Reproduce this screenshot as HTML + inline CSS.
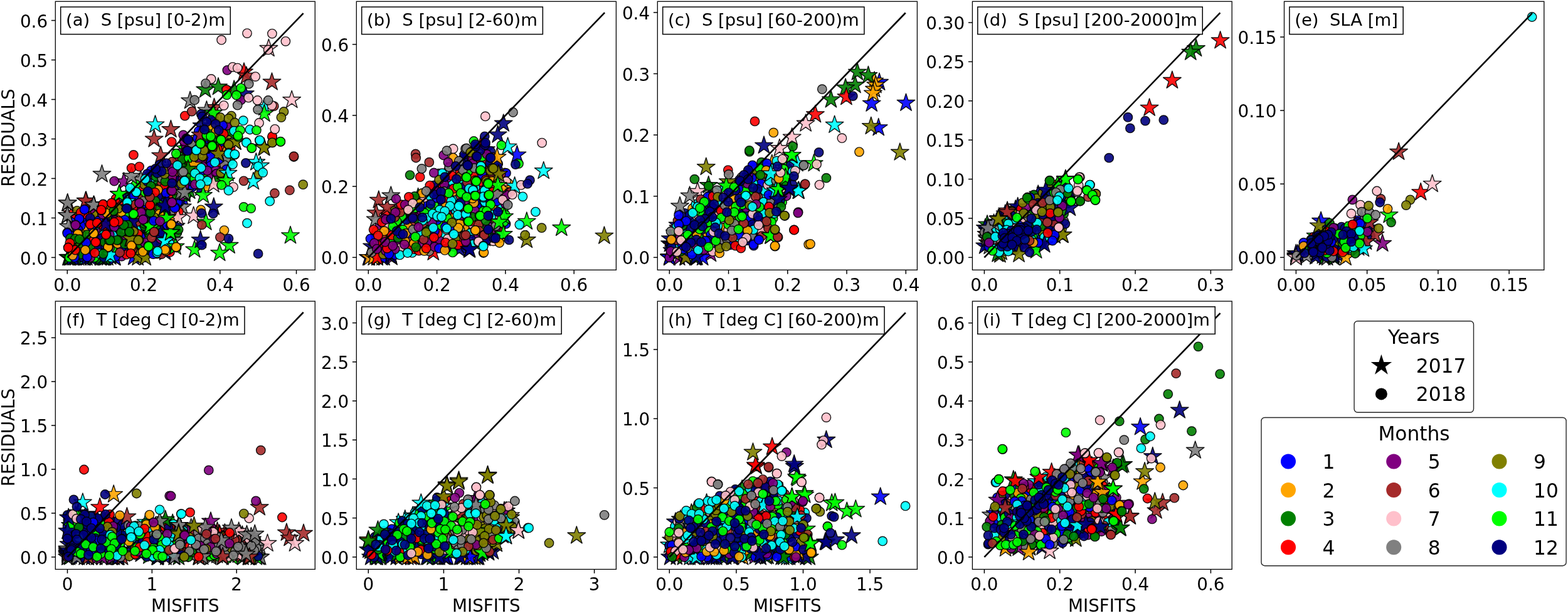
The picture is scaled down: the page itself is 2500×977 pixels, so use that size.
<!DOCTYPE html><html><head><meta charset="utf-8"><title>Misfits vs residuals</title><style>html,body{margin:0;padding:0;background:#fff;width:2500px;height:977px;overflow:hidden}svg{display:block}</style></head><body><svg width="2500" height="977" viewBox="0 0 2500 977">
<style>text{font-family:"DejaVu Sans","Liberation Sans",sans-serif;fill:#000}.t{font-size:27.78px}.b{font-size:27.45px}.l{font-size:31.25px}.sc{stroke:#000;stroke-width:1.4;fill-opacity:.9;stroke-opacity:.9;stroke-linejoin:round}.k1{fill:#0000ff}.k2{fill:#ffa500}.k3{fill:#008000}.k4{fill:#ff0000}.k5{fill:#800080}.k6{fill:#a52a2a}.k7{fill:#ffc0cb}.k8{fill:#808080}.k9{fill:#808000}.k10{fill:#00ffff}.k11{fill:#00ff00}.k12{fill:#000080}</style>
<rect width="2500" height="977" fill="#fff"/>
<defs><circle id="c" r="7.2"/><path id="s" d="M0.00,-15.00L-3.37,-4.64L-14.27,-4.64L-5.45,1.77L-8.82,12.14L-0.00,5.73L8.82,12.14L5.45,1.77L14.27,-4.64L3.37,-4.64Z"/>
<clipPath id="cpa"><rect x="88.3" y="2.3" width="414.0" height="428.0"/></clipPath>
<clipPath id="cpb"><rect x="568.3" y="2.3" width="414.1" height="428.0"/></clipPath>
<clipPath id="cpc"><rect x="1048.3" y="2.3" width="414.10000000000014" height="428.0"/></clipPath>
<clipPath id="cpd"><rect x="1550.4" y="2.3" width="413.79999999999995" height="428.0"/></clipPath>
<clipPath id="cpe"><rect x="2047.5" y="2.3" width="414.3000000000002" height="428.0"/></clipPath>
<clipPath id="cpf"><rect x="88.3" y="480.1" width="414.0" height="427.29999999999995"/></clipPath>
<clipPath id="cpg"><rect x="568.3" y="480.1" width="414.1" height="427.29999999999995"/></clipPath>
<clipPath id="cph"><rect x="1048.3" y="480.1" width="414.10000000000014" height="427.29999999999995"/></clipPath>
<clipPath id="cpi"><rect x="1550.4" y="480.1" width="413.79999999999995" height="427.29999999999995"/></clipPath>
</defs>
<g clip-path="url(#cpa)" class="sc"><use href="#s" x="300.5" y="256.4" class="k9"/><use href="#s" x="357.0" y="237.2" class="k4"/><use href="#s" x="235.0" y="320.5" class="k12"/><use href="#s" x="208.3" y="318.5" class="k9"/><use href="#s" x="157.0" y="365.4" class="k5"/><use href="#s" x="157.2" y="374.5" class="k5"/><use href="#s" x="108.5" y="410.4" class="k3"/><use href="#s" x="109.9" y="410.4" class="k5"/><use href="#s" x="291.8" y="263.9" class="k3"/><use href="#s" x="158.7" y="402.8" class="k5"/><use href="#s" x="224.2" y="303.4" class="k4"/><use href="#s" x="326.0" y="257.4" class="k4"/><use href="#s" x="124.7" y="410.4" class="k3"/><use href="#s" x="168.9" y="348.5" class="k5"/><use href="#s" x="160.7" y="410.4" class="k12"/><use href="#s" x="276.5" y="267.5" class="k5"/><use href="#s" x="292.4" y="288.6" class="k1"/><use href="#s" x="329.3" y="221.5" class="k4"/><use href="#s" x="253.8" y="360.6" class="k4"/><use href="#s" x="161.1" y="407.8" class="k1"/><use href="#s" x="193.3" y="320.0" class="k4"/><use href="#s" x="201.9" y="350.6" class="k3"/><use href="#s" x="304.7" y="274.0" class="k2"/><use href="#s" x="118.6" y="347.5" class="k1"/><use href="#s" x="338.0" y="226.1" class="k3"/><use href="#s" x="229.4" y="369.3" class="k12"/><use href="#s" x="168.2" y="410.4" class="k3"/><use href="#s" x="308.1" y="250.0" class="k5"/><use href="#s" x="329.0" y="233.9" class="k1"/><use href="#s" x="111.7" y="410.4" class="k3"/><use href="#s" x="133.5" y="410.4" class="k10"/><use href="#s" x="171.5" y="410.4" class="k3"/><use href="#s" x="313.7" y="255.8" class="k3"/><use href="#s" x="134.8" y="410.4" class="k11"/><use href="#s" x="321.6" y="200.5" class="k12"/><use href="#s" x="267.4" y="314.0" class="k4"/><use href="#s" x="354.8" y="208.1" class="k9"/><use href="#s" x="213.2" y="409.7" class="k1"/><use href="#s" x="146.3" y="407.5" class="k3"/><use href="#s" x="294.4" y="247.9" class="k5"/><use href="#s" x="152.8" y="349.2" class="k1"/><use href="#s" x="249.9" y="297.4" class="k5"/><use href="#s" x="268.0" y="343.1" class="k2"/><use href="#s" x="252.8" y="365.4" class="k1"/><use href="#s" x="346.0" y="251.1" class="k1"/><use href="#s" x="211.2" y="336.4" class="k2"/><use href="#s" x="263.3" y="401.9" class="k12"/><use href="#s" x="135.6" y="410.4" class="k10"/><use href="#s" x="160.1" y="410.4" class="k1"/><use href="#s" x="244.3" y="279.9" class="k5"/><use href="#s" x="245.6" y="289.3" class="k10"/><use href="#s" x="292.5" y="307.6" class="k9"/><use href="#s" x="280.5" y="360.6" class="k12"/><use href="#s" x="253.5" y="393.5" class="k9"/><use href="#s" x="182.6" y="410.4" class="k3"/><use href="#s" x="112.2" y="410.4" class="k1"/><use href="#s" x="222.0" y="393.1" class="k3"/><use href="#s" x="188.8" y="366.2" class="k1"/><use href="#s" x="262.9" y="394.3" class="k1"/><use href="#s" x="257.3" y="319.9" class="k3"/><use href="#s" x="144.5" y="400.4" class="k6"/><use href="#s" x="291.7" y="316.8" class="k1"/><use href="#s" x="331.3" y="261.8" class="k4"/><use href="#s" x="129.0" y="410.4" class="k12"/><use href="#s" x="329.9" y="246.4" class="k6"/><use href="#s" x="181.5" y="392.1" class="k8"/><use href="#s" x="158.6" y="336.8" class="k4"/><use href="#s" x="112.4" y="410.4" class="k12"/><use href="#s" x="333.6" y="206.1" class="k3"/><use href="#s" x="110.5" y="410.2" class="k3"/><use href="#s" x="160.6" y="410.4" class="k1"/><use href="#s" x="249.0" y="328.2" class="k6"/><use href="#s" x="237.4" y="359.0" class="k12"/><use href="#s" x="120.6" y="410.4" class="k3"/><use href="#s" x="281.7" y="324.2" class="k2"/><use href="#s" x="130.0" y="370.5" class="k6"/><use href="#s" x="144.3" y="355.3" class="k5"/><use href="#s" x="294.5" y="309.3" class="k6"/><use href="#s" x="114.7" y="340.5" class="k4"/><use href="#s" x="211.5" y="366.3" class="k11"/><use href="#s" x="302.2" y="304.2" class="k3"/><use href="#s" x="361.9" y="218.8" class="k9"/><use href="#s" x="311.7" y="274.1" class="k6"/><use href="#s" x="176.3" y="409.0" class="k3"/><use href="#s" x="182.6" y="351.8" class="k12"/><use href="#s" x="258.8" y="306.9" class="k9"/><use href="#s" x="224.9" y="376.3" class="k6"/><use href="#s" x="317.6" y="261.0" class="k5"/><use href="#s" x="183.4" y="410.4" class="k1"/><use href="#s" x="260.3" y="384.1" class="k2"/><use href="#s" x="320.4" y="299.4" class="k12"/><use href="#s" x="157.1" y="387.4" class="k1"/><use href="#s" x="273.7" y="286.0" class="k2"/><use href="#s" x="214.0" y="340.8" class="k1"/><use href="#s" x="138.4" y="410.4" class="k12"/><use href="#s" x="165.1" y="410.4" class="k1"/><use href="#s" x="164.1" y="410.4" class="k1"/><use href="#s" x="185.1" y="397.5" class="k11"/><use href="#s" x="148.7" y="410.4" class="k3"/><use href="#s" x="144.1" y="410.4" class="k12"/><use href="#s" x="288.8" y="242.4" class="k5"/><use href="#s" x="186.6" y="339.1" class="k2"/><use href="#s" x="118.1" y="410.4" class="k12"/><use href="#s" x="254.2" y="300.1" class="k5"/><use href="#s" x="228.2" y="355.1" class="k1"/><use href="#s" x="115.6" y="410.4" class="k1"/><use href="#s" x="339.5" y="233.2" class="k5"/><use href="#s" x="131.7" y="386.2" class="k1"/><use href="#s" x="365.1" y="209.5" class="k3"/><use href="#s" x="329.7" y="277.9" class="k9"/><use href="#s" x="166.8" y="410.4" class="k3"/><use href="#s" x="290.8" y="329.9" class="k8"/><use href="#s" x="161.7" y="409.6" class="k3"/><use href="#s" x="295.5" y="237.0" class="k11"/><use href="#s" x="358.0" y="245.3" class="k2"/><use href="#s" x="150.4" y="336.0" class="k2"/><use href="#s" x="224.4" y="286.4" class="k8"/><use href="#s" x="352.5" y="198.9" class="k9"/><use href="#s" x="277.5" y="382.7" class="k8"/><use href="#s" x="218.3" y="330.3" class="k4"/><use href="#s" x="155.7" y="391.4" class="k12"/><use href="#s" x="282.8" y="297.2" class="k1"/><use href="#s" x="266.3" y="320.9" class="k12"/><use href="#c" x="210.2" y="380.0" class="k5"/><use href="#c" x="274.5" y="283.9" class="k5"/><use href="#c" x="286.3" y="321.8" class="k12"/><use href="#c" x="184.5" y="316.9" class="k4"/><use href="#c" x="197.7" y="332.6" class="k1"/><use href="#c" x="148.6" y="342.1" class="k9"/><use href="#c" x="156.9" y="352.0" class="k1"/><use href="#c" x="251.7" y="292.6" class="k3"/><use href="#c" x="285.0" y="257.9" class="k5"/><use href="#c" x="133.8" y="351.7" class="k1"/><use href="#c" x="325.7" y="291.7" class="k3"/><use href="#c" x="227.4" y="310.9" class="k11"/><use href="#c" x="144.3" y="410.4" class="k3"/><use href="#c" x="113.9" y="391.8" class="k3"/><use href="#c" x="240.2" y="335.4" class="k4"/><use href="#c" x="258.2" y="392.9" class="k1"/><use href="#c" x="305.9" y="298.6" class="k1"/><use href="#c" x="361.9" y="200.0" class="k5"/><use href="#c" x="241.8" y="358.2" class="k4"/><use href="#c" x="248.4" y="281.5" class="k3"/><use href="#c" x="258.4" y="277.6" class="k6"/><use href="#c" x="137.2" y="407.6" class="k12"/><use href="#c" x="224.2" y="378.4" class="k4"/><use href="#c" x="240.9" y="271.9" class="k1"/><use href="#c" x="125.3" y="393.4" class="k4"/><use href="#c" x="281.7" y="281.0" class="k6"/><use href="#c" x="193.9" y="408.6" class="k5"/><use href="#c" x="266.3" y="347.9" class="k5"/><use href="#c" x="128.6" y="405.2" class="k3"/><use href="#c" x="336.9" y="200.1" class="k2"/><use href="#c" x="304.4" y="252.0" class="k6"/><use href="#c" x="353.6" y="268.8" class="k5"/><use href="#c" x="249.1" y="270.2" class="k12"/><use href="#c" x="165.9" y="368.0" class="k10"/><use href="#c" x="144.4" y="333.4" class="k5"/><use href="#c" x="173.1" y="369.0" class="k1"/><use href="#c" x="352.7" y="225.9" class="k1"/><use href="#c" x="312.6" y="228.1" class="k4"/><use href="#c" x="355.2" y="200.0" class="k1"/><use href="#c" x="251.9" y="311.1" class="k5"/><use href="#c" x="242.8" y="365.5" class="k9"/><use href="#c" x="242.3" y="317.5" class="k2"/><use href="#c" x="118.9" y="403.5" class="k9"/><use href="#c" x="271.3" y="353.6" class="k2"/><use href="#c" x="302.6" y="255.9" class="k12"/><use href="#c" x="345.3" y="226.6" class="k11"/><use href="#c" x="113.7" y="366.0" class="k5"/><use href="#c" x="176.4" y="367.9" class="k1"/><use href="#c" x="224.2" y="377.4" class="k1"/><use href="#c" x="339.9" y="190.0" class="k2"/><use href="#c" x="180.1" y="330.0" class="k1"/><use href="#c" x="255.3" y="331.2" class="k3"/><use href="#c" x="224.2" y="361.8" class="k9"/><use href="#c" x="274.1" y="295.1" class="k3"/><use href="#c" x="200.6" y="398.0" class="k1"/><use href="#c" x="317.6" y="294.4" class="k2"/><use href="#c" x="237.9" y="373.0" class="k3"/><use href="#c" x="181.1" y="347.4" class="k3"/><use href="#c" x="342.7" y="269.0" class="k5"/><use href="#c" x="353.6" y="279.2" class="k4"/><use href="#c" x="247.6" y="370.6" class="k9"/><use href="#c" x="242.6" y="388.6" class="k9"/><use href="#c" x="298.4" y="255.3" class="k3"/><use href="#c" x="348.7" y="252.6" class="k3"/><use href="#c" x="241.5" y="312.8" class="k1"/><use href="#c" x="225.9" y="329.9" class="k1"/><use href="#c" x="300.2" y="289.0" class="k12"/><use href="#c" x="295.9" y="239.4" class="k6"/><use href="#c" x="257.5" y="293.0" class="k6"/><use href="#c" x="336.1" y="260.4" class="k1"/><use href="#c" x="275.0" y="283.8" class="k5"/><use href="#c" x="205.6" y="367.5" class="k6"/><use href="#c" x="315.3" y="241.6" class="k1"/><use href="#c" x="139.0" y="364.5" class="k2"/><use href="#c" x="238.5" y="305.5" class="k6"/><use href="#c" x="303.4" y="234.2" class="k1"/><use href="#c" x="177.0" y="410.4" class="k10"/><use href="#c" x="258.0" y="393.4" class="k4"/><use href="#c" x="128.8" y="359.8" class="k1"/><use href="#c" x="287.8" y="285.8" class="k12"/><use href="#c" x="330.1" y="297.4" class="k2"/><use href="#c" x="224.8" y="336.7" class="k4"/><use href="#c" x="269.7" y="334.2" class="k1"/><use href="#c" x="282.9" y="250.7" class="k6"/><use href="#c" x="234.8" y="277.1" class="k12"/><use href="#c" x="208.2" y="363.8" class="k2"/><use href="#c" x="303.9" y="263.3" class="k3"/><use href="#c" x="235.4" y="351.6" class="k3"/><use href="#c" x="258.3" y="284.6" class="k8"/><use href="#c" x="308.5" y="222.5" class="k2"/><use href="#c" x="198.0" y="343.1" class="k10"/><use href="#c" x="163.0" y="335.3" class="k1"/><use href="#c" x="229.9" y="294.1" class="k9"/><use href="#c" x="270.9" y="401.9" class="k4"/><use href="#c" x="213.9" y="384.3" class="k1"/><use href="#c" x="224.6" y="390.1" class="k3"/><use href="#c" x="282.5" y="370.8" class="k3"/><use href="#c" x="320.1" y="270.9" class="k6"/><use href="#c" x="201.2" y="378.3" class="k5"/><use href="#c" x="211.0" y="325.5" class="k6"/><use href="#c" x="309.1" y="235.9" class="k3"/><use href="#c" x="179.2" y="338.9" class="k12"/><use href="#c" x="277.6" y="326.2" class="k2"/><use href="#c" x="206.4" y="349.9" class="k6"/><use href="#c" x="169.5" y="330.0" class="k2"/><use href="#c" x="175.1" y="394.8" class="k8"/><use href="#c" x="351.6" y="281.8" class="k9"/><use href="#c" x="250.2" y="366.0" class="k3"/><use href="#c" x="250.2" y="404.6" class="k2"/><use href="#c" x="293.4" y="301.5" class="k5"/><use href="#c" x="182.3" y="385.6" class="k3"/><use href="#c" x="366.9" y="256.3" class="k3"/><use href="#c" x="152.0" y="358.1" class="k3"/><use href="#c" x="133.1" y="345.5" class="k1"/><use href="#c" x="219.1" y="369.5" class="k2"/><use href="#c" x="150.6" y="410.4" class="k11"/><use href="#c" x="262.6" y="297.3" class="k4"/><use href="#c" x="336.5" y="249.7" class="k9"/><use href="#c" x="217.9" y="366.0" class="k10"/><use href="#c" x="263.4" y="289.2" class="k3"/><use href="#c" x="200.3" y="340.8" class="k11"/><use href="#c" x="163.8" y="341.8" class="k5"/><use href="#c" x="336.3" y="232.8" class="k8"/><use href="#c" x="290.8" y="277.3" class="k5"/><use href="#c" x="345.3" y="211.0" class="k3"/><use href="#c" x="153.1" y="358.4" class="k10"/><use href="#c" x="351.8" y="258.9" class="k4"/><use href="#c" x="316.8" y="208.8" class="k1"/><use href="#c" x="269.8" y="377.9" class="k1"/><use href="#c" x="224.3" y="405.1" class="k3"/><use href="#c" x="265.9" y="366.5" class="k2"/><use href="#c" x="274.1" y="394.5" class="k3"/><use href="#c" x="249.3" y="386.7" class="k12"/><use href="#c" x="173.1" y="369.9" class="k4"/><use href="#c" x="129.4" y="373.1" class="k2"/><use href="#c" x="186.7" y="374.4" class="k12"/><use href="#c" x="158.5" y="404.1" class="k10"/><use href="#c" x="337.9" y="280.0" class="k5"/><use href="#c" x="193.0" y="394.7" class="k1"/><use href="#c" x="139.9" y="409.9" class="k5"/><use href="#c" x="122.9" y="335.8" class="k9"/><use href="#c" x="260.8" y="343.7" class="k3"/><use href="#c" x="230.0" y="359.8" class="k3"/><use href="#c" x="360.3" y="253.8" class="k8"/><use href="#c" x="296.8" y="233.9" class="k5"/><use href="#c" x="275.2" y="366.6" class="k1"/><use href="#c" x="244.7" y="350.0" class="k9"/><use href="#c" x="184.2" y="408.8" class="k1"/><use href="#c" x="313.5" y="292.0" class="k2"/><use href="#c" x="206.8" y="306.1" class="k3"/><use href="#c" x="110.8" y="410.4" class="k11"/><use href="#c" x="256.2" y="380.7" class="k5"/><use href="#c" x="221.6" y="316.6" class="k6"/><use href="#c" x="323.7" y="265.3" class="k5"/><use href="#c" x="173.1" y="393.5" class="k4"/><use href="#c" x="325.0" y="274.1" class="k11"/><use href="#c" x="340.7" y="187.1" class="k6"/><use href="#c" x="231.4" y="348.0" class="k3"/><use href="#c" x="282.0" y="311.1" class="k3"/><use href="#c" x="338.7" y="224.0" class="k3"/><use href="#c" x="183.7" y="351.2" class="k5"/><use href="#c" x="344.6" y="209.2" class="k2"/><use href="#c" x="138.8" y="342.3" class="k4"/><use href="#c" x="320.3" y="219.7" class="k5"/><use href="#c" x="160.0" y="384.3" class="k4"/><use href="#c" x="194.3" y="378.4" class="k5"/><use href="#c" x="176.6" y="358.0" class="k5"/><use href="#c" x="144.2" y="410.4" class="k5"/><use href="#c" x="290.6" y="254.1" class="k3"/><use href="#c" x="305.3" y="227.7" class="k8"/><use href="#c" x="144.5" y="382.1" class="k4"/><use href="#c" x="357.9" y="263.1" class="k8"/><use href="#c" x="229.9" y="356.4" class="k3"/><use href="#c" x="228.3" y="320.6" class="k8"/><use href="#c" x="193.8" y="337.9" class="k2"/><use href="#c" x="203.1" y="389.9" class="k12"/><use href="#c" x="296.6" y="313.1" class="k11"/><use href="#c" x="262.4" y="277.4" class="k9"/><use href="#c" x="247.7" y="300.4" class="k3"/><use href="#c" x="229.9" y="408.1" class="k9"/><use href="#c" x="218.6" y="353.6" class="k6"/><use href="#c" x="321.0" y="218.5" class="k3"/><use href="#c" x="314.6" y="220.1" class="k1"/><use href="#c" x="349.4" y="254.0" class="k1"/><use href="#c" x="271.6" y="389.2" class="k10"/><use href="#c" x="164.9" y="360.0" class="k4"/><use href="#c" x="293.7" y="295.9" class="k5"/><use href="#c" x="257.5" y="405.1" class="k6"/><use href="#c" x="282.5" y="326.0" class="k3"/><use href="#c" x="201.7" y="405.7" class="k4"/><use href="#c" x="361.0" y="269.9" class="k1"/><use href="#c" x="138.9" y="409.7" class="k1"/><use href="#c" x="156.4" y="328.6" class="k10"/><use href="#c" x="147.7" y="357.4" class="k3"/><use href="#c" x="252.1" y="312.7" class="k12"/><use href="#c" x="161.6" y="380.4" class="k12"/><use href="#c" x="213.5" y="344.3" class="k12"/><use href="#c" x="216.6" y="293.9" class="k11"/><use href="#c" x="273.6" y="341.8" class="k8"/><use href="#c" x="278.4" y="348.6" class="k2"/><use href="#c" x="230.7" y="386.7" class="k5"/><use href="#c" x="143.7" y="347.6" class="k12"/><use href="#c" x="238.5" y="332.5" class="k4"/><use href="#c" x="356.5" y="213.5" class="k4"/><use href="#c" x="367.7" y="235.4" class="k4"/><use href="#c" x="266.5" y="358.5" class="k1"/><use href="#c" x="203.2" y="314.8" class="k12"/><use href="#c" x="118.9" y="410.4" class="k1"/><use href="#c" x="274.4" y="258.0" class="k6"/><use href="#c" x="345.1" y="277.0" class="k5"/><use href="#c" x="234.9" y="289.1" class="k12"/><use href="#c" x="202.2" y="357.1" class="k3"/><use href="#c" x="124.3" y="365.9" class="k1"/><use href="#c" x="241.7" y="379.1" class="k6"/><use href="#c" x="264.7" y="307.6" class="k1"/><use href="#c" x="166.0" y="410.4" class="k12"/><use href="#c" x="272.0" y="360.0" class="k12"/><use href="#c" x="213.4" y="368.5" class="k5"/><use href="#c" x="283.4" y="322.5" class="k1"/><use href="#c" x="247.4" y="320.0" class="k3"/><use href="#c" x="301.1" y="252.0" class="k11"/><use href="#c" x="272.9" y="302.7" class="k3"/><use href="#c" x="221.4" y="407.1" class="k2"/><use href="#c" x="274.5" y="325.5" class="k4"/><use href="#c" x="301.7" y="270.0" class="k6"/><use href="#c" x="242.0" y="402.1" class="k3"/><use href="#c" x="277.5" y="303.7" class="k9"/><use href="#c" x="290.1" y="312.1" class="k5"/><use href="#c" x="148.2" y="360.2" class="k11"/><use href="#c" x="138.6" y="374.1" class="k3"/><use href="#c" x="251.9" y="302.7" class="k2"/><use href="#c" x="284.6" y="366.0" class="k3"/><use href="#c" x="312.0" y="272.8" class="k9"/><use href="#c" x="322.9" y="271.8" class="k1"/><use href="#c" x="266.6" y="269.4" class="k9"/><use href="#c" x="211.4" y="397.7" class="k6"/><use href="#c" x="254.4" y="340.8" class="k2"/><use href="#c" x="192.0" y="357.3" class="k1"/><use href="#c" x="346.8" y="237.3" class="k4"/><use href="#c" x="256.6" y="375.7" class="k12"/><use href="#c" x="302.0" y="281.4" class="k3"/><use href="#c" x="213.9" y="312.2" class="k1"/><use href="#c" x="220.0" y="373.0" class="k4"/><use href="#c" x="258.0" y="370.3" class="k12"/><use href="#c" x="176.1" y="336.7" class="k2"/><use href="#c" x="182.2" y="361.7" class="k5"/><use href="#c" x="344.3" y="287.7" class="k3"/><use href="#c" x="166.6" y="385.9" class="k3"/><use href="#c" x="250.7" y="276.0" class="k12"/><use href="#c" x="338.8" y="231.2" class="k3"/><use href="#c" x="310.2" y="284.4" class="k11"/><use href="#c" x="115.9" y="407.1" class="k2"/><use href="#c" x="144.2" y="392.4" class="k3"/><use href="#c" x="246.7" y="346.8" class="k9"/><use href="#c" x="237.7" y="311.8" class="k3"/><use href="#c" x="179.9" y="375.3" class="k10"/><use href="#c" x="221.1" y="345.0" class="k9"/><use href="#c" x="213.1" y="369.0" class="k9"/><use href="#c" x="174.8" y="373.9" class="k5"/><use href="#c" x="127.9" y="387.9" class="k3"/><use href="#c" x="273.9" y="268.5" class="k5"/><use href="#c" x="146.1" y="361.2" class="k1"/><use href="#c" x="320.9" y="226.6" class="k5"/><use href="#c" x="285.0" y="337.3" class="k4"/><use href="#c" x="240.7" y="296.5" class="k3"/><use href="#c" x="187.5" y="388.5" class="k2"/><use href="#c" x="198.9" y="388.8" class="k3"/><use href="#c" x="128.8" y="338.7" class="k4"/><use href="#c" x="233.5" y="340.9" class="k12"/><use href="#c" x="229.9" y="399.9" class="k3"/><use href="#c" x="188.2" y="332.3" class="k9"/><use href="#c" x="291.4" y="285.4" class="k5"/><use href="#c" x="352.0" y="275.3" class="k9"/><use href="#c" x="340.3" y="241.5" class="k6"/><use href="#c" x="275.1" y="273.8" class="k5"/><use href="#s" x="337.1" y="248.9" class="k1"/><use href="#s" x="308.6" y="263.1" class="k2"/><use href="#s" x="299.9" y="269.7" class="k3"/><use href="#s" x="327.2" y="142.9" class="k3"/><use href="#s" x="348.0" y="138.6" class="k3"/><use href="#s" x="373.2" y="142.9" class="k3"/><use href="#s" x="389.0" y="114.9" class="k4"/><use href="#s" x="197.5" y="289.7" class="k5"/><use href="#s" x="137.2" y="320.0" class="k6"/><use href="#s" x="272.4" y="206.4" class="k6"/><use href="#s" x="245.7" y="221.8" class="k6"/><use href="#s" x="256.2" y="248.0" class="k6"/><use href="#s" x="136.6" y="320.3" class="k6"/><use href="#s" x="392.9" y="121.0" class="k6"/><use href="#s" x="433.5" y="130.9" class="k6"/><use href="#s" x="341.5" y="171.4" class="k6"/><use href="#s" x="319.6" y="215.2" class="k6"/><use href="#s" x="283.6" y="346.6" class="k7"/><use href="#s" x="340.4" y="293.8" class="k7"/><use href="#s" x="308.6" y="344.1" class="k7"/><use href="#s" x="428.4" y="77.2" class="k7"/><use href="#s" x="465.2" y="159.4" class="k7"/><use href="#s" x="107.7" y="324.0" class="k8"/><use href="#s" x="149.9" y="327.3" class="k8"/><use href="#s" x="107.3" y="343.9" class="k8"/><use href="#s" x="109.3" y="361.2" class="k8"/><use href="#s" x="290.9" y="306.7" class="k8"/><use href="#s" x="162.5" y="277.6" class="k8"/><use href="#s" x="209.6" y="280.9" class="k8"/><use href="#s" x="107.7" y="323.6" class="k8"/><use href="#s" x="149.3" y="326.9" class="k8"/><use href="#s" x="107.3" y="343.3" class="k8"/><use href="#s" x="288.4" y="306.1" class="k8"/><use href="#s" x="294.4" y="306.9" class="k8"/><use href="#s" x="303.1" y="160.5" class="k8"/><use href="#s" x="329.4" y="175.8" class="k8"/><use href="#s" x="207.8" y="379.8" class="k9"/><use href="#s" x="219.7" y="410.4" class="k9"/><use href="#s" x="231.7" y="410.4" class="k9"/><use href="#s" x="208.5" y="380.6" class="k9"/><use href="#s" x="375.4" y="225.9" class="k9"/><use href="#s" x="348.0" y="245.6" class="k9"/><use href="#s" x="421.0" y="234.6" class="k9"/><use href="#s" x="375.4" y="226.2" class="k9"/><use href="#s" x="421.0" y="235.6" class="k9"/><use href="#s" x="175.8" y="406.4" class="k10"/><use href="#s" x="202.4" y="321.3" class="k10"/><use href="#s" x="263.6" y="383.8" class="k10"/><use href="#s" x="247.5" y="198.8" class="k10"/><use href="#s" x="263.2" y="383.8" class="k10"/><use href="#s" x="408.3" y="258.7" class="k10"/><use href="#s" x="414.9" y="264.2" class="k10"/><use href="#s" x="363.4" y="276.2" class="k10"/><use href="#s" x="403.9" y="289.4" class="k10"/><use href="#s" x="421.4" y="171.4" class="k10"/><use href="#s" x="190.5" y="310.0" class="k11"/><use href="#s" x="241.0" y="362.5" class="k11"/><use href="#s" x="272.3" y="370.5" class="k11"/><use href="#s" x="279.6" y="393.1" class="k11"/><use href="#s" x="189.9" y="309.4" class="k11"/><use href="#s" x="239.1" y="359.8" class="k11"/><use href="#s" x="272.0" y="370.7" class="k11"/><use href="#s" x="265.4" y="347.7" class="k11"/><use href="#s" x="360.1" y="288.3" class="k11"/><use href="#s" x="324.0" y="311.3" class="k11"/><use href="#s" x="328.3" y="354.0" class="k11"/><use href="#s" x="365.6" y="391.2" class="k11"/><use href="#s" x="463.0" y="375.5" class="k11"/><use href="#s" x="310.2" y="397.8" class="k11"/><use href="#s" x="350.2" y="403.3" class="k11"/><use href="#s" x="421.4" y="181.3" class="k11"/><use href="#s" x="339.9" y="180.2" class="k11"/><use href="#s" x="168.5" y="357.2" class="k12"/><use href="#s" x="211.1" y="353.2" class="k12"/><use href="#s" x="262.3" y="329.9" class="k12"/><use href="#s" x="263.2" y="328.0" class="k12"/><use href="#s" x="340.8" y="329.9" class="k12"/><use href="#s" x="319.6" y="382.5" class="k12"/><use href="#s" x="390.8" y="149.5" class="k12"/><use href="#c" x="134.8" y="333.9" class="k1"/><use href="#c" x="126.6" y="349.2" class="k1"/><use href="#c" x="107.3" y="370.5" class="k1"/><use href="#c" x="111.3" y="374.5" class="k1"/><use href="#c" x="137.2" y="386.5" class="k1"/><use href="#c" x="199.1" y="350.6" class="k1"/><use href="#c" x="279.6" y="330.6" class="k1"/><use href="#c" x="245.0" y="351.9" class="k1"/><use href="#c" x="244.3" y="405.1" class="k1"/><use href="#c" x="134.7" y="333.9" class="k1"/><use href="#c" x="107.3" y="371.8" class="k1"/><use href="#c" x="126.3" y="348.8" class="k1"/><use href="#c" x="278.6" y="331.3" class="k1"/><use href="#c" x="125.3" y="372.5" class="k2"/><use href="#c" x="135.9" y="398.5" class="k2"/><use href="#c" x="170.5" y="339.9" class="k2"/><use href="#c" x="149.9" y="371.9" class="k2"/><use href="#c" x="172.5" y="394.5" class="k2"/><use href="#c" x="273.6" y="357.2" class="k2"/><use href="#c" x="210.4" y="393.1" class="k2"/><use href="#c" x="227.7" y="401.1" class="k2"/><use href="#c" x="264.3" y="399.8" class="k2"/><use href="#c" x="281.6" y="394.5" class="k2"/><use href="#c" x="124.1" y="372.9" class="k2"/><use href="#c" x="149.3" y="371.8" class="k2"/><use href="#c" x="172.3" y="393.7" class="k2"/><use href="#c" x="209.6" y="391.5" class="k2"/><use href="#c" x="273.1" y="357.6" class="k2"/><use href="#c" x="280.8" y="393.7" class="k2"/><use href="#c" x="263.2" y="398.1" class="k2"/><use href="#c" x="320.2" y="334.3" class="k2"/><use href="#c" x="357.5" y="367.1" class="k2"/><use href="#c" x="112.0" y="379.8" class="k3"/><use href="#c" x="119.9" y="380.5" class="k3"/><use href="#c" x="126.6" y="381.2" class="k3"/><use href="#c" x="181.1" y="335.9" class="k3"/><use href="#c" x="173.8" y="383.2" class="k3"/><use href="#c" x="164.5" y="404.5" class="k3"/><use href="#c" x="193.1" y="370.5" class="k3"/><use href="#c" x="188.5" y="382.5" class="k3"/><use href="#c" x="203.8" y="358.5" class="k3"/><use href="#c" x="206.4" y="369.9" class="k3"/><use href="#c" x="239.7" y="338.6" class="k3"/><use href="#c" x="197.5" y="358.7" class="k3"/><use href="#c" x="206.3" y="369.6" class="k3"/><use href="#c" x="186.6" y="382.8" class="k3"/><use href="#c" x="175.6" y="382.8" class="k3"/><use href="#c" x="111.3" y="387.2" class="k4"/><use href="#c" x="108.6" y="394.5" class="k4"/><use href="#c" x="119.9" y="398.5" class="k4"/><use href="#c" x="164.5" y="325.3" class="k4"/><use href="#c" x="178.5" y="324.0" class="k4"/><use href="#c" x="161.8" y="335.3" class="k4"/><use href="#c" x="143.9" y="357.2" class="k4"/><use href="#c" x="155.2" y="355.9" class="k4"/><use href="#c" x="183.1" y="353.9" class="k4"/><use href="#c" x="189.1" y="352.6" class="k4"/><use href="#c" x="169.2" y="373.8" class="k4"/><use href="#c" x="153.2" y="385.8" class="k4"/><use href="#c" x="151.2" y="403.1" class="k4"/><use href="#c" x="247.0" y="306.7" class="k4"/><use href="#c" x="239.7" y="327.3" class="k4"/><use href="#c" x="208.4" y="403.8" class="k4"/><use href="#c" x="273.7" y="226.1" class="k4"/><use href="#c" x="212.9" y="246.9" class="k4"/><use href="#c" x="209.6" y="267.8" class="k4"/><use href="#c" x="222.1" y="265.6" class="k4"/><use href="#c" x="164.2" y="325.8" class="k4"/><use href="#c" x="177.8" y="323.6" class="k4"/><use href="#c" x="161.4" y="334.6" class="k4"/><use href="#c" x="143.9" y="357.6" class="k4"/><use href="#c" x="154.8" y="355.4" class="k4"/><use href="#c" x="182.2" y="354.3" class="k4"/><use href="#c" x="169.0" y="374.0" class="k4"/><use href="#c" x="152.6" y="386.0" class="k4"/><use href="#c" x="108.8" y="394.8" class="k4"/><use href="#c" x="239.1" y="326.9" class="k4"/><use href="#c" x="434.1" y="218.2" class="k4"/><use href="#c" x="361.2" y="142.9" class="k4"/><use href="#c" x="294.8" y="184.6" class="k4"/><use href="#c" x="434.1" y="217.4" class="k4"/><use href="#c" x="120.6" y="358.5" class="k5"/><use href="#c" x="222.4" y="324.0" class="k5"/><use href="#c" x="225.1" y="338.6" class="k5"/><use href="#c" x="228.4" y="349.9" class="k5"/><use href="#c" x="274.3" y="322.6" class="k5"/><use href="#c" x="273.0" y="304.0" class="k5"/><use href="#c" x="255.0" y="352.6" class="k5"/><use href="#c" x="182.2" y="288.6" class="k5"/><use href="#c" x="120.4" y="358.7" class="k5"/><use href="#c" x="222.1" y="323.6" class="k5"/><use href="#c" x="228.2" y="349.9" class="k5"/><use href="#c" x="274.2" y="322.5" class="k5"/><use href="#c" x="274.2" y="303.9" class="k5"/><use href="#c" x="293.3" y="224.8" class="k5"/><use href="#c" x="330.5" y="271.9" class="k5"/><use href="#c" x="310.8" y="293.8" class="k5"/><use href="#c" x="362.3" y="111.8" class="k5"/><use href="#c" x="384.2" y="159.4" class="k5"/><use href="#c" x="292.2" y="215.2" class="k5"/><use href="#c" x="239.0" y="314.0" class="k6"/><use href="#c" x="246.3" y="369.9" class="k6"/><use href="#c" x="191.1" y="402.5" class="k6"/><use href="#c" x="245.7" y="369.6" class="k6"/><use href="#c" x="468.5" y="250.0" class="k6"/><use href="#c" x="388.6" y="288.3" class="k6"/><use href="#c" x="437.9" y="308.0" class="k6"/><use href="#c" x="461.9" y="303.2" class="k6"/><use href="#c" x="321.8" y="358.4" class="k6"/><use href="#c" x="350.9" y="378.1" class="k6"/><use href="#c" x="436.8" y="169.2" class="k6"/><use href="#c" x="305.8" y="177.6" class="k6"/><use href="#c" x="468.5" y="249.2" class="k6"/><use href="#c" x="372.1" y="298.1" class="k7"/><use href="#c" x="353.1" y="63.7" class="k7"/><use href="#c" x="394.0" y="53.1" class="k7"/><use href="#c" x="433.9" y="53.6" class="k7"/><use href="#c" x="455.4" y="65.8" class="k7"/><use href="#c" x="427.6" y="79.4" class="k7"/><use href="#c" x="371.0" y="106.8" class="k7"/><use href="#c" x="378.7" y="108.3" class="k7"/><use href="#c" x="407.2" y="122.1" class="k7"/><use href="#c" x="336.7" y="125.9" class="k7"/><use href="#c" x="396.2" y="155.7" class="k7"/><use href="#c" x="356.8" y="168.1" class="k7"/><use href="#c" x="410.5" y="160.0" class="k7"/><use href="#c" x="433.5" y="168.1" class="k7"/><use href="#c" x="413.1" y="196.0" class="k7"/><use href="#c" x="438.3" y="205.8" class="k7"/><use href="#c" x="290.6" y="275.4" class="k8"/><use href="#c" x="292.2" y="274.0" class="k8"/><use href="#c" x="327.9" y="133.1" class="k8"/><use href="#c" x="396.7" y="133.7" class="k8"/><use href="#c" x="378.7" y="167.7" class="k8"/><use href="#c" x="427.6" y="160.0" class="k8"/><use href="#c" x="411.1" y="174.7" class="k8"/><use href="#c" x="310.2" y="159.4" class="k8"/><use href="#c" x="221.7" y="382.5" class="k9"/><use href="#c" x="220.5" y="382.8" class="k9"/><use href="#c" x="289.5" y="292.9" class="k9"/><use href="#c" x="363.4" y="230.2" class="k9"/><use href="#c" x="326.1" y="239.0" class="k9"/><use href="#c" x="309.7" y="250.0" class="k9"/><use href="#c" x="322.9" y="248.9" class="k9"/><use href="#c" x="434.1" y="227.4" class="k9"/><use href="#c" x="412.7" y="277.3" class="k9"/><use href="#c" x="483.2" y="294.2" class="k9"/><use href="#c" x="452.5" y="178.0" class="k9"/><use href="#c" x="448.4" y="187.2" class="k9"/><use href="#c" x="351.3" y="187.2" class="k9"/><use href="#c" x="368.9" y="184.6" class="k9"/><use href="#c" x="364.5" y="188.9" class="k9"/><use href="#c" x="374.3" y="195.5" class="k9"/><use href="#c" x="364.5" y="230.6" class="k9"/><use href="#c" x="433.9" y="227.3" class="k9"/><use href="#c" x="325.0" y="239.3" class="k9"/><use href="#c" x="217.7" y="306.7" class="k10"/><use href="#c" x="250.3" y="403.1" class="k10"/><use href="#c" x="203.0" y="322.5" class="k10"/><use href="#c" x="217.2" y="306.1" class="k10"/><use href="#c" x="207.4" y="299.5" class="k10"/><use href="#c" x="231.5" y="285.3" class="k10"/><use href="#c" x="251.2" y="400.3" class="k10"/><use href="#c" x="282.9" y="263.4" class="k10"/><use href="#c" x="293.9" y="287.5" class="k10"/><use href="#c" x="313.0" y="239.0" class="k10"/><use href="#c" x="392.9" y="227.0" class="k10"/><use href="#c" x="413.8" y="223.7" class="k10"/><use href="#c" x="364.5" y="243.4" class="k10"/><use href="#c" x="374.3" y="246.7" class="k10"/><use href="#c" x="342.6" y="258.7" class="k10"/><use href="#c" x="371.0" y="262.0" class="k10"/><use href="#c" x="411.6" y="265.3" class="k10"/><use href="#c" x="419.2" y="275.1" class="k10"/><use href="#c" x="320.7" y="267.5" class="k10"/><use href="#c" x="310.8" y="276.2" class="k10"/><use href="#c" x="318.5" y="283.9" class="k10"/><use href="#c" x="330.5" y="288.3" class="k10"/><use href="#c" x="294.4" y="288.3" class="k10"/><use href="#c" x="319.6" y="293.8" class="k10"/><use href="#c" x="364.5" y="303.6" class="k10"/><use href="#c" x="430.2" y="320.7" class="k10"/><use href="#c" x="394.0" y="355.7" class="k10"/><use href="#c" x="387.9" y="192.2" class="k10"/><use href="#c" x="373.2" y="208.7" class="k10"/><use href="#c" x="398.4" y="206.5" class="k10"/><use href="#c" x="392.9" y="227.3" class="k10"/><use href="#c" x="414.2" y="223.6" class="k10"/><use href="#c" x="313.0" y="239.3" class="k10"/><use href="#c" x="364.5" y="244.8" class="k10"/><use href="#c" x="374.3" y="245.9" class="k10"/><use href="#c" x="213.1" y="341.9" class="k11"/><use href="#c" x="236.4" y="391.8" class="k11"/><use href="#c" x="212.9" y="341.1" class="k11"/><use href="#c" x="236.9" y="392.6" class="k11"/><use href="#c" x="280.8" y="244.8" class="k11"/><use href="#c" x="329.4" y="217.1" class="k11"/><use href="#c" x="352.4" y="222.6" class="k11"/><use href="#c" x="379.8" y="218.2" class="k11"/><use href="#c" x="320.2" y="229.1" class="k11"/><use href="#c" x="338.2" y="233.1" class="k11"/><use href="#c" x="447.3" y="225.9" class="k11"/><use href="#c" x="401.3" y="236.2" class="k11"/><use href="#c" x="353.1" y="294.9" class="k11"/><use href="#c" x="388.6" y="329.9" class="k11"/><use href="#c" x="400.2" y="332.1" class="k11"/><use href="#c" x="384.2" y="140.3" class="k11"/><use href="#c" x="361.6" y="151.3" class="k11"/><use href="#c" x="377.0" y="151.7" class="k11"/><use href="#c" x="383.1" y="207.6" class="k11"/><use href="#c" x="379.4" y="216.3" class="k11"/><use href="#c" x="408.9" y="207.6" class="k11"/><use href="#c" x="329.4" y="215.2" class="k11"/><use href="#c" x="336.0" y="217.4" class="k11"/><use href="#c" x="352.4" y="222.9" class="k11"/><use href="#c" x="319.6" y="228.8" class="k11"/><use href="#c" x="338.2" y="232.8" class="k11"/><use href="#c" x="447.3" y="225.7" class="k11"/><use href="#c" x="401.3" y="236.0" class="k11"/><use href="#c" x="202.4" y="331.9" class="k12"/><use href="#c" x="235.7" y="305.3" class="k12"/><use href="#c" x="201.9" y="332.4" class="k12"/><use href="#c" x="235.9" y="305.0" class="k12"/><use href="#c" x="274.2" y="291.9" class="k12"/><use href="#c" x="297.2" y="220.7" class="k12"/><use href="#c" x="254.5" y="262.3" class="k12"/><use href="#c" x="265.4" y="260.1" class="k12"/><use href="#c" x="257.8" y="273.2" class="k12"/><use href="#c" x="247.9" y="268.9" class="k12"/><use href="#c" x="299.9" y="222.6" class="k12"/><use href="#c" x="297.7" y="240.1" class="k12"/><use href="#c" x="391.9" y="259.8" class="k12"/><use href="#c" x="321.3" y="339.8" class="k12"/><use href="#c" x="339.9" y="340.4" class="k12"/><use href="#c" x="364.5" y="380.3" class="k12"/><use href="#c" x="321.8" y="390.6" class="k12"/><use href="#c" x="411.6" y="404.4" class="k12"/><use href="#c" x="320.7" y="181.9" class="k12"/><use href="#c" x="322.4" y="185.7" class="k12"/><use href="#c" x="336.0" y="191.1" class="k12"/><use href="#c" x="329.4" y="194.4" class="k12"/><use href="#c" x="343.7" y="197.7" class="k12"/><use href="#c" x="348.7" y="207.6" class="k12"/><use href="#c" x="326.1" y="206.5" class="k12"/><use href="#c" x="299.9" y="222.9" class="k12"/><use href="#c" x="298.8" y="240.4" class="k12"/></g>
<g clip-path="url(#cpa)"><line x1="107.30" y1="410.40" x2="483.66" y2="21.06" stroke="#000" stroke-width="2.6"/></g>
<rect x="88.3" y="2.3" width="414.00" height="428.00" fill="none" stroke="#000" stroke-width="1.3"/>
<line x1="107.30" y1="430.3" x2="107.30" y2="436.7" stroke="#000" stroke-width="1.5"/>
<text class="t" x="107.30" y="463.9" text-anchor="middle">0.0</text>
<line x1="229.04" y1="430.3" x2="229.04" y2="436.7" stroke="#000" stroke-width="1.5"/>
<text class="t" x="229.04" y="463.9" text-anchor="middle">0.2</text>
<line x1="350.78" y1="430.3" x2="350.78" y2="436.7" stroke="#000" stroke-width="1.5"/>
<text class="t" x="350.78" y="463.9" text-anchor="middle">0.4</text>
<line x1="472.52" y1="430.3" x2="472.52" y2="436.7" stroke="#000" stroke-width="1.5"/>
<text class="t" x="472.52" y="463.9" text-anchor="middle">0.6</text>
<line x1="81.89999999999999" y1="410.40" x2="88.3" y2="410.40" stroke="#000" stroke-width="1.5"/>
<text class="t" x="76.10" y="421.50" text-anchor="end">0.0</text>
<line x1="81.89999999999999" y1="347.43" x2="88.3" y2="347.43" stroke="#000" stroke-width="1.5"/>
<text class="t" x="76.10" y="358.53" text-anchor="end">0.1</text>
<line x1="81.89999999999999" y1="284.46" x2="88.3" y2="284.46" stroke="#000" stroke-width="1.5"/>
<text class="t" x="76.10" y="295.56" text-anchor="end">0.2</text>
<line x1="81.89999999999999" y1="221.49" x2="88.3" y2="221.49" stroke="#000" stroke-width="1.5"/>
<text class="t" x="76.10" y="232.59" text-anchor="end">0.3</text>
<line x1="81.89999999999999" y1="158.52" x2="88.3" y2="158.52" stroke="#000" stroke-width="1.5"/>
<text class="t" x="76.10" y="169.62" text-anchor="end">0.4</text>
<line x1="81.89999999999999" y1="95.55" x2="88.3" y2="95.55" stroke="#000" stroke-width="1.5"/>
<text class="t" x="76.10" y="106.65" text-anchor="end">0.5</text>
<line x1="81.89999999999999" y1="32.58" x2="88.3" y2="32.58" stroke="#000" stroke-width="1.5"/>
<text class="t" x="76.10" y="43.68" text-anchor="end">0.6</text>
<rect x="96.70" y="11.10" width="270.58" height="43.5" fill="#fff" stroke="#000" stroke-width="1.5"/>
<text class="b" x="105.00" y="41.30" xml:space="preserve" style="white-space:pre">(a)  S [psu] [0-2)m</text>
<text class="t" transform="translate(23,219.60) rotate(-90)" text-anchor="middle">RESIDUALS</text>
<g clip-path="url(#cpb)" class="sc"><use href="#s" x="611.8" y="396.3" class="k1"/><use href="#s" x="611.2" y="400.2" class="k9"/><use href="#s" x="732.4" y="396.9" class="k12"/><use href="#s" x="601.7" y="407.8" class="k4"/><use href="#s" x="765.3" y="324.4" class="k1"/><use href="#s" x="773.3" y="265.8" class="k4"/><use href="#s" x="600.3" y="405.9" class="k2"/><use href="#s" x="656.0" y="341.9" class="k11"/><use href="#s" x="719.0" y="340.9" class="k12"/><use href="#s" x="587.3" y="410.3" class="k12"/><use href="#s" x="593.1" y="392.8" class="k12"/><use href="#s" x="666.6" y="314.5" class="k3"/><use href="#s" x="601.7" y="410.3" class="k4"/><use href="#s" x="624.6" y="409.8" class="k5"/><use href="#s" x="614.1" y="376.1" class="k9"/><use href="#s" x="760.2" y="257.2" class="k4"/><use href="#s" x="745.9" y="257.6" class="k4"/><use href="#s" x="711.9" y="274.2" class="k10"/><use href="#s" x="772.8" y="379.5" class="k6"/><use href="#s" x="721.8" y="348.5" class="k2"/><use href="#s" x="620.3" y="406.1" class="k2"/><use href="#s" x="653.3" y="386.4" class="k6"/><use href="#s" x="607.1" y="400.3" class="k2"/><use href="#s" x="618.9" y="403.9" class="k12"/><use href="#s" x="688.0" y="389.6" class="k12"/><use href="#s" x="778.3" y="290.9" class="k2"/><use href="#s" x="619.0" y="405.9" class="k4"/><use href="#s" x="798.6" y="305.7" class="k4"/><use href="#s" x="612.5" y="410.3" class="k12"/><use href="#s" x="606.9" y="402.3" class="k12"/><use href="#s" x="774.9" y="238.5" class="k5"/><use href="#s" x="587.3" y="410.3" class="k1"/><use href="#s" x="645.4" y="355.3" class="k4"/><use href="#s" x="589.0" y="410.3" class="k2"/><use href="#s" x="746.6" y="346.9" class="k2"/><use href="#s" x="609.5" y="410.3" class="k1"/><use href="#s" x="690.8" y="402.1" class="k4"/><use href="#s" x="601.3" y="394.2" class="k9"/><use href="#s" x="746.6" y="249.7" class="k6"/><use href="#s" x="595.7" y="410.3" class="k2"/><use href="#s" x="610.9" y="400.4" class="k12"/><use href="#s" x="611.0" y="396.7" class="k12"/><use href="#s" x="759.2" y="377.6" class="k5"/><use href="#s" x="670.2" y="317.1" class="k4"/><use href="#s" x="722.9" y="273.0" class="k7"/><use href="#s" x="733.2" y="384.4" class="k3"/><use href="#s" x="713.6" y="297.2" class="k12"/><use href="#s" x="623.2" y="407.6" class="k1"/><use href="#s" x="738.3" y="281.7" class="k2"/><use href="#s" x="679.5" y="340.9" class="k1"/><use href="#s" x="706.9" y="373.4" class="k10"/><use href="#s" x="601.4" y="410.3" class="k4"/><use href="#s" x="744.5" y="356.4" class="k1"/><use href="#s" x="766.5" y="232.3" class="k4"/><use href="#s" x="674.9" y="357.9" class="k6"/><use href="#s" x="623.4" y="405.5" class="k12"/><use href="#c" x="728.9" y="297.8" class="k5"/><use href="#c" x="769.5" y="294.3" class="k4"/><use href="#c" x="773.1" y="366.3" class="k2"/><use href="#c" x="746.3" y="262.9" class="k10"/><use href="#c" x="644.0" y="356.8" class="k10"/><use href="#c" x="620.5" y="368.7" class="k5"/><use href="#c" x="616.1" y="394.3" class="k8"/><use href="#c" x="803.0" y="333.7" class="k11"/><use href="#c" x="636.4" y="372.7" class="k7"/><use href="#c" x="733.0" y="341.8" class="k12"/><use href="#c" x="735.4" y="385.1" class="k4"/><use href="#c" x="668.8" y="339.3" class="k7"/><use href="#c" x="724.3" y="393.3" class="k1"/><use href="#c" x="657.1" y="402.9" class="k10"/><use href="#c" x="703.2" y="358.5" class="k3"/><use href="#c" x="651.0" y="327.1" class="k3"/><use href="#c" x="632.7" y="362.0" class="k2"/><use href="#c" x="642.9" y="336.6" class="k2"/><use href="#c" x="641.5" y="401.2" class="k9"/><use href="#c" x="776.0" y="279.1" class="k2"/><use href="#c" x="630.8" y="384.6" class="k12"/><use href="#c" x="716.0" y="334.6" class="k4"/><use href="#c" x="604.6" y="394.5" class="k10"/><use href="#c" x="766.9" y="304.0" class="k5"/><use href="#c" x="685.9" y="344.6" class="k10"/><use href="#c" x="697.6" y="328.0" class="k11"/><use href="#c" x="788.2" y="278.3" class="k12"/><use href="#c" x="702.2" y="301.2" class="k3"/><use href="#c" x="705.8" y="324.1" class="k1"/><use href="#c" x="773.0" y="321.9" class="k10"/><use href="#c" x="604.1" y="392.8" class="k5"/><use href="#c" x="658.9" y="355.9" class="k6"/><use href="#c" x="760.2" y="328.8" class="k1"/><use href="#c" x="681.4" y="367.7" class="k3"/><use href="#c" x="785.2" y="331.9" class="k2"/><use href="#c" x="769.0" y="363.7" class="k11"/><use href="#c" x="689.0" y="302.1" class="k4"/><use href="#c" x="650.8" y="361.5" class="k2"/><use href="#c" x="614.7" y="340.8" class="k4"/><use href="#c" x="796.9" y="379.7" class="k12"/><use href="#c" x="685.1" y="376.8" class="k4"/><use href="#c" x="790.4" y="266.3" class="k10"/><use href="#c" x="592.3" y="402.4" class="k8"/><use href="#c" x="677.8" y="325.3" class="k1"/><use href="#c" x="710.6" y="343.6" class="k6"/><use href="#c" x="798.9" y="324.5" class="k10"/><use href="#c" x="738.5" y="252.2" class="k12"/><use href="#c" x="720.6" y="288.8" class="k10"/><use href="#c" x="782.0" y="240.8" class="k12"/><use href="#c" x="753.0" y="293.9" class="k1"/><use href="#c" x="802.5" y="297.8" class="k2"/><use href="#c" x="651.5" y="372.0" class="k1"/><use href="#c" x="806.6" y="356.9" class="k1"/><use href="#c" x="646.3" y="387.9" class="k8"/><use href="#c" x="775.7" y="298.0" class="k12"/><use href="#c" x="793.5" y="268.5" class="k12"/><use href="#c" x="798.6" y="361.9" class="k4"/><use href="#c" x="783.8" y="374.3" class="k11"/><use href="#c" x="637.2" y="386.1" class="k5"/><use href="#c" x="751.5" y="320.1" class="k12"/><use href="#c" x="711.9" y="366.1" class="k7"/><use href="#c" x="702.9" y="315.8" class="k6"/><use href="#c" x="601.1" y="377.9" class="k10"/><use href="#c" x="648.0" y="350.5" class="k12"/><use href="#c" x="764.1" y="343.6" class="k5"/><use href="#c" x="721.1" y="313.1" class="k12"/><use href="#c" x="777.9" y="360.1" class="k5"/><use href="#c" x="737.8" y="347.8" class="k3"/><use href="#c" x="758.1" y="353.0" class="k11"/><use href="#c" x="700.2" y="294.8" class="k4"/><use href="#c" x="664.8" y="344.7" class="k8"/><use href="#c" x="598.3" y="374.1" class="k9"/><use href="#c" x="804.9" y="275.3" class="k2"/><use href="#c" x="664.9" y="383.8" class="k12"/><use href="#c" x="762.0" y="313.4" class="k4"/><use href="#c" x="694.6" y="354.6" class="k10"/><use href="#c" x="742.7" y="396.0" class="k12"/><use href="#c" x="796.4" y="369.7" class="k6"/><use href="#c" x="773.6" y="303.3" class="k10"/><use href="#c" x="684.2" y="400.5" class="k8"/><use href="#c" x="669.8" y="340.4" class="k12"/><use href="#c" x="753.9" y="361.4" class="k7"/><use href="#c" x="712.7" y="309.5" class="k1"/><use href="#c" x="757.0" y="335.7" class="k5"/><use href="#c" x="775.5" y="254.5" class="k6"/><use href="#c" x="698.5" y="347.1" class="k1"/><use href="#c" x="664.8" y="346.2" class="k5"/><use href="#c" x="727.5" y="307.0" class="k2"/><use href="#c" x="668.9" y="323.7" class="k7"/><use href="#c" x="805.9" y="342.4" class="k11"/><use href="#c" x="738.0" y="306.4" class="k6"/><use href="#c" x="724.3" y="333.4" class="k1"/><use href="#c" x="676.7" y="314.9" class="k7"/><use href="#c" x="712.4" y="320.0" class="k4"/><use href="#c" x="687.4" y="349.0" class="k4"/><use href="#c" x="673.2" y="307.9" class="k2"/><use href="#c" x="744.7" y="308.4" class="k6"/><use href="#c" x="737.8" y="385.2" class="k6"/><use href="#c" x="663.2" y="392.9" class="k11"/><use href="#c" x="742.6" y="347.5" class="k5"/><use href="#c" x="642.3" y="366.0" class="k11"/><use href="#c" x="600.5" y="368.3" class="k2"/><use href="#c" x="629.6" y="334.0" class="k8"/><use href="#c" x="660.8" y="397.1" class="k4"/><use href="#c" x="727.7" y="319.0" class="k10"/><use href="#c" x="600.6" y="378.1" class="k12"/><use href="#c" x="782.3" y="281.5" class="k6"/><use href="#c" x="640.8" y="345.5" class="k11"/><use href="#c" x="786.5" y="384.3" class="k7"/><use href="#c" x="645.7" y="384.0" class="k2"/><use href="#c" x="770.2" y="384.6" class="k12"/><use href="#c" x="701.9" y="359.3" class="k11"/><use href="#c" x="722.0" y="378.7" class="k6"/><use href="#c" x="786.1" y="313.7" class="k11"/><use href="#c" x="653.4" y="395.9" class="k4"/><use href="#c" x="811.2" y="306.8" class="k5"/><use href="#c" x="675.7" y="346.9" class="k6"/><use href="#c" x="612.0" y="348.6" class="k5"/><use href="#c" x="712.9" y="283.5" class="k5"/><use href="#c" x="813.9" y="306.0" class="k6"/><use href="#c" x="783.5" y="347.9" class="k5"/><use href="#c" x="781.7" y="268.7" class="k6"/><use href="#c" x="618.8" y="388.2" class="k8"/><use href="#c" x="712.7" y="355.3" class="k6"/><use href="#c" x="723.0" y="300.7" class="k4"/><use href="#c" x="778.4" y="337.9" class="k7"/><use href="#c" x="617.1" y="353.2" class="k11"/><use href="#c" x="757.6" y="298.5" class="k10"/><use href="#c" x="789.9" y="349.6" class="k2"/><use href="#c" x="721.7" y="402.4" class="k11"/><use href="#c" x="713.0" y="347.1" class="k11"/><use href="#c" x="750.9" y="352.7" class="k4"/><use href="#c" x="734.0" y="312.3" class="k6"/><use href="#c" x="630.1" y="406.2" class="k1"/><use href="#c" x="708.2" y="293.3" class="k5"/><use href="#c" x="805.0" y="321.9" class="k11"/><use href="#c" x="677.7" y="342.2" class="k7"/><use href="#c" x="659.8" y="387.8" class="k2"/><use href="#c" x="716.2" y="266.5" class="k8"/><use href="#c" x="780.9" y="318.5" class="k1"/><use href="#c" x="747.2" y="351.3" class="k11"/><use href="#c" x="728.3" y="349.3" class="k8"/><use href="#c" x="720.6" y="378.8" class="k6"/><use href="#c" x="684.8" y="352.8" class="k8"/><use href="#c" x="711.7" y="396.1" class="k12"/><use href="#c" x="762.8" y="358.2" class="k6"/><use href="#c" x="790.2" y="365.9" class="k5"/><use href="#c" x="696.9" y="350.9" class="k1"/><use href="#c" x="758.1" y="268.1" class="k4"/><use href="#c" x="632.8" y="336.3" class="k4"/><use href="#c" x="746.2" y="369.9" class="k8"/><use href="#c" x="709.9" y="361.5" class="k1"/><use href="#c" x="621.3" y="381.7" class="k11"/><use href="#c" x="724.3" y="375.8" class="k10"/><use href="#c" x="757.7" y="322.2" class="k1"/><use href="#c" x="602.9" y="378.0" class="k10"/><use href="#c" x="673.2" y="380.3" class="k5"/><use href="#c" x="738.1" y="287.5" class="k10"/><use href="#c" x="725.1" y="325.7" class="k3"/><use href="#c" x="808.1" y="311.0" class="k5"/><use href="#c" x="747.8" y="281.8" class="k7"/><use href="#c" x="740.4" y="362.3" class="k2"/><use href="#c" x="733.8" y="367.2" class="k8"/><use href="#c" x="692.3" y="295.4" class="k12"/><use href="#c" x="749.7" y="371.7" class="k10"/><use href="#c" x="685.3" y="295.6" class="k4"/><use href="#c" x="664.7" y="374.6" class="k3"/><use href="#c" x="753.3" y="345.9" class="k3"/><use href="#c" x="775.3" y="383.6" class="k12"/><use href="#c" x="666.2" y="327.0" class="k11"/><use href="#c" x="674.0" y="387.8" class="k5"/><use href="#c" x="685.6" y="332.9" class="k1"/><use href="#c" x="726.1" y="381.4" class="k9"/><use href="#c" x="739.4" y="307.8" class="k10"/><use href="#c" x="737.7" y="298.3" class="k12"/><use href="#c" x="718.8" y="365.0" class="k1"/><use href="#c" x="754.0" y="254.0" class="k5"/><use href="#c" x="705.0" y="276.1" class="k10"/><use href="#c" x="624.5" y="354.0" class="k7"/><use href="#c" x="779.7" y="310.4" class="k1"/><use href="#c" x="713.8" y="380.6" class="k7"/><use href="#c" x="781.2" y="259.8" class="k12"/><use href="#c" x="782.1" y="272.1" class="k9"/><use href="#c" x="751.5" y="382.0" class="k12"/><use href="#c" x="667.9" y="399.7" class="k4"/><use href="#c" x="733.6" y="273.6" class="k4"/><use href="#c" x="611.1" y="405.3" class="k9"/><use href="#c" x="615.1" y="399.9" class="k5"/><use href="#c" x="626.4" y="335.7" class="k9"/><use href="#c" x="632.6" y="352.5" class="k11"/><use href="#c" x="727.2" y="336.3" class="k10"/><use href="#c" x="671.8" y="336.2" class="k5"/><use href="#c" x="679.2" y="373.6" class="k11"/><use href="#c" x="792.5" y="339.8" class="k1"/><use href="#c" x="810.7" y="292.1" class="k2"/><use href="#c" x="624.6" y="375.1" class="k4"/><use href="#c" x="794.7" y="375.5" class="k5"/><use href="#c" x="785.9" y="250.5" class="k6"/><use href="#c" x="755.8" y="323.3" class="k2"/><use href="#c" x="740.6" y="321.8" class="k5"/><use href="#c" x="646.9" y="371.9" class="k2"/><use href="#c" x="700.6" y="383.5" class="k5"/><use href="#c" x="744.9" y="290.5" class="k6"/><use href="#c" x="686.3" y="333.1" class="k11"/><use href="#c" x="736.1" y="333.2" class="k4"/><use href="#c" x="740.4" y="245.8" class="k12"/><use href="#c" x="739.5" y="269.8" class="k5"/><use href="#c" x="605.6" y="358.8" class="k5"/><use href="#c" x="636.6" y="373.8" class="k10"/><use href="#c" x="750.3" y="300.8" class="k2"/><use href="#c" x="629.5" y="346.1" class="k6"/><use href="#c" x="799.3" y="378.3" class="k2"/><use href="#c" x="730.4" y="364.4" class="k10"/><use href="#c" x="701.6" y="395.2" class="k10"/><use href="#c" x="765.7" y="389.9" class="k11"/><use href="#c" x="761.5" y="280.1" class="k9"/><use href="#c" x="768.4" y="278.5" class="k1"/><use href="#c" x="749.3" y="304.2" class="k1"/><use href="#c" x="676.8" y="339.5" class="k11"/><use href="#c" x="680.9" y="385.8" class="k5"/><use href="#c" x="668.9" y="324.6" class="k2"/><use href="#c" x="688.8" y="355.0" class="k5"/><use href="#c" x="770.5" y="373.9" class="k12"/><use href="#c" x="742.7" y="333.1" class="k6"/><use href="#c" x="807.0" y="275.9" class="k1"/><use href="#c" x="733.1" y="356.5" class="k2"/><use href="#c" x="637.6" y="395.6" class="k7"/><use href="#c" x="753.9" y="300.7" class="k5"/><use href="#c" x="666.6" y="350.6" class="k3"/><use href="#c" x="698.4" y="345.9" class="k8"/><use href="#c" x="768.8" y="249.7" class="k11"/><use href="#c" x="790.4" y="360.3" class="k8"/><use href="#c" x="734.3" y="323.2" class="k12"/><use href="#c" x="606.9" y="386.7" class="k4"/><use href="#c" x="751.2" y="267.3" class="k1"/><use href="#c" x="735.8" y="342.5" class="k1"/><use href="#c" x="803.6" y="353.6" class="k11"/><use href="#c" x="657.7" y="344.9" class="k5"/><use href="#c" x="776.3" y="246.0" class="k5"/><use href="#c" x="753.7" y="389.5" class="k10"/><use href="#c" x="755.1" y="271.1" class="k6"/><use href="#c" x="798.6" y="277.9" class="k6"/><use href="#c" x="774.8" y="286.2" class="k4"/><use href="#c" x="736.0" y="343.6" class="k5"/><use href="#c" x="766.2" y="264.4" class="k1"/><use href="#c" x="756.7" y="272.2" class="k10"/><use href="#c" x="753.4" y="316.2" class="k2"/><use href="#c" x="807.0" y="289.0" class="k7"/><use href="#c" x="679.8" y="347.5" class="k10"/><use href="#c" x="764.1" y="368.1" class="k6"/><use href="#c" x="623.4" y="399.6" class="k12"/><use href="#c" x="708.3" y="305.0" class="k8"/><use href="#c" x="730.3" y="390.3" class="k4"/><use href="#c" x="735.7" y="259.9" class="k12"/><use href="#c" x="685.7" y="312.5" class="k10"/><use href="#c" x="720.2" y="279.7" class="k4"/><use href="#c" x="775.6" y="288.5" class="k9"/><use href="#c" x="673.9" y="351.5" class="k10"/><use href="#c" x="754.8" y="280.0" class="k4"/><use href="#c" x="728.8" y="331.7" class="k10"/><use href="#c" x="805.7" y="324.8" class="k5"/><use href="#c" x="757.7" y="287.4" class="k2"/><use href="#c" x="746.0" y="273.6" class="k11"/><use href="#c" x="697.7" y="372.1" class="k4"/><use href="#c" x="637.4" y="406.4" class="k10"/><use href="#c" x="692.9" y="393.4" class="k5"/><use href="#c" x="696.3" y="315.6" class="k1"/><use href="#c" x="696.2" y="304.7" class="k5"/><use href="#c" x="794.4" y="315.7" class="k5"/><use href="#c" x="710.1" y="329.5" class="k2"/><use href="#c" x="791.0" y="286.0" class="k8"/><use href="#c" x="794.8" y="376.7" class="k10"/><use href="#c" x="608.7" y="378.1" class="k6"/><use href="#c" x="601.9" y="376.3" class="k10"/><use href="#c" x="786.3" y="342.0" class="k10"/><use href="#c" x="792.0" y="320.8" class="k1"/><use href="#c" x="733.4" y="281.3" class="k9"/><use href="#c" x="634.6" y="379.0" class="k3"/><use href="#c" x="661.3" y="331.6" class="k11"/><use href="#c" x="700.1" y="286.5" class="k9"/><use href="#c" x="693.0" y="368.2" class="k1"/><use href="#c" x="765.5" y="239.8" class="k12"/><use href="#c" x="784.6" y="288.7" class="k2"/><use href="#c" x="774.6" y="351.9" class="k3"/><use href="#c" x="638.0" y="338.4" class="k6"/><use href="#c" x="671.2" y="373.0" class="k10"/><use href="#c" x="614.2" y="360.4" class="k7"/><use href="#c" x="612.7" y="368.2" class="k2"/><use href="#c" x="638.4" y="373.2" class="k1"/><use href="#c" x="658.3" y="366.0" class="k8"/><use href="#c" x="786.2" y="296.0" class="k6"/><use href="#c" x="785.8" y="306.0" class="k4"/><use href="#c" x="753.3" y="260.8" class="k5"/><use href="#c" x="629.7" y="397.1" class="k5"/><use href="#c" x="797.1" y="344.4" class="k7"/><use href="#c" x="794.1" y="260.9" class="k12"/><use href="#s" x="824.4" y="246.8" class="k1"/><use href="#s" x="792.5" y="250.6" class="k2"/><use href="#s" x="603.8" y="319.0" class="k6"/><use href="#s" x="617.1" y="330.3" class="k6"/><use href="#s" x="599.7" y="339.5" class="k6"/><use href="#s" x="623.3" y="311.9" class="k8"/><use href="#s" x="598.7" y="349.8" class="k8"/><use href="#s" x="792.5" y="309.5" class="k8"/><use href="#s" x="795.0" y="277.5" class="k9"/><use href="#s" x="839.8" y="382.4" class="k9"/><use href="#s" x="963.4" y="376.0" class="k9"/><use href="#s" x="809.6" y="234.0" class="k10"/><use href="#s" x="866.7" y="272.4" class="k10"/><use href="#s" x="820.6" y="296.7" class="k10"/><use href="#s" x="793.7" y="295.4" class="k11"/><use href="#s" x="804.0" y="345.3" class="k11"/><use href="#s" x="795.8" y="354.2" class="k11"/><use href="#s" x="839.8" y="353.0" class="k11"/><use href="#s" x="895.3" y="363.2" class="k11"/><use href="#s" x="802.7" y="373.4" class="k11"/><use href="#s" x="748.1" y="397.9" class="k12"/><use href="#s" x="802.7" y="196.9" class="k12"/><use href="#s" x="793.7" y="214.8" class="k12"/><use href="#s" x="749.0" y="397.7" class="k12"/><use href="#c" x="590.5" y="380.5" class="k1"/><use href="#c" x="700.0" y="395.8" class="k1"/><use href="#c" x="620.2" y="405.0" class="k1"/><use href="#c" x="722.6" y="251.5" class="k2"/><use href="#c" x="730.7" y="363.1" class="k2"/><use href="#c" x="757.4" y="367.2" class="k2"/><use href="#c" x="676.5" y="399.9" class="k2"/><use href="#c" x="709.2" y="398.9" class="k2"/><use href="#c" x="770.7" y="403.0" class="k2"/><use href="#c" x="757.9" y="367.0" class="k2"/><use href="#c" x="796.3" y="387.0" class="k2"/><use href="#c" x="771.5" y="402.3" class="k2"/><use href="#c" x="653.6" y="279.1" class="k3"/><use href="#c" x="661.1" y="312.9" class="k3"/><use href="#c" x="663.2" y="393.8" class="k3"/><use href="#c" x="669.7" y="282.2" class="k4"/><use href="#c" x="651.9" y="313.9" class="k4"/><use href="#c" x="639.6" y="326.2" class="k4"/><use href="#c" x="608.9" y="353.8" class="k4"/><use href="#c" x="595.6" y="366.1" class="k4"/><use href="#c" x="691.8" y="378.4" class="k4"/><use href="#c" x="602.8" y="375.3" class="k4"/><use href="#c" x="710.3" y="386.6" class="k4"/><use href="#c" x="617.1" y="395.8" class="k4"/><use href="#c" x="679.6" y="395.8" class="k4"/><use href="#c" x="691.8" y="275.4" class="k5"/><use href="#c" x="707.2" y="247.4" class="k5"/><use href="#c" x="714.4" y="258.7" class="k5"/><use href="#c" x="631.5" y="317.0" class="k5"/><use href="#c" x="645.8" y="326.2" class="k5"/><use href="#c" x="630.4" y="338.5" class="k5"/><use href="#c" x="615.1" y="349.8" class="k5"/><use href="#c" x="667.3" y="362.0" class="k5"/><use href="#c" x="596.7" y="387.6" class="k5"/><use href="#c" x="614.1" y="385.6" class="k5"/><use href="#c" x="626.3" y="391.7" class="k5"/><use href="#c" x="644.8" y="389.7" class="k5"/><use href="#c" x="600.8" y="396.8" class="k5"/><use href="#c" x="742.6" y="384.9" class="k5"/><use href="#c" x="662.6" y="245.4" class="k6"/><use href="#c" x="663.2" y="251.5" class="k6"/><use href="#c" x="684.3" y="258.7" class="k6"/><use href="#c" x="740.0" y="375.3" class="k6"/><use href="#c" x="771.7" y="374.3" class="k6"/><use href="#c" x="675.5" y="381.5" class="k6"/><use href="#c" x="742.6" y="374.7" class="k6"/><use href="#c" x="772.0" y="374.7" class="k6"/><use href="#c" x="722.6" y="237.2" class="k7"/><use href="#c" x="658.1" y="324.2" class="k7"/><use href="#c" x="650.9" y="334.4" class="k7"/><use href="#c" x="762.5" y="385.6" class="k7"/><use href="#c" x="773.8" y="185.4" class="k7"/><use href="#c" x="864.1" y="227.6" class="k7"/><use href="#c" x="830.8" y="294.9" class="k7"/><use href="#c" x="816.8" y="310.2" class="k7"/><use href="#c" x="801.4" y="318.4" class="k7"/><use href="#c" x="763.0" y="384.9" class="k7"/><use href="#c" x="672.4" y="268.9" class="k8"/><use href="#c" x="712.3" y="240.2" class="k8"/><use href="#c" x="731.8" y="256.6" class="k8"/><use href="#c" x="742.0" y="237.2" class="k8"/><use href="#c" x="737.9" y="270.9" class="k8"/><use href="#c" x="756.3" y="267.9" class="k8"/><use href="#c" x="679.6" y="304.7" class="k8"/><use href="#c" x="818.0" y="179.0" class="k8"/><use href="#c" x="743.8" y="236.5" class="k8"/><use href="#c" x="809.6" y="326.6" class="k8"/><use href="#c" x="752.2" y="241.3" class="k9"/><use href="#c" x="785.0" y="267.9" class="k9"/><use href="#c" x="720.5" y="354.9" class="k9"/><use href="#c" x="679.6" y="370.2" class="k9"/><use href="#c" x="721.5" y="388.6" class="k9"/><use href="#c" x="750.2" y="242.9" class="k9"/><use href="#c" x="786.6" y="268.5" class="k9"/><use href="#c" x="863.6" y="363.2" class="k9"/><use href="#c" x="837.2" y="374.7" class="k9"/><use href="#c" x="766.6" y="264.8" class="k10"/><use href="#c" x="748.1" y="300.6" class="k10"/><use href="#c" x="754.3" y="303.7" class="k10"/><use href="#c" x="772.7" y="303.7" class="k10"/><use href="#c" x="770.7" y="315.0" class="k10"/><use href="#c" x="719.5" y="320.1" class="k10"/><use href="#c" x="717.4" y="328.3" class="k10"/><use href="#c" x="731.8" y="328.3" class="k10"/><use href="#c" x="701.1" y="334.4" class="k10"/><use href="#c" x="709.2" y="336.4" class="k10"/><use href="#c" x="689.8" y="340.5" class="k10"/><use href="#c" x="697.0" y="344.6" class="k10"/><use href="#c" x="704.1" y="345.7" class="k10"/><use href="#c" x="729.7" y="342.6" class="k10"/><use href="#c" x="744.0" y="343.6" class="k10"/><use href="#c" x="690.8" y="363.1" class="k10"/><use href="#c" x="712.3" y="364.1" class="k10"/><use href="#c" x="723.6" y="373.3" class="k10"/><use href="#c" x="770.7" y="391.7" class="k10"/><use href="#c" x="649.9" y="403.0" class="k10"/><use href="#c" x="766.9" y="264.7" class="k10"/><use href="#c" x="754.1" y="303.1" class="k10"/><use href="#c" x="770.7" y="313.3" class="k10"/><use href="#c" x="833.4" y="313.3" class="k10"/><use href="#c" x="742.6" y="341.4" class="k10"/><use href="#c" x="853.9" y="337.6" class="k10"/><use href="#c" x="828.3" y="358.1" class="k10"/><use href="#c" x="770.7" y="392.6" class="k10"/><use href="#c" x="765.5" y="272.0" class="k11"/><use href="#c" x="743.0" y="282.2" class="k11"/><use href="#c" x="759.4" y="288.3" class="k11"/><use href="#c" x="777.8" y="291.4" class="k11"/><use href="#c" x="729.7" y="297.6" class="k11"/><use href="#c" x="734.8" y="307.8" class="k11"/><use href="#c" x="756.3" y="311.9" class="k11"/><use href="#c" x="778.8" y="310.9" class="k11"/><use href="#c" x="715.4" y="307.8" class="k11"/><use href="#c" x="744.0" y="313.9" class="k11"/><use href="#c" x="746.1" y="332.4" class="k11"/><use href="#c" x="781.9" y="326.2" class="k11"/><use href="#c" x="770.7" y="336.4" class="k11"/><use href="#c" x="764.5" y="343.6" class="k11"/><use href="#c" x="746.1" y="352.8" class="k11"/><use href="#c" x="626.3" y="361.0" class="k11"/><use href="#c" x="662.2" y="377.4" class="k11"/><use href="#c" x="755.4" y="225.0" class="k11"/><use href="#c" x="799.4" y="231.4" class="k11"/><use href="#c" x="827.0" y="260.8" class="k11"/><use href="#c" x="766.4" y="271.1" class="k11"/><use href="#c" x="743.8" y="282.6" class="k11"/><use href="#c" x="759.2" y="289.0" class="k11"/><use href="#c" x="778.4" y="292.8" class="k11"/><use href="#c" x="757.9" y="312.0" class="k11"/><use href="#c" x="779.7" y="310.7" class="k11"/><use href="#c" x="782.2" y="326.1" class="k11"/><use href="#c" x="746.4" y="332.5" class="k11"/><use href="#c" x="775.8" y="336.3" class="k11"/><use href="#c" x="765.6" y="344.0" class="k11"/><use href="#c" x="747.2" y="353.0" class="k11"/><use href="#c" x="758.4" y="233.1" class="k12"/><use href="#c" x="773.7" y="231.0" class="k12"/><use href="#c" x="726.6" y="264.8" class="k12"/><use href="#c" x="746.1" y="263.8" class="k12"/><use href="#c" x="759.4" y="249.4" class="k12"/><use href="#c" x="781.9" y="251.5" class="k12"/><use href="#c" x="709.2" y="282.2" class="k12"/><use href="#c" x="727.7" y="285.3" class="k12"/><use href="#c" x="691.8" y="309.8" class="k12"/><use href="#c" x="703.1" y="305.7" class="k12"/><use href="#c" x="703.1" y="318.0" class="k12"/><use href="#c" x="686.7" y="325.2" class="k12"/><use href="#c" x="778.8" y="343.6" class="k12"/><use href="#c" x="669.3" y="330.3" class="k12"/><use href="#c" x="658.1" y="347.7" class="k12"/><use href="#c" x="673.4" y="346.7" class="k12"/><use href="#c" x="623.3" y="348.7" class="k12"/><use href="#c" x="778.8" y="366.1" class="k12"/><use href="#c" x="632.5" y="368.2" class="k12"/><use href="#c" x="642.7" y="373.3" class="k12"/><use href="#c" x="787.0" y="379.4" class="k12"/><use href="#c" x="772.8" y="217.3" class="k12"/><use href="#c" x="774.0" y="227.6" class="k12"/><use href="#c" x="757.9" y="230.1" class="k12"/><use href="#c" x="821.9" y="262.1" class="k12"/><use href="#c" x="760.5" y="249.3" class="k12"/><use href="#c" x="782.2" y="251.4" class="k12"/><use href="#c" x="745.6" y="263.4" class="k12"/><use href="#c" x="844.9" y="287.2" class="k12"/><use href="#c" x="841.1" y="292.8" class="k12"/><use href="#c" x="793.7" y="337.6" class="k12"/><use href="#c" x="778.4" y="344.0" class="k12"/><use href="#c" x="778.4" y="365.8" class="k12"/><use href="#c" x="789.9" y="379.8" class="k12"/><use href="#c" x="811.6" y="382.4" class="k12"/></g>
<g clip-path="url(#cpb)"><line x1="587.30" y1="410.30" x2="964.11" y2="20.04" stroke="#000" stroke-width="2.6"/></g>
<rect x="568.3" y="2.3" width="414.10" height="428.00" fill="none" stroke="#000" stroke-width="1.3"/>
<line x1="587.30" y1="430.3" x2="587.30" y2="436.7" stroke="#000" stroke-width="1.5"/>
<text class="t" x="587.30" y="463.9" text-anchor="middle">0.0</text>
<line x1="696.60" y1="430.3" x2="696.60" y2="436.7" stroke="#000" stroke-width="1.5"/>
<text class="t" x="696.60" y="463.9" text-anchor="middle">0.2</text>
<line x1="805.90" y1="430.3" x2="805.90" y2="436.7" stroke="#000" stroke-width="1.5"/>
<text class="t" x="805.90" y="463.9" text-anchor="middle">0.4</text>
<line x1="915.20" y1="430.3" x2="915.20" y2="436.7" stroke="#000" stroke-width="1.5"/>
<text class="t" x="915.20" y="463.9" text-anchor="middle">0.6</text>
<line x1="561.9" y1="410.30" x2="568.3" y2="410.30" stroke="#000" stroke-width="1.5"/>
<text class="t" x="556.10" y="421.40" text-anchor="end">0.0</text>
<line x1="561.9" y1="297.10" x2="568.3" y2="297.10" stroke="#000" stroke-width="1.5"/>
<text class="t" x="556.10" y="308.20" text-anchor="end">0.2</text>
<line x1="561.9" y1="183.90" x2="568.3" y2="183.90" stroke="#000" stroke-width="1.5"/>
<text class="t" x="556.10" y="195.00" text-anchor="end">0.4</text>
<line x1="561.9" y1="70.70" x2="568.3" y2="70.70" stroke="#000" stroke-width="1.5"/>
<text class="t" x="556.10" y="81.80" text-anchor="end">0.6</text>
<rect x="576.70" y="11.10" width="288.65" height="43.5" fill="#fff" stroke="#000" stroke-width="1.5"/>
<text class="b" x="585.00" y="41.30" xml:space="preserve" style="white-space:pre">(b)  S [psu] [2-60)m</text>
<g clip-path="url(#cpc)" class="sc"><use href="#s" x="1068.0" y="388.6" class="k12"/><use href="#s" x="1209.7" y="332.3" class="k12"/><use href="#s" x="1160.8" y="378.9" class="k10"/><use href="#s" x="1098.8" y="401.6" class="k1"/><use href="#s" x="1071.0" y="391.1" class="k6"/><use href="#s" x="1230.8" y="261.1" class="k2"/><use href="#s" x="1189.0" y="361.9" class="k1"/><use href="#s" x="1152.4" y="302.2" class="k10"/><use href="#s" x="1221.9" y="328.0" class="k9"/><use href="#s" x="1192.6" y="370.8" class="k11"/><use href="#s" x="1091.8" y="399.0" class="k12"/><use href="#s" x="1217.2" y="303.7" class="k2"/><use href="#s" x="1080.6" y="358.9" class="k12"/><use href="#s" x="1209.3" y="360.1" class="k9"/><use href="#s" x="1142.1" y="384.6" class="k8"/><use href="#s" x="1193.1" y="304.3" class="k8"/><use href="#s" x="1071.6" y="399.2" class="k12"/><use href="#s" x="1124.9" y="326.2" class="k1"/><use href="#s" x="1217.9" y="351.5" class="k12"/><use href="#s" x="1222.5" y="340.2" class="k12"/><use href="#s" x="1093.0" y="362.4" class="k10"/><use href="#s" x="1220.9" y="265.6" class="k10"/><use href="#s" x="1209.4" y="312.6" class="k10"/><use href="#s" x="1187.1" y="303.5" class="k5"/><use href="#s" x="1206.6" y="376.0" class="k12"/><use href="#s" x="1081.5" y="363.7" class="k5"/><use href="#s" x="1077.9" y="404.5" class="k3"/><use href="#s" x="1083.2" y="410.3" class="k5"/><use href="#s" x="1208.4" y="364.6" class="k10"/><use href="#s" x="1180.5" y="378.0" class="k8"/><use href="#s" x="1183.6" y="316.6" class="k12"/><use href="#s" x="1202.5" y="285.9" class="k8"/><use href="#s" x="1191.2" y="309.3" class="k12"/><use href="#s" x="1111.4" y="409.9" class="k12"/><use href="#s" x="1109.6" y="410.3" class="k9"/><use href="#s" x="1148.5" y="348.3" class="k12"/><use href="#s" x="1216.1" y="312.8" class="k10"/><use href="#s" x="1206.8" y="352.4" class="k12"/><use href="#s" x="1075.9" y="371.4" class="k11"/><use href="#s" x="1224.8" y="346.8" class="k2"/><use href="#s" x="1152.0" y="355.4" class="k7"/><use href="#s" x="1071.9" y="389.4" class="k1"/><use href="#s" x="1112.8" y="356.0" class="k3"/><use href="#s" x="1112.8" y="402.7" class="k12"/><use href="#s" x="1132.9" y="404.4" class="k5"/><use href="#s" x="1198.3" y="318.8" class="k5"/><use href="#s" x="1194.6" y="345.8" class="k3"/><use href="#s" x="1067.3" y="410.3" class="k12"/><use href="#s" x="1175.8" y="383.4" class="k12"/><use href="#s" x="1191.0" y="288.8" class="k4"/><use href="#s" x="1068.8" y="380.6" class="k12"/><use href="#s" x="1148.9" y="337.0" class="k8"/><use href="#s" x="1092.5" y="410.3" class="k12"/><use href="#s" x="1074.9" y="403.3" class="k9"/><use href="#s" x="1093.3" y="408.8" class="k5"/><use href="#s" x="1067.3" y="409.3" class="k9"/><use href="#s" x="1135.3" y="358.0" class="k8"/><use href="#s" x="1122.3" y="371.1" class="k2"/><use href="#s" x="1093.7" y="410.3" class="k9"/><use href="#s" x="1218.4" y="331.1" class="k2"/><use href="#s" x="1096.1" y="373.4" class="k2"/><use href="#s" x="1067.3" y="410.3" class="k1"/><use href="#s" x="1254.4" y="275.1" class="k2"/><use href="#s" x="1136.7" y="362.4" class="k8"/><use href="#s" x="1075.4" y="395.7" class="k12"/><use href="#s" x="1164.9" y="340.2" class="k5"/><use href="#s" x="1108.0" y="379.9" class="k11"/><use href="#s" x="1213.9" y="282.4" class="k7"/><use href="#s" x="1108.2" y="410.3" class="k3"/><use href="#s" x="1192.7" y="353.2" class="k1"/><use href="#s" x="1120.2" y="410.3" class="k1"/><use href="#s" x="1137.5" y="342.9" class="k11"/><use href="#s" x="1153.1" y="370.6" class="k10"/><use href="#s" x="1075.5" y="390.0" class="k6"/><use href="#s" x="1173.1" y="349.9" class="k9"/><use href="#s" x="1176.0" y="326.0" class="k10"/><use href="#s" x="1229.9" y="297.9" class="k6"/><use href="#s" x="1195.0" y="338.2" class="k10"/><use href="#s" x="1179.6" y="366.9" class="k12"/><use href="#s" x="1110.1" y="409.0" class="k12"/><use href="#s" x="1184.9" y="292.6" class="k3"/><use href="#s" x="1145.5" y="361.2" class="k2"/><use href="#s" x="1197.7" y="378.1" class="k12"/><use href="#c" x="1214.1" y="258.7" class="k3"/><use href="#c" x="1177.8" y="323.8" class="k10"/><use href="#c" x="1149.3" y="384.4" class="k5"/><use href="#c" x="1176.5" y="305.6" class="k2"/><use href="#c" x="1087.6" y="377.7" class="k11"/><use href="#c" x="1209.3" y="343.8" class="k2"/><use href="#c" x="1208.7" y="314.6" class="k6"/><use href="#c" x="1102.4" y="355.0" class="k12"/><use href="#c" x="1153.1" y="363.2" class="k2"/><use href="#c" x="1256.9" y="268.8" class="k3"/><use href="#c" x="1143.7" y="364.4" class="k10"/><use href="#c" x="1137.6" y="345.0" class="k3"/><use href="#c" x="1074.1" y="397.0" class="k6"/><use href="#c" x="1173.3" y="384.7" class="k11"/><use href="#c" x="1187.3" y="360.7" class="k11"/><use href="#c" x="1190.8" y="313.1" class="k7"/><use href="#c" x="1121.7" y="391.6" class="k11"/><use href="#c" x="1186.7" y="338.4" class="k12"/><use href="#c" x="1142.6" y="373.4" class="k6"/><use href="#c" x="1127.1" y="318.2" class="k10"/><use href="#c" x="1090.8" y="368.0" class="k10"/><use href="#c" x="1210.3" y="334.6" class="k11"/><use href="#c" x="1212.5" y="327.7" class="k1"/><use href="#c" x="1102.2" y="378.7" class="k10"/><use href="#c" x="1133.1" y="366.1" class="k11"/><use href="#c" x="1221.9" y="278.1" class="k9"/><use href="#c" x="1199.6" y="264.2" class="k1"/><use href="#c" x="1198.7" y="376.1" class="k8"/><use href="#c" x="1245.5" y="256.8" class="k10"/><use href="#c" x="1252.0" y="259.5" class="k11"/><use href="#c" x="1104.0" y="332.2" class="k2"/><use href="#c" x="1208.6" y="269.6" class="k10"/><use href="#c" x="1118.1" y="367.0" class="k12"/><use href="#c" x="1152.1" y="340.4" class="k2"/><use href="#c" x="1189.7" y="330.9" class="k5"/><use href="#c" x="1256.9" y="283.4" class="k10"/><use href="#c" x="1218.1" y="365.0" class="k4"/><use href="#c" x="1081.4" y="380.5" class="k9"/><use href="#c" x="1238.3" y="325.6" class="k11"/><use href="#c" x="1182.1" y="282.5" class="k8"/><use href="#c" x="1234.2" y="286.1" class="k10"/><use href="#c" x="1247.1" y="322.3" class="k11"/><use href="#c" x="1209.4" y="286.8" class="k12"/><use href="#c" x="1136.1" y="359.8" class="k12"/><use href="#c" x="1221.1" y="350.1" class="k10"/><use href="#c" x="1130.3" y="312.1" class="k8"/><use href="#c" x="1215.8" y="339.9" class="k10"/><use href="#c" x="1114.5" y="344.8" class="k7"/><use href="#c" x="1223.3" y="296.0" class="k8"/><use href="#c" x="1091.7" y="339.8" class="k12"/><use href="#c" x="1227.2" y="267.3" class="k10"/><use href="#c" x="1207.8" y="284.1" class="k9"/><use href="#c" x="1135.5" y="344.3" class="k12"/><use href="#c" x="1243.1" y="297.0" class="k11"/><use href="#c" x="1083.8" y="376.2" class="k9"/><use href="#c" x="1076.7" y="385.3" class="k6"/><use href="#c" x="1190.1" y="299.5" class="k11"/><use href="#c" x="1244.8" y="294.1" class="k12"/><use href="#c" x="1225.9" y="289.7" class="k11"/><use href="#c" x="1223.5" y="356.6" class="k11"/><use href="#c" x="1082.8" y="349.4" class="k6"/><use href="#c" x="1170.7" y="367.4" class="k10"/><use href="#c" x="1118.0" y="356.2" class="k9"/><use href="#c" x="1265.0" y="281.4" class="k8"/><use href="#c" x="1179.7" y="352.1" class="k10"/><use href="#c" x="1133.4" y="381.3" class="k12"/><use href="#c" x="1232.7" y="347.9" class="k11"/><use href="#c" x="1084.4" y="378.2" class="k5"/><use href="#c" x="1127.2" y="315.1" class="k10"/><use href="#c" x="1261.0" y="262.5" class="k12"/><use href="#c" x="1149.0" y="338.9" class="k6"/><use href="#c" x="1195.2" y="273.3" class="k3"/><use href="#c" x="1239.4" y="295.4" class="k2"/><use href="#c" x="1239.7" y="318.0" class="k9"/><use href="#c" x="1165.5" y="293.3" class="k2"/><use href="#c" x="1213.2" y="292.4" class="k1"/><use href="#c" x="1185.5" y="314.5" class="k11"/><use href="#c" x="1126.1" y="320.9" class="k7"/><use href="#c" x="1097.5" y="401.0" class="k12"/><use href="#c" x="1238.5" y="337.5" class="k12"/><use href="#c" x="1236.2" y="329.6" class="k8"/><use href="#c" x="1076.4" y="396.7" class="k10"/><use href="#c" x="1178.5" y="287.0" class="k12"/><use href="#c" x="1154.6" y="345.6" class="k10"/><use href="#c" x="1089.4" y="394.9" class="k12"/><use href="#c" x="1203.3" y="270.1" class="k9"/><use href="#c" x="1181.2" y="389.2" class="k9"/><use href="#c" x="1139.3" y="314.1" class="k11"/><use href="#c" x="1183.7" y="360.6" class="k4"/><use href="#c" x="1135.3" y="363.5" class="k7"/><use href="#c" x="1088.6" y="356.8" class="k10"/><use href="#c" x="1201.0" y="292.5" class="k10"/><use href="#c" x="1194.5" y="349.6" class="k1"/><use href="#c" x="1217.4" y="322.0" class="k10"/><use href="#c" x="1126.7" y="333.5" class="k5"/><use href="#c" x="1080.5" y="351.6" class="k6"/><use href="#c" x="1222.7" y="266.4" class="k6"/><use href="#c" x="1149.2" y="392.0" class="k1"/><use href="#c" x="1199.8" y="306.5" class="k11"/><use href="#c" x="1226.2" y="304.0" class="k10"/><use href="#c" x="1245.2" y="274.3" class="k10"/><use href="#c" x="1070.6" y="393.9" class="k12"/><use href="#c" x="1164.1" y="390.4" class="k1"/><use href="#c" x="1263.6" y="273.1" class="k10"/><use href="#c" x="1093.7" y="371.2" class="k10"/><use href="#c" x="1177.4" y="358.7" class="k2"/><use href="#c" x="1126.3" y="342.0" class="k7"/><use href="#c" x="1237.3" y="297.1" class="k3"/><use href="#c" x="1159.6" y="339.1" class="k10"/><use href="#c" x="1215.1" y="278.0" class="k2"/><use href="#c" x="1219.4" y="304.0" class="k10"/><use href="#c" x="1177.5" y="339.2" class="k12"/><use href="#c" x="1181.9" y="373.1" class="k12"/><use href="#c" x="1166.8" y="341.1" class="k8"/><use href="#c" x="1099.6" y="386.7" class="k1"/><use href="#c" x="1227.9" y="326.9" class="k1"/><use href="#c" x="1136.8" y="376.2" class="k12"/><use href="#c" x="1238.5" y="256.4" class="k10"/><use href="#c" x="1130.4" y="347.8" class="k12"/><use href="#c" x="1116.9" y="398.2" class="k2"/><use href="#c" x="1125.7" y="327.9" class="k7"/><use href="#c" x="1086.3" y="383.4" class="k2"/><use href="#c" x="1188.1" y="304.9" class="k11"/><use href="#c" x="1131.5" y="368.6" class="k11"/><use href="#c" x="1085.0" y="400.7" class="k3"/><use href="#c" x="1240.7" y="282.2" class="k12"/><use href="#c" x="1177.3" y="300.5" class="k1"/><use href="#c" x="1067.3" y="410.3" class="k1"/><use href="#c" x="1231.8" y="313.5" class="k12"/><use href="#c" x="1169.8" y="315.2" class="k2"/><use href="#c" x="1151.4" y="309.7" class="k7"/><use href="#c" x="1249.1" y="289.0" class="k11"/><use href="#c" x="1176.6" y="329.5" class="k5"/><use href="#c" x="1113.4" y="383.0" class="k10"/><use href="#c" x="1102.5" y="400.6" class="k10"/><use href="#c" x="1094.4" y="394.8" class="k3"/><use href="#c" x="1113.2" y="377.0" class="k11"/><use href="#c" x="1254.2" y="301.5" class="k5"/><use href="#c" x="1249.4" y="306.5" class="k7"/><use href="#c" x="1263.6" y="294.2" class="k12"/><use href="#c" x="1130.5" y="325.9" class="k12"/><use href="#c" x="1067.3" y="410.3" class="k5"/><use href="#c" x="1146.8" y="324.8" class="k10"/><use href="#c" x="1208.0" y="301.2" class="k12"/><use href="#c" x="1189.9" y="281.1" class="k1"/><use href="#c" x="1161.2" y="366.5" class="k7"/><use href="#c" x="1132.6" y="311.2" class="k12"/><use href="#c" x="1198.7" y="283.8" class="k1"/><use href="#c" x="1144.0" y="343.2" class="k7"/><use href="#c" x="1193.3" y="278.0" class="k5"/><use href="#c" x="1166.5" y="304.6" class="k2"/><use href="#c" x="1199.9" y="357.5" class="k12"/><use href="#c" x="1109.8" y="391.5" class="k5"/><use href="#c" x="1133.1" y="374.3" class="k1"/><use href="#c" x="1103.2" y="405.7" class="k1"/><use href="#c" x="1173.6" y="366.7" class="k8"/><use href="#c" x="1234.4" y="340.3" class="k10"/><use href="#c" x="1137.7" y="331.8" class="k3"/><use href="#c" x="1132.9" y="313.3" class="k10"/><use href="#c" x="1236.8" y="274.3" class="k7"/><use href="#c" x="1178.1" y="378.3" class="k10"/><use href="#c" x="1143.4" y="396.7" class="k10"/><use href="#c" x="1138.2" y="316.1" class="k10"/><use href="#c" x="1092.9" y="377.5" class="k11"/><use href="#c" x="1190.9" y="319.0" class="k12"/><use href="#c" x="1191.3" y="383.2" class="k12"/><use href="#c" x="1248.0" y="268.2" class="k7"/><use href="#c" x="1121.3" y="337.2" class="k12"/><use href="#c" x="1164.0" y="327.7" class="k2"/><use href="#c" x="1253.7" y="312.5" class="k5"/><use href="#c" x="1100.8" y="364.0" class="k12"/><use href="#c" x="1131.1" y="322.8" class="k12"/><use href="#c" x="1114.6" y="330.3" class="k11"/><use href="#c" x="1144.4" y="360.1" class="k10"/><use href="#c" x="1129.0" y="353.8" class="k11"/><use href="#c" x="1229.9" y="354.2" class="k11"/><use href="#c" x="1109.3" y="325.7" class="k10"/><use href="#c" x="1078.9" y="361.0" class="k10"/><use href="#c" x="1178.5" y="316.3" class="k12"/><use href="#c" x="1115.9" y="337.4" class="k11"/><use href="#c" x="1136.2" y="332.3" class="k1"/><use href="#c" x="1192.8" y="272.0" class="k12"/><use href="#c" x="1179.5" y="345.9" class="k11"/><use href="#c" x="1119.6" y="320.6" class="k10"/><use href="#c" x="1142.6" y="351.3" class="k12"/><use href="#c" x="1113.9" y="366.9" class="k11"/><use href="#c" x="1243.9" y="319.6" class="k12"/><use href="#c" x="1249.8" y="269.5" class="k11"/><use href="#c" x="1190.5" y="312.5" class="k10"/><use href="#c" x="1196.1" y="317.9" class="k7"/><use href="#c" x="1236.3" y="311.6" class="k10"/><use href="#c" x="1110.9" y="373.4" class="k2"/><use href="#c" x="1191.7" y="292.6" class="k5"/><use href="#c" x="1095.9" y="395.3" class="k8"/><use href="#c" x="1172.6" y="303.3" class="k12"/><use href="#c" x="1122.1" y="398.2" class="k5"/><use href="#c" x="1214.4" y="368.7" class="k7"/><use href="#c" x="1088.4" y="360.5" class="k12"/><use href="#c" x="1109.1" y="335.8" class="k11"/><use href="#c" x="1088.4" y="359.1" class="k3"/><use href="#c" x="1137.5" y="369.4" class="k7"/><use href="#c" x="1136.3" y="390.6" class="k12"/><use href="#c" x="1153.2" y="382.4" class="k8"/><use href="#c" x="1223.9" y="294.8" class="k7"/><use href="#c" x="1132.0" y="390.8" class="k7"/><use href="#c" x="1128.8" y="383.5" class="k12"/><use href="#c" x="1128.4" y="313.5" class="k1"/><use href="#c" x="1089.6" y="396.9" class="k1"/><use href="#c" x="1183.4" y="326.4" class="k11"/><use href="#c" x="1179.1" y="375.1" class="k1"/><use href="#c" x="1201.3" y="366.2" class="k10"/><use href="#c" x="1173.1" y="329.3" class="k11"/><use href="#c" x="1222.8" y="260.4" class="k1"/><use href="#c" x="1125.0" y="384.0" class="k1"/><use href="#c" x="1087.9" y="391.3" class="k1"/><use href="#c" x="1237.9" y="303.3" class="k9"/><use href="#c" x="1210.9" y="268.3" class="k11"/><use href="#c" x="1149.6" y="335.9" class="k4"/><use href="#c" x="1253.3" y="290.4" class="k3"/><use href="#c" x="1136.2" y="400.9" class="k7"/><use href="#c" x="1155.6" y="327.2" class="k8"/><use href="#c" x="1205.7" y="333.8" class="k11"/><use href="#c" x="1226.5" y="288.5" class="k10"/><use href="#c" x="1229.7" y="320.5" class="k8"/><use href="#c" x="1205.1" y="328.3" class="k6"/><use href="#c" x="1225.6" y="310.6" class="k1"/><use href="#c" x="1237.4" y="287.9" class="k8"/><use href="#c" x="1214.6" y="376.1" class="k6"/><use href="#c" x="1115.5" y="365.4" class="k11"/><use href="#c" x="1195.3" y="327.1" class="k9"/><use href="#c" x="1099.4" y="343.0" class="k12"/><use href="#c" x="1085.4" y="356.0" class="k12"/><use href="#c" x="1158.8" y="380.6" class="k8"/><use href="#c" x="1204.8" y="313.5" class="k6"/><use href="#c" x="1218.1" y="353.8" class="k3"/><use href="#c" x="1150.0" y="347.0" class="k11"/><use href="#c" x="1093.9" y="352.3" class="k1"/><use href="#c" x="1210.4" y="351.4" class="k1"/><use href="#c" x="1161.2" y="358.0" class="k11"/><use href="#c" x="1210.9" y="329.9" class="k11"/><use href="#c" x="1168.1" y="378.6" class="k6"/><use href="#c" x="1225.0" y="363.8" class="k6"/><use href="#c" x="1221.6" y="271.4" class="k2"/><use href="#c" x="1069.5" y="368.9" class="k8"/><use href="#s" x="1402.0" y="131.2" class="k1"/><use href="#s" x="1389.7" y="165.0" class="k1"/><use href="#s" x="1444.5" y="164.1" class="k1"/><use href="#s" x="1400.7" y="203.5" class="k1"/><use href="#s" x="1394.1" y="129.0" class="k2"/><use href="#s" x="1396.3" y="135.6" class="k2"/><use href="#s" x="1394.1" y="142.2" class="k2"/><use href="#s" x="1391.9" y="148.8" class="k2"/><use href="#s" x="1129.7" y="295.4" class="k3"/><use href="#s" x="1366.9" y="115.0" class="k3"/><use href="#s" x="1384.4" y="120.3" class="k3"/><use href="#s" x="1363.4" y="135.6" class="k3"/><use href="#s" x="1348.1" y="140.0" class="k3"/><use href="#s" x="1324.9" y="158.8" class="k3"/><use href="#s" x="1349.4" y="154.5" class="k4"/><use href="#s" x="1299.9" y="182.5" class="k4"/><use href="#s" x="1112.2" y="305.1" class="k7"/><use href="#s" x="1284.6" y="196.9" class="k7"/><use href="#s" x="1262.7" y="218.8" class="k7"/><use href="#s" x="1242.9" y="236.4" class="k7"/><use href="#s" x="1099.6" y="312.0" class="k8"/><use href="#s" x="1084.0" y="328.5" class="k8"/><use href="#s" x="1125.8" y="266.3" class="k9"/><use href="#s" x="1160.8" y="289.6" class="k9"/><use href="#s" x="1388.8" y="201.3" class="k9"/><use href="#s" x="1434.8" y="242.9" class="k9"/><use href="#s" x="1228.9" y="276.9" class="k10"/><use href="#s" x="1236.7" y="304.2" class="k10"/><use href="#s" x="1273.6" y="304.2" class="k10"/><use href="#s" x="1330.6" y="199.1" class="k10"/><use href="#s" x="1271.4" y="260.5" class="k10"/><use href="#s" x="1272.7" y="304.3" class="k10"/><use href="#s" x="1157.9" y="296.4" class="k11"/><use href="#s" x="1262.0" y="247.8" class="k11"/><use href="#s" x="1252.3" y="282.8" class="k11"/><use href="#s" x="1241.6" y="302.2" class="k11"/><use href="#s" x="1228.9" y="376.1" class="k11"/><use href="#s" x="1262.7" y="247.3" class="k11"/><use href="#s" x="1297.7" y="260.5" class="k11"/><use href="#s" x="1240.8" y="302.1" class="k11"/><use href="#s" x="1228.5" y="375.7" class="k11"/><use href="#s" x="1258.1" y="301.3" class="k12"/><use href="#s" x="1240.6" y="317.8" class="k12"/><use href="#s" x="1218.0" y="232.0" class="k12"/><use href="#s" x="1258.3" y="299.9" class="k12"/><use href="#c" x="1199.7" y="263.3" class="k1"/><use href="#c" x="1082.1" y="343.1" class="k1"/><use href="#c" x="1082.1" y="357.7" class="k1"/><use href="#c" x="1209.5" y="382.0" class="k1"/><use href="#c" x="1201.7" y="391.7" class="k1"/><use href="#c" x="1201.3" y="389.7" class="k1"/><use href="#c" x="1210.1" y="382.2" class="k1"/><use href="#c" x="1192.0" y="367.4" class="k2"/><use href="#c" x="1070.4" y="382.0" class="k2"/><use href="#c" x="1147.2" y="403.4" class="k2"/><use href="#c" x="1241.6" y="284.7" class="k2"/><use href="#c" x="1235.7" y="392.7" class="k2"/><use href="#c" x="1289.2" y="389.7" class="k2"/><use href="#c" x="1370.0" y="242.1" class="k2"/><use href="#c" x="1233.3" y="211.4" class="k2"/><use href="#c" x="1235.5" y="391.9" class="k2"/><use href="#c" x="1292.0" y="388.8" class="k2"/><use href="#c" x="1107.4" y="285.7" class="k3"/><use href="#c" x="1129.7" y="296.4" class="k3"/><use href="#c" x="1194.9" y="241.9" class="k3"/><use href="#c" x="1212.4" y="278.9" class="k3"/><use href="#c" x="1245.4" y="329.5" class="k3"/><use href="#c" x="1194.8" y="239.9" class="k3"/><use href="#c" x="1264.0" y="233.3" class="k3"/><use href="#c" x="1317.4" y="283.7" class="k3"/><use href="#c" x="1160.8" y="271.1" class="k4"/><use href="#c" x="1136.5" y="312.9" class="k4"/><use href="#c" x="1172.5" y="391.7" class="k4"/><use href="#c" x="1181.3" y="395.6" class="k4"/><use href="#c" x="1226.0" y="329.5" class="k4"/><use href="#c" x="1265.9" y="366.4" class="k4"/><use href="#c" x="1203.5" y="193.4" class="k4"/><use href="#c" x="1266.2" y="366.5" class="k4"/><use href="#c" x="1069.4" y="400.4" class="k5"/><use href="#c" x="1205.6" y="325.6" class="k5"/><use href="#c" x="1272.7" y="338.2" class="k5"/><use href="#c" x="1272.3" y="339.3" class="k5"/><use href="#c" x="1117.1" y="317.8" class="k6"/><use href="#c" x="1283.4" y="293.5" class="k6"/><use href="#c" x="1222.1" y="352.8" class="k6"/><use href="#c" x="1186.1" y="355.7" class="k6"/><use href="#c" x="1240.6" y="378.1" class="k6"/><use href="#c" x="1283.7" y="293.3" class="k6"/><use href="#c" x="1239.9" y="377.4" class="k6"/><use href="#c" x="1082.1" y="368.4" class="k7"/><use href="#c" x="1086.0" y="382.9" class="k7"/><use href="#c" x="1079.2" y="401.4" class="k7"/><use href="#c" x="1190.0" y="379.0" class="k7"/><use href="#c" x="1184.2" y="385.9" class="k7"/><use href="#c" x="1247.4" y="253.6" class="k7"/><use href="#c" x="1244.5" y="275.0" class="k7"/><use href="#c" x="1267.8" y="272.1" class="k7"/><use href="#c" x="1199.7" y="341.1" class="k7"/><use href="#c" x="1209.5" y="358.6" class="k7"/><use href="#c" x="1342.4" y="220.2" class="k7"/><use href="#c" x="1302.1" y="261.8" class="k7"/><use href="#c" x="1306.5" y="294.6" class="k7"/><use href="#c" x="1161.8" y="277.9" class="k8"/><use href="#c" x="1143.0" y="303.2" class="k8"/><use href="#c" x="1170.6" y="356.7" class="k8"/><use href="#c" x="1166.7" y="367.4" class="k8"/><use href="#c" x="1281.4" y="263.3" class="k8"/><use href="#c" x="1310.8" y="142.2" class="k8"/><use href="#c" x="1281.5" y="263.5" class="k8"/><use href="#c" x="1144.3" y="313.9" class="k9"/><use href="#c" x="1162.8" y="350.8" class="k9"/><use href="#c" x="1147.2" y="395.6" class="k9"/><use href="#c" x="1157.9" y="392.7" class="k9"/><use href="#c" x="1227.0" y="339.2" class="k9"/><use href="#c" x="1251.3" y="344.0" class="k9"/><use href="#c" x="1235.7" y="366.4" class="k9"/><use href="#c" x="1250.8" y="343.7" class="k9"/><use href="#c" x="1235.5" y="365.6" class="k9"/><use href="#c" x="1112.2" y="329.5" class="k10"/><use href="#c" x="1189.0" y="312.0" class="k10"/><use href="#c" x="1104.5" y="339.2" class="k10"/><use href="#c" x="1199.7" y="329.5" class="k10"/><use href="#c" x="1141.4" y="354.7" class="k10"/><use href="#c" x="1113.2" y="398.5" class="k10"/><use href="#c" x="1170.6" y="298.3" class="k11"/><use href="#c" x="1122.9" y="321.7" class="k11"/><use href="#c" x="1116.1" y="331.4" class="k11"/><use href="#c" x="1170.6" y="338.2" class="k11"/><use href="#c" x="1183.2" y="345.0" class="k11"/><use href="#c" x="1177.4" y="365.4" class="k11"/><use href="#c" x="1096.7" y="374.2" class="k11"/><use href="#c" x="1141.4" y="383.9" class="k11"/><use href="#c" x="1129.7" y="393.6" class="k11"/><use href="#c" x="1192.9" y="271.1" class="k12"/><use href="#c" x="1186.1" y="278.9" class="k12"/><use href="#c" x="1180.3" y="288.6" class="k12"/><use href="#c" x="1192.9" y="285.7" class="k12"/><use href="#c" x="1200.7" y="299.3" class="k12"/><use href="#c" x="1161.8" y="307.1" class="k12"/><use href="#c" x="1153.1" y="314.9" class="k12"/><use href="#c" x="1160.8" y="321.7" class="k12"/><use href="#c" x="1138.5" y="325.6" class="k12"/><use href="#c" x="1181.3" y="322.7" class="k12"/><use href="#c" x="1158.9" y="338.2" class="k12"/><use href="#c" x="1131.7" y="337.2" class="k12"/><use href="#c" x="1135.6" y="346.0" class="k12"/><use href="#c" x="1123.9" y="348.9" class="k12"/><use href="#c" x="1116.1" y="350.8" class="k12"/><use href="#c" x="1107.4" y="358.6" class="k12"/><use href="#c" x="1120.0" y="360.6" class="k12"/><use href="#c" x="1140.4" y="362.5" class="k12"/><use href="#c" x="1146.3" y="372.2" class="k12"/><use href="#c" x="1156.0" y="376.1" class="k12"/><use href="#c" x="1110.3" y="382.0" class="k12"/><use href="#c" x="1101.5" y="386.8" class="k12"/><use href="#c" x="1118.1" y="385.9" class="k12"/><use href="#c" x="1093.8" y="393.6" class="k12"/><use href="#c" x="1239.6" y="265.3" class="k12"/><use href="#c" x="1265.9" y="280.8" class="k12"/><use href="#c" x="1237.7" y="337.2" class="k12"/><use href="#c" x="1208.5" y="345.0" class="k12"/><use href="#c" x="1359.9" y="153.1" class="k12"/><use href="#c" x="1305.6" y="242.9" class="k12"/></g>
<g clip-path="url(#cpc)"><line x1="1067.30" y1="410.30" x2="1443.73" y2="20.49" stroke="#000" stroke-width="2.6"/></g>
<rect x="1048.3" y="2.3" width="414.10" height="428.00" fill="none" stroke="#000" stroke-width="1.3"/>
<line x1="1067.30" y1="430.3" x2="1067.30" y2="436.7" stroke="#000" stroke-width="1.5"/>
<text class="t" x="1067.30" y="463.9" text-anchor="middle">0.0</text>
<line x1="1161.55" y1="430.3" x2="1161.55" y2="436.7" stroke="#000" stroke-width="1.5"/>
<text class="t" x="1161.55" y="463.9" text-anchor="middle">0.1</text>
<line x1="1255.80" y1="430.3" x2="1255.80" y2="436.7" stroke="#000" stroke-width="1.5"/>
<text class="t" x="1255.80" y="463.9" text-anchor="middle">0.2</text>
<line x1="1350.05" y1="430.3" x2="1350.05" y2="436.7" stroke="#000" stroke-width="1.5"/>
<text class="t" x="1350.05" y="463.9" text-anchor="middle">0.3</text>
<line x1="1444.30" y1="430.3" x2="1444.30" y2="436.7" stroke="#000" stroke-width="1.5"/>
<text class="t" x="1444.30" y="463.9" text-anchor="middle">0.4</text>
<line x1="1041.8999999999999" y1="410.30" x2="1048.3" y2="410.30" stroke="#000" stroke-width="1.5"/>
<text class="t" x="1036.10" y="421.40" text-anchor="end">0.0</text>
<line x1="1041.8999999999999" y1="312.70" x2="1048.3" y2="312.70" stroke="#000" stroke-width="1.5"/>
<text class="t" x="1036.10" y="323.80" text-anchor="end">0.1</text>
<line x1="1041.8999999999999" y1="215.10" x2="1048.3" y2="215.10" stroke="#000" stroke-width="1.5"/>
<text class="t" x="1036.10" y="226.20" text-anchor="end">0.2</text>
<line x1="1041.8999999999999" y1="117.50" x2="1048.3" y2="117.50" stroke="#000" stroke-width="1.5"/>
<text class="t" x="1036.10" y="128.60" text-anchor="end">0.3</text>
<line x1="1041.8999999999999" y1="19.90" x2="1048.3" y2="19.90" stroke="#000" stroke-width="1.5"/>
<text class="t" x="1036.10" y="31.00" text-anchor="end">0.4</text>
<rect x="1056.70" y="11.10" width="321.21" height="43.5" fill="#fff" stroke="#000" stroke-width="1.5"/>
<text class="b" x="1065.00" y="41.30" xml:space="preserve" style="white-space:pre">(c)  S [psu] [60-200)m</text>
<g clip-path="url(#cpd)" class="sc"><use href="#s" x="1639.3" y="379.4" class="k1"/><use href="#s" x="1644.2" y="342.6" class="k12"/><use href="#s" x="1591.6" y="382.6" class="k8"/><use href="#s" x="1595.1" y="369.7" class="k11"/><use href="#s" x="1581.9" y="366.0" class="k12"/><use href="#s" x="1655.2" y="309.9" class="k12"/><use href="#s" x="1660.0" y="327.9" class="k6"/><use href="#s" x="1610.2" y="350.3" class="k12"/><use href="#s" x="1574.0" y="357.8" class="k3"/><use href="#s" x="1594.4" y="405.7" class="k9"/><use href="#s" x="1587.2" y="375.4" class="k12"/><use href="#s" x="1596.6" y="401.6" class="k9"/><use href="#s" x="1577.6" y="392.4" class="k8"/><use href="#s" x="1580.2" y="368.3" class="k8"/><use href="#s" x="1582.4" y="364.7" class="k12"/><use href="#s" x="1671.8" y="304.6" class="k11"/><use href="#s" x="1591.5" y="367.6" class="k12"/><use href="#s" x="1579.9" y="384.7" class="k3"/><use href="#s" x="1574.8" y="386.8" class="k3"/><use href="#s" x="1637.1" y="381.6" class="k10"/><use href="#s" x="1589.2" y="364.1" class="k9"/><use href="#s" x="1570.2" y="391.9" class="k12"/><use href="#s" x="1681.5" y="305.9" class="k12"/><use href="#s" x="1585.4" y="361.0" class="k6"/><use href="#s" x="1590.6" y="404.7" class="k3"/><use href="#s" x="1583.1" y="365.2" class="k1"/><use href="#s" x="1619.1" y="333.8" class="k12"/><use href="#s" x="1622.7" y="329.5" class="k12"/><use href="#s" x="1574.5" y="381.2" class="k1"/><use href="#s" x="1583.4" y="387.4" class="k12"/><use href="#s" x="1607.0" y="392.5" class="k6"/><use href="#s" x="1676.0" y="364.0" class="k9"/><use href="#s" x="1602.7" y="340.9" class="k1"/><use href="#s" x="1679.6" y="332.1" class="k12"/><use href="#s" x="1679.4" y="362.5" class="k12"/><use href="#s" x="1589.1" y="354.1" class="k8"/><use href="#s" x="1582.0" y="387.6" class="k8"/><use href="#s" x="1652.1" y="374.5" class="k3"/><use href="#s" x="1611.4" y="371.1" class="k12"/><use href="#s" x="1681.7" y="375.3" class="k8"/><use href="#s" x="1616.3" y="388.5" class="k8"/><use href="#s" x="1574.4" y="367.7" class="k12"/><use href="#s" x="1662.6" y="349.2" class="k11"/><use href="#s" x="1573.7" y="379.1" class="k8"/><use href="#s" x="1570.9" y="363.3" class="k12"/><use href="#s" x="1572.6" y="373.4" class="k6"/><use href="#s" x="1661.7" y="387.1" class="k12"/><use href="#s" x="1665.1" y="325.9" class="k3"/><use href="#s" x="1621.0" y="390.1" class="k12"/><use href="#c" x="1617.5" y="351.3" class="k8"/><use href="#c" x="1626.5" y="351.8" class="k1"/><use href="#c" x="1646.0" y="358.2" class="k11"/><use href="#c" x="1696.3" y="352.2" class="k8"/><use href="#c" x="1618.7" y="361.7" class="k7"/><use href="#c" x="1684.0" y="365.6" class="k1"/><use href="#c" x="1592.3" y="398.0" class="k10"/><use href="#c" x="1627.3" y="385.4" class="k12"/><use href="#c" x="1670.2" y="334.5" class="k11"/><use href="#c" x="1595.3" y="342.5" class="k10"/><use href="#c" x="1594.7" y="344.5" class="k1"/><use href="#c" x="1610.7" y="344.6" class="k12"/><use href="#c" x="1707.2" y="312.3" class="k11"/><use href="#c" x="1643.4" y="337.4" class="k8"/><use href="#c" x="1586.7" y="363.9" class="k8"/><use href="#c" x="1707.9" y="309.2" class="k12"/><use href="#c" x="1689.4" y="301.9" class="k12"/><use href="#c" x="1648.4" y="310.5" class="k3"/><use href="#c" x="1628.7" y="341.6" class="k12"/><use href="#c" x="1696.2" y="340.8" class="k3"/><use href="#c" x="1656.7" y="373.6" class="k10"/><use href="#c" x="1671.7" y="319.0" class="k12"/><use href="#c" x="1706.3" y="308.1" class="k12"/><use href="#c" x="1685.6" y="293.6" class="k4"/><use href="#c" x="1583.8" y="367.2" class="k3"/><use href="#c" x="1599.0" y="370.3" class="k6"/><use href="#c" x="1671.7" y="347.1" class="k7"/><use href="#c" x="1601.5" y="369.1" class="k3"/><use href="#c" x="1583.9" y="355.6" class="k3"/><use href="#c" x="1602.9" y="360.7" class="k4"/><use href="#c" x="1625.8" y="378.8" class="k12"/><use href="#c" x="1627.9" y="333.1" class="k4"/><use href="#c" x="1653.8" y="351.0" class="k9"/><use href="#c" x="1599.2" y="342.9" class="k12"/><use href="#c" x="1628.3" y="388.6" class="k12"/><use href="#c" x="1702.5" y="324.2" class="k3"/><use href="#c" x="1652.6" y="316.2" class="k9"/><use href="#c" x="1691.0" y="296.7" class="k12"/><use href="#c" x="1689.6" y="311.3" class="k4"/><use href="#c" x="1603.3" y="385.2" class="k12"/><use href="#c" x="1652.1" y="341.8" class="k9"/><use href="#c" x="1606.0" y="370.7" class="k12"/><use href="#c" x="1686.8" y="308.0" class="k12"/><use href="#c" x="1619.8" y="371.6" class="k10"/><use href="#c" x="1671.7" y="313.7" class="k9"/><use href="#c" x="1601.7" y="361.3" class="k8"/><use href="#c" x="1637.5" y="386.7" class="k5"/><use href="#c" x="1672.0" y="357.2" class="k12"/><use href="#c" x="1636.3" y="330.8" class="k5"/><use href="#c" x="1621.7" y="343.1" class="k7"/><use href="#c" x="1644.9" y="349.0" class="k11"/><use href="#c" x="1692.1" y="310.5" class="k12"/><use href="#c" x="1675.9" y="382.2" class="k1"/><use href="#c" x="1577.5" y="388.5" class="k12"/><use href="#c" x="1706.1" y="318.4" class="k12"/><use href="#c" x="1680.5" y="309.4" class="k9"/><use href="#c" x="1668.4" y="363.8" class="k6"/><use href="#c" x="1637.5" y="352.6" class="k9"/><use href="#c" x="1600.2" y="363.5" class="k8"/><use href="#c" x="1632.9" y="373.7" class="k1"/><use href="#c" x="1687.5" y="354.7" class="k12"/><use href="#c" x="1603.5" y="340.0" class="k12"/><use href="#c" x="1697.6" y="297.9" class="k10"/><use href="#c" x="1693.6" y="323.5" class="k3"/><use href="#c" x="1665.1" y="351.4" class="k1"/><use href="#c" x="1613.0" y="336.1" class="k10"/><use href="#c" x="1632.8" y="347.8" class="k7"/><use href="#c" x="1662.2" y="337.3" class="k1"/><use href="#c" x="1660.9" y="378.3" class="k12"/><use href="#c" x="1639.7" y="378.6" class="k12"/><use href="#c" x="1693.1" y="365.1" class="k9"/><use href="#c" x="1694.7" y="294.6" class="k12"/><use href="#c" x="1699.1" y="309.0" class="k12"/><use href="#c" x="1655.0" y="323.7" class="k12"/><use href="#c" x="1662.4" y="384.9" class="k6"/><use href="#c" x="1618.4" y="399.0" class="k12"/><use href="#c" x="1640.4" y="361.0" class="k3"/><use href="#c" x="1698.4" y="356.8" class="k12"/><use href="#c" x="1602.3" y="399.9" class="k8"/><use href="#c" x="1612.1" y="335.9" class="k9"/><use href="#c" x="1663.4" y="351.5" class="k6"/><use href="#c" x="1662.5" y="370.7" class="k9"/><use href="#c" x="1666.6" y="321.0" class="k5"/><use href="#c" x="1649.0" y="391.0" class="k12"/><use href="#c" x="1631.0" y="385.7" class="k1"/><use href="#c" x="1593.2" y="392.4" class="k4"/><use href="#c" x="1595.0" y="373.5" class="k12"/><use href="#c" x="1596.6" y="384.5" class="k7"/><use href="#c" x="1603.1" y="347.7" class="k10"/><use href="#c" x="1675.4" y="327.5" class="k12"/><use href="#c" x="1632.1" y="363.7" class="k1"/><use href="#c" x="1610.7" y="399.2" class="k12"/><use href="#c" x="1668.3" y="312.9" class="k12"/><use href="#c" x="1584.2" y="367.1" class="k8"/><use href="#c" x="1675.3" y="364.4" class="k12"/><use href="#c" x="1662.5" y="307.3" class="k9"/><use href="#c" x="1655.3" y="327.5" class="k1"/><use href="#c" x="1633.4" y="365.8" class="k12"/><use href="#c" x="1586.1" y="368.3" class="k3"/><use href="#c" x="1600.5" y="361.8" class="k1"/><use href="#c" x="1575.6" y="387.3" class="k12"/><use href="#c" x="1666.6" y="312.4" class="k12"/><use href="#c" x="1646.1" y="378.0" class="k11"/><use href="#c" x="1583.6" y="357.1" class="k1"/><use href="#c" x="1587.2" y="368.3" class="k10"/><use href="#c" x="1608.6" y="388.6" class="k9"/><use href="#c" x="1656.9" y="326.6" class="k7"/><use href="#c" x="1659.9" y="360.8" class="k3"/><use href="#c" x="1612.6" y="340.2" class="k10"/><use href="#c" x="1687.4" y="370.7" class="k12"/><use href="#c" x="1632.1" y="388.7" class="k6"/><use href="#c" x="1700.6" y="312.3" class="k9"/><use href="#c" x="1630.5" y="323.2" class="k9"/><use href="#c" x="1633.7" y="341.2" class="k12"/><use href="#c" x="1676.5" y="382.7" class="k10"/><use href="#c" x="1658.5" y="386.9" class="k9"/><use href="#c" x="1613.7" y="336.7" class="k9"/><use href="#c" x="1675.2" y="307.1" class="k11"/><use href="#c" x="1614.0" y="350.7" class="k8"/><use href="#c" x="1662.7" y="341.8" class="k12"/><use href="#c" x="1618.4" y="349.3" class="k10"/><use href="#c" x="1665.1" y="378.0" class="k10"/><use href="#c" x="1577.2" y="393.4" class="k1"/><use href="#c" x="1684.1" y="348.1" class="k12"/><use href="#c" x="1624.1" y="394.5" class="k12"/><use href="#c" x="1594.3" y="364.4" class="k10"/><use href="#c" x="1656.2" y="329.6" class="k11"/><use href="#c" x="1642.5" y="314.7" class="k1"/><use href="#c" x="1674.6" y="329.8" class="k9"/><use href="#c" x="1679.9" y="354.4" class="k6"/><use href="#c" x="1639.6" y="317.5" class="k11"/><use href="#c" x="1569.7" y="370.2" class="k8"/><use href="#c" x="1661.0" y="332.8" class="k9"/><use href="#c" x="1613.2" y="343.5" class="k12"/><use href="#c" x="1641.6" y="342.9" class="k11"/><use href="#c" x="1593.9" y="400.4" class="k9"/><use href="#c" x="1608.1" y="371.0" class="k12"/><use href="#c" x="1602.9" y="355.8" class="k3"/><use href="#c" x="1601.6" y="385.2" class="k1"/><use href="#c" x="1683.9" y="367.3" class="k12"/><use href="#c" x="1640.6" y="386.8" class="k6"/><use href="#c" x="1639.1" y="345.5" class="k8"/><use href="#c" x="1635.8" y="375.4" class="k9"/><use href="#c" x="1634.6" y="366.5" class="k1"/><use href="#c" x="1576.4" y="382.3" class="k1"/><use href="#c" x="1644.5" y="381.8" class="k10"/><use href="#c" x="1670.3" y="354.3" class="k8"/><use href="#c" x="1628.2" y="367.5" class="k9"/><use href="#c" x="1674.1" y="295.6" class="k9"/><use href="#c" x="1693.1" y="325.2" class="k12"/><use href="#c" x="1649.9" y="333.5" class="k12"/><use href="#c" x="1678.7" y="344.6" class="k12"/><use href="#c" x="1638.2" y="359.4" class="k12"/><use href="#c" x="1585.6" y="396.5" class="k10"/><use href="#c" x="1692.8" y="313.0" class="k12"/><use href="#c" x="1580.2" y="375.3" class="k1"/><use href="#c" x="1644.5" y="369.3" class="k12"/><use href="#c" x="1658.7" y="387.8" class="k12"/><use href="#c" x="1575.1" y="368.3" class="k12"/><use href="#s" x="1907.0" y="77.3" class="k3"/><use href="#s" x="1898.3" y="83.0" class="k3"/><use href="#s" x="1945.6" y="64.6" class="k4"/><use href="#s" x="1868.9" y="128.2" class="k4"/><use href="#s" x="1832.6" y="172.0" class="k4"/><use href="#s" x="1606.1" y="336.0" class="k6"/><use href="#s" x="1605.6" y="338.4" class="k6"/><use href="#s" x="1584.6" y="356.0" class="k8"/><use href="#s" x="1575.4" y="363.7" class="k8"/><use href="#s" x="1592.2" y="348.3" class="k9"/><use href="#s" x="1693.6" y="374.4" class="k9"/><use href="#s" x="1624.5" y="405.1" class="k9"/><use href="#s" x="1591.6" y="349.4" class="k9"/><use href="#s" x="1694.6" y="374.4" class="k9"/><use href="#s" x="1698.9" y="285.4" class="k11"/><use href="#s" x="1685.9" y="295.3" class="k11"/><use href="#s" x="1652.1" y="399.0" class="k11"/><use href="#s" x="1698.9" y="285.9" class="k11"/><use href="#s" x="1667.5" y="303.0" class="k12"/><use href="#s" x="1705.9" y="331.4" class="k12"/><use href="#s" x="1665.2" y="389.8" class="k12"/><use href="#c" x="1681.3" y="374.4" class="k1"/><use href="#c" x="1678.2" y="383.6" class="k1"/><use href="#c" x="1655.2" y="386.7" class="k1"/><use href="#c" x="1647.5" y="386.7" class="k2"/><use href="#c" x="1673.6" y="287.7" class="k3"/><use href="#c" x="1638.3" y="314.5" class="k3"/><use href="#c" x="1702.0" y="307.6" class="k3"/><use href="#c" x="1722.0" y="320.7" class="k3"/><use href="#c" x="1573.8" y="377.5" class="k3"/><use href="#c" x="1673.5" y="288.1" class="k3"/><use href="#c" x="1722.2" y="320.5" class="k3"/><use href="#c" x="1637.6" y="315.2" class="k3"/><use href="#c" x="1674.4" y="339.9" class="k4"/><use href="#c" x="1670.5" y="371.3" class="k4"/><use href="#c" x="1693.6" y="328.3" class="k5"/><use href="#c" x="1689.0" y="346.8" class="k5"/><use href="#c" x="1576.9" y="386.7" class="k5"/><use href="#c" x="1689.3" y="346.8" class="k5"/><use href="#c" x="1735.0" y="313.8" class="k6"/><use href="#c" x="1647.5" y="325.3" class="k6"/><use href="#c" x="1662.1" y="323.0" class="k6"/><use href="#c" x="1669.8" y="354.4" class="k6"/><use href="#c" x="1641.4" y="383.6" class="k6"/><use href="#c" x="1747.1" y="308.7" class="k6"/><use href="#c" x="1722.0" y="282.3" class="k7"/><use href="#c" x="1719.7" y="295.3" class="k7"/><use href="#c" x="1717.4" y="306.1" class="k7"/><use href="#c" x="1652.1" y="334.5" class="k7"/><use href="#c" x="1688.2" y="362.1" class="k7"/><use href="#c" x="1720.8" y="282.4" class="k7"/><use href="#c" x="1717.8" y="304.3" class="k7"/><use href="#c" x="1688.0" y="362.5" class="k7"/><use href="#c" x="1690.5" y="302.2" class="k8"/><use href="#c" x="1683.6" y="306.8" class="k8"/><use href="#c" x="1673.6" y="319.1" class="k8"/><use href="#c" x="1747.3" y="309.2" class="k9"/><use href="#c" x="1632.2" y="339.9" class="k9"/><use href="#c" x="1661.3" y="337.6" class="k9"/><use href="#c" x="1686.7" y="337.6" class="k9"/><use href="#c" x="1687.1" y="338.4" class="k9"/><use href="#c" x="1738.1" y="294.6" class="k10"/><use href="#c" x="1703.6" y="299.9" class="k10"/><use href="#c" x="1689.0" y="313.0" class="k10"/><use href="#c" x="1685.9" y="319.1" class="k10"/><use href="#c" x="1653.7" y="355.2" class="k10"/><use href="#c" x="1607.6" y="356.7" class="k10"/><use href="#c" x="1586.9" y="377.5" class="k10"/><use href="#c" x="1593.0" y="402.0" class="k10"/><use href="#c" x="1607.6" y="400.5" class="k10"/><use href="#c" x="1737.5" y="294.6" class="k10"/><use href="#c" x="1634.1" y="381.4" class="k10"/><use href="#c" x="1634.6" y="370.6" class="k10"/><use href="#c" x="1604.9" y="366.4" class="k10"/><use href="#c" x="1718.9" y="285.4" class="k11"/><use href="#c" x="1732.7" y="303.0" class="k11"/><use href="#c" x="1741.2" y="309.9" class="k11"/><use href="#c" x="1746.5" y="319.1" class="k11"/><use href="#c" x="1708.2" y="320.7" class="k11"/><use href="#c" x="1621.4" y="346.8" class="k11"/><use href="#c" x="1582.3" y="399.7" class="k11"/><use href="#c" x="1718.7" y="285.9" class="k11"/><use href="#c" x="1733.1" y="303.4" class="k11"/><use href="#c" x="1741.9" y="310.8" class="k11"/><use href="#c" x="1746.3" y="318.7" class="k11"/><use href="#c" x="1707.7" y="320.9" class="k11"/><use href="#c" x="1644.4" y="348.3" class="k12"/><use href="#c" x="1652.9" y="366.0" class="k12"/><use href="#c" x="1612.2" y="367.5" class="k12"/><use href="#c" x="1627.6" y="374.4" class="k12"/><use href="#c" x="1633.7" y="371.3" class="k12"/><use href="#c" x="1598.4" y="375.9" class="k12"/><use href="#c" x="1607.6" y="380.5" class="k12"/><use href="#c" x="1596.8" y="392.8" class="k12"/><use href="#c" x="1606.1" y="392.8" class="k12"/><use href="#c" x="1633.7" y="394.4" class="k12"/><use href="#c" x="1641.4" y="402.0" class="k12"/><use href="#c" x="1798.4" y="186.9" class="k12"/><use href="#c" x="1801.9" y="204.4" class="k12"/><use href="#c" x="1826.0" y="192.6" class="k12"/><use href="#c" x="1855.3" y="191.2" class="k12"/><use href="#c" x="1768.2" y="251.7" class="k12"/><use href="#c" x="1607.1" y="372.7" class="k12"/><use href="#c" x="1609.3" y="385.5" class="k12"/><use href="#c" x="1599.3" y="388.1" class="k12"/><use href="#c" x="1634.4" y="364.0" class="k12"/><use href="#c" x="1611.6" y="379.6" class="k12"/><use href="#c" x="1627.1" y="362.9" class="k12"/><use href="#c" x="1599.8" y="371.0" class="k12"/><use href="#c" x="1629.1" y="374.3" class="k12"/><use href="#c" x="1602.0" y="379.4" class="k12"/><use href="#c" x="1624.4" y="366.3" class="k12"/><use href="#c" x="1628.3" y="374.2" class="k12"/><use href="#c" x="1614.0" y="378.4" class="k12"/><use href="#c" x="1639.1" y="367.3" class="k12"/><use href="#c" x="1621.2" y="383.8" class="k12"/><use href="#c" x="1627.0" y="366.7" class="k12"/><use href="#c" x="1639.4" y="367.3" class="k12"/><use href="#c" x="1613.6" y="390.0" class="k12"/><use href="#c" x="1623.2" y="367.7" class="k12"/><use href="#c" x="1634.0" y="381.8" class="k12"/></g>
<g clip-path="url(#cpd)"><line x1="1569.40" y1="410.30" x2="1945.43" y2="20.39" stroke="#000" stroke-width="2.6"/></g>
<rect x="1550.4" y="2.3" width="413.80" height="428.00" fill="none" stroke="#000" stroke-width="1.3"/>
<line x1="1569.40" y1="430.3" x2="1569.40" y2="436.7" stroke="#000" stroke-width="1.5"/>
<text class="t" x="1569.40" y="463.9" text-anchor="middle">0.0</text>
<line x1="1689.73" y1="430.3" x2="1689.73" y2="436.7" stroke="#000" stroke-width="1.5"/>
<text class="t" x="1689.73" y="463.9" text-anchor="middle">0.1</text>
<line x1="1810.06" y1="430.3" x2="1810.06" y2="436.7" stroke="#000" stroke-width="1.5"/>
<text class="t" x="1810.06" y="463.9" text-anchor="middle">0.2</text>
<line x1="1930.39" y1="430.3" x2="1930.39" y2="436.7" stroke="#000" stroke-width="1.5"/>
<text class="t" x="1930.39" y="463.9" text-anchor="middle">0.3</text>
<line x1="1544.0" y1="410.30" x2="1550.4" y2="410.30" stroke="#000" stroke-width="1.5"/>
<text class="t" x="1538.20" y="421.40" text-anchor="end">0.00</text>
<line x1="1544.0" y1="347.92" x2="1550.4" y2="347.92" stroke="#000" stroke-width="1.5"/>
<text class="t" x="1538.20" y="359.02" text-anchor="end">0.05</text>
<line x1="1544.0" y1="285.53" x2="1550.4" y2="285.53" stroke="#000" stroke-width="1.5"/>
<text class="t" x="1538.20" y="296.63" text-anchor="end">0.10</text>
<line x1="1544.0" y1="223.15" x2="1550.4" y2="223.15" stroke="#000" stroke-width="1.5"/>
<text class="t" x="1538.20" y="234.25" text-anchor="end">0.15</text>
<line x1="1544.0" y1="160.76" x2="1550.4" y2="160.76" stroke="#000" stroke-width="1.5"/>
<text class="t" x="1538.20" y="171.86" text-anchor="end">0.20</text>
<line x1="1544.0" y1="98.38" x2="1550.4" y2="98.38" stroke="#000" stroke-width="1.5"/>
<text class="t" x="1538.20" y="109.47" text-anchor="end">0.25</text>
<line x1="1544.0" y1="35.99" x2="1550.4" y2="35.99" stroke="#000" stroke-width="1.5"/>
<text class="t" x="1538.20" y="47.09" text-anchor="end">0.30</text>
<rect x="1558.80" y="11.10" width="358.46" height="43.5" fill="#fff" stroke="#000" stroke-width="1.5"/>
<text class="b" x="1567.10" y="41.30" xml:space="preserve" style="white-space:pre">(d)  S [psu] [200-2000]m</text>
<g clip-path="url(#cpe)" class="sc"><use href="#s" x="2118.1" y="406.5" class="k7"/><use href="#s" x="2116.7" y="382.1" class="k11"/><use href="#s" x="2066.4" y="407.6" class="k9"/><use href="#s" x="2170.8" y="348.8" class="k1"/><use href="#s" x="2114.2" y="407.1" class="k7"/><use href="#s" x="2097.5" y="376.0" class="k11"/><use href="#s" x="2098.6" y="404.2" class="k9"/><use href="#s" x="2099.6" y="404.4" class="k12"/><use href="#s" x="2179.8" y="357.4" class="k11"/><use href="#s" x="2116.9" y="390.7" class="k1"/><use href="#s" x="2125.1" y="374.6" class="k5"/><use href="#s" x="2066.4" y="408.7" class="k12"/><use href="#s" x="2125.2" y="400.1" class="k12"/><use href="#s" x="2138.2" y="375.1" class="k1"/><use href="#s" x="2108.9" y="407.5" class="k8"/><use href="#s" x="2112.1" y="410.0" class="k3"/><use href="#s" x="2171.1" y="355.8" class="k8"/><use href="#s" x="2132.7" y="398.3" class="k10"/><use href="#s" x="2127.2" y="389.5" class="k12"/><use href="#s" x="2154.4" y="376.4" class="k12"/><use href="#s" x="2097.4" y="408.7" class="k12"/><use href="#s" x="2166.8" y="365.4" class="k1"/><use href="#s" x="2136.9" y="400.0" class="k9"/><use href="#s" x="2160.3" y="358.4" class="k4"/><use href="#s" x="2120.6" y="404.9" class="k3"/><use href="#s" x="2100.4" y="402.7" class="k12"/><use href="#s" x="2134.2" y="406.5" class="k12"/><use href="#s" x="2097.1" y="394.1" class="k10"/><use href="#s" x="2120.2" y="394.4" class="k12"/><use href="#s" x="2116.7" y="382.5" class="k12"/><use href="#s" x="2148.4" y="372.3" class="k12"/><use href="#s" x="2066.4" y="404.3" class="k12"/><use href="#s" x="2166.1" y="394.5" class="k5"/><use href="#s" x="2083.0" y="407.7" class="k8"/><use href="#s" x="2122.3" y="368.9" class="k1"/><use href="#s" x="2116.2" y="410.3" class="k8"/><use href="#s" x="2069.3" y="404.4" class="k12"/><use href="#s" x="2111.7" y="367.8" class="k9"/><use href="#s" x="2126.8" y="410.3" class="k3"/><use href="#s" x="2144.4" y="398.2" class="k12"/><use href="#s" x="2125.8" y="407.6" class="k12"/><use href="#s" x="2151.9" y="381.2" class="k10"/><use href="#s" x="2127.3" y="406.1" class="k12"/><use href="#s" x="2115.4" y="377.2" class="k11"/><use href="#s" x="2182.5" y="363.1" class="k12"/><use href="#s" x="2167.1" y="373.4" class="k12"/><use href="#s" x="2135.4" y="383.3" class="k12"/><use href="#c" x="2098.9" y="379.8" class="k11"/><use href="#c" x="2098.7" y="398.2" class="k9"/><use href="#c" x="2154.6" y="360.0" class="k5"/><use href="#c" x="2162.0" y="358.3" class="k1"/><use href="#c" x="2135.8" y="387.1" class="k12"/><use href="#c" x="2171.4" y="363.0" class="k3"/><use href="#c" x="2165.2" y="390.9" class="k12"/><use href="#c" x="2092.0" y="389.6" class="k8"/><use href="#c" x="2172.9" y="379.5" class="k9"/><use href="#c" x="2149.4" y="375.1" class="k1"/><use href="#c" x="2108.2" y="375.7" class="k12"/><use href="#c" x="2167.7" y="373.0" class="k12"/><use href="#c" x="2179.3" y="371.9" class="k10"/><use href="#c" x="2093.7" y="378.0" class="k4"/><use href="#c" x="2143.4" y="378.8" class="k9"/><use href="#c" x="2155.5" y="384.2" class="k11"/><use href="#c" x="2114.3" y="375.7" class="k12"/><use href="#c" x="2116.3" y="373.7" class="k4"/><use href="#c" x="2150.4" y="373.9" class="k1"/><use href="#c" x="2095.7" y="385.3" class="k4"/><use href="#c" x="2153.6" y="394.1" class="k12"/><use href="#c" x="2138.5" y="388.2" class="k5"/><use href="#c" x="2177.5" y="355.6" class="k10"/><use href="#c" x="2164.8" y="353.5" class="k12"/><use href="#c" x="2133.9" y="398.2" class="k3"/><use href="#c" x="2084.4" y="393.5" class="k12"/><use href="#c" x="2092.1" y="381.6" class="k5"/><use href="#c" x="2114.9" y="389.7" class="k11"/><use href="#c" x="2128.0" y="363.6" class="k12"/><use href="#c" x="2138.9" y="361.6" class="k12"/><use href="#c" x="2160.7" y="384.1" class="k8"/><use href="#c" x="2155.2" y="396.2" class="k10"/><use href="#c" x="2142.7" y="372.0" class="k12"/><use href="#c" x="2154.1" y="382.3" class="k1"/><use href="#c" x="2090.2" y="381.8" class="k11"/><use href="#c" x="2165.7" y="365.5" class="k1"/><use href="#c" x="2116.5" y="395.3" class="k11"/><use href="#c" x="2120.4" y="365.7" class="k4"/><use href="#c" x="2162.8" y="377.2" class="k12"/><use href="#c" x="2177.5" y="369.9" class="k12"/><use href="#c" x="2080.1" y="391.7" class="k12"/><use href="#c" x="2137.0" y="399.4" class="k12"/><use href="#c" x="2105.3" y="376.3" class="k12"/><use href="#c" x="2115.6" y="409.7" class="k12"/><use href="#c" x="2163.3" y="363.5" class="k12"/><use href="#c" x="2145.0" y="397.2" class="k4"/><use href="#c" x="2185.4" y="376.0" class="k12"/><use href="#c" x="2118.4" y="401.7" class="k11"/><use href="#c" x="2099.5" y="375.0" class="k12"/><use href="#c" x="2123.7" y="410.0" class="k8"/><use href="#c" x="2116.7" y="382.8" class="k9"/><use href="#c" x="2098.0" y="395.0" class="k5"/><use href="#c" x="2129.7" y="380.5" class="k11"/><use href="#c" x="2129.1" y="389.9" class="k12"/><use href="#c" x="2181.6" y="359.3" class="k1"/><use href="#c" x="2118.1" y="400.2" class="k5"/><use href="#c" x="2144.2" y="363.9" class="k12"/><use href="#c" x="2138.9" y="388.9" class="k12"/><use href="#c" x="2139.9" y="396.8" class="k12"/><use href="#c" x="2115.7" y="403.5" class="k11"/><use href="#c" x="2110.8" y="398.4" class="k5"/><use href="#c" x="2080.0" y="396.2" class="k9"/><use href="#c" x="2086.8" y="396.6" class="k11"/><use href="#c" x="2116.4" y="388.2" class="k8"/><use href="#c" x="2172.2" y="375.5" class="k11"/><use href="#c" x="2157.0" y="392.9" class="k11"/><use href="#c" x="2090.7" y="382.7" class="k12"/><use href="#c" x="2113.6" y="388.9" class="k12"/><use href="#c" x="2150.2" y="360.3" class="k11"/><use href="#c" x="2130.1" y="382.6" class="k12"/><use href="#c" x="2157.3" y="390.0" class="k12"/><use href="#c" x="2111.3" y="380.7" class="k12"/><use href="#c" x="2109.3" y="399.1" class="k9"/><use href="#c" x="2134.6" y="379.6" class="k12"/><use href="#c" x="2163.2" y="366.1" class="k3"/><use href="#c" x="2146.7" y="368.6" class="k12"/><use href="#c" x="2134.0" y="384.7" class="k9"/><use href="#c" x="2126.1" y="400.5" class="k4"/><use href="#c" x="2140.3" y="387.6" class="k3"/><use href="#c" x="2165.4" y="388.8" class="k9"/><use href="#c" x="2125.1" y="381.5" class="k12"/><use href="#c" x="2111.8" y="399.1" class="k4"/><use href="#c" x="2140.2" y="382.2" class="k12"/><use href="#c" x="2175.9" y="390.8" class="k1"/><use href="#s" x="2106.1" y="352.2" class="k1"/><use href="#s" x="2145.5" y="410.2" class="k2"/><use href="#s" x="2265.2" y="306.5" class="k4"/><use href="#s" x="2204.2" y="388.1" class="k5"/><use href="#s" x="2183.5" y="354.9" class="k6"/><use href="#s" x="2192.5" y="374.3" class="k6"/><use href="#s" x="2178.0" y="385.3" class="k6"/><use href="#s" x="2230.1" y="242.1" class="k6"/><use href="#s" x="2066.4" y="410.2" class="k7"/><use href="#s" x="2283.6" y="293.3" class="k7"/><use href="#s" x="2102.7" y="359.8" class="k9"/><use href="#s" x="2173.8" y="396.4" class="k10"/><use href="#s" x="2214.6" y="342.5" class="k11"/><use href="#c" x="2168.3" y="356.3" class="k1"/><use href="#c" x="2078.5" y="386.7" class="k1"/><use href="#c" x="2113.8" y="374.6" class="k1"/><use href="#c" x="2122.3" y="386.0" class="k1"/><use href="#c" x="2212.5" y="332.8" class="k2"/><use href="#c" x="2078.5" y="392.3" class="k2"/><use href="#c" x="2218.1" y="354.3" class="k3"/><use href="#c" x="2119.9" y="355.6" class="k3"/><use href="#c" x="2160.7" y="404.0" class="k3"/><use href="#c" x="2156.6" y="357.7" class="k4"/><use href="#c" x="2140.7" y="401.9" class="k4"/><use href="#c" x="2156.3" y="318.3" class="k5"/><use href="#c" x="2126.2" y="363.2" class="k5"/><use href="#c" x="2180.1" y="369.5" class="k5"/><use href="#c" x="2201.5" y="316.9" class="k6"/><use href="#c" x="2195.3" y="304.5" class="k7"/><use href="#c" x="2169.0" y="326.6" class="k7"/><use href="#c" x="2154.5" y="340.4" class="k7"/><use href="#c" x="2171.1" y="337.7" class="k8"/><use href="#c" x="2183.5" y="338.4" class="k8"/><use href="#c" x="2193.2" y="342.5" class="k8"/><use href="#c" x="2067.4" y="407.5" class="k8"/><use href="#c" x="2182.1" y="328.0" class="k9"/><use href="#c" x="2198.0" y="363.9" class="k9"/><use href="#c" x="2248.5" y="318.3" class="k9"/><use href="#c" x="2241.9" y="327.1" class="k9"/><use href="#c" x="2167.6" y="368.1" class="k10"/><use href="#c" x="2157.9" y="393.6" class="k10"/><use href="#c" x="2442.6" y="27.0" class="k10"/><use href="#c" x="2180.1" y="348.0" class="k11"/><use href="#c" x="2135.1" y="372.9" class="k11"/><use href="#c" x="2143.4" y="385.3" class="k11"/><use href="#c" x="2145.5" y="395.0" class="k11"/><use href="#c" x="2167.6" y="388.1" class="k11"/><use href="#c" x="2087.7" y="397.3" class="k11"/><use href="#c" x="2101.4" y="378.7" class="k11"/><use href="#c" x="2102.3" y="382.5" class="k11"/><use href="#c" x="2200.1" y="322.5" class="k12"/><use href="#c" x="2122.7" y="370.1" class="k12"/><use href="#c" x="2119.9" y="378.4" class="k12"/><use href="#c" x="2102.0" y="375.7" class="k12"/><use href="#c" x="2141.4" y="374.3" class="k12"/><use href="#c" x="2154.5" y="372.9" class="k12"/><use href="#c" x="2154.5" y="385.3" class="k12"/><use href="#c" x="2113.0" y="389.5" class="k12"/><use href="#c" x="2100.6" y="389.5" class="k12"/><use href="#c" x="2093.7" y="399.2" class="k12"/><use href="#c" x="2119.9" y="399.2" class="k12"/><use href="#c" x="2079.9" y="403.3" class="k12"/><use href="#c" x="2114.7" y="388.8" class="k12"/><use href="#c" x="2117.7" y="384.0" class="k12"/><use href="#c" x="2092.0" y="395.9" class="k12"/><use href="#c" x="2106.2" y="397.7" class="k12"/><use href="#c" x="2104.5" y="401.8" class="k12"/><use href="#c" x="2103.0" y="378.6" class="k12"/><use href="#c" x="2101.7" y="385.8" class="k12"/><use href="#c" x="2093.2" y="400.6" class="k12"/><use href="#c" x="2101.6" y="385.0" class="k12"/><use href="#c" x="2091.7" y="389.6" class="k12"/><use href="#c" x="2098.5" y="383.6" class="k12"/><use href="#c" x="2117.3" y="374.2" class="k12"/><use href="#c" x="2108.3" y="394.8" class="k12"/><use href="#c" x="2111.1" y="376.5" class="k12"/><use href="#c" x="2090.7" y="387.7" class="k12"/><use href="#c" x="2102.2" y="381.2" class="k12"/><use href="#c" x="2094.0" y="401.7" class="k12"/></g>
<g clip-path="url(#cpe)"><line x1="2066.40" y1="410.30" x2="2443.02" y2="20.83" stroke="#000" stroke-width="2.6"/></g>
<rect x="2047.5" y="2.3" width="414.30" height="428.00" fill="none" stroke="#000" stroke-width="1.3"/>
<line x1="2066.40" y1="430.3" x2="2066.40" y2="436.7" stroke="#000" stroke-width="1.5"/>
<text class="t" x="2066.40" y="463.9" text-anchor="middle">0.00</text>
<line x1="2179.64" y1="430.3" x2="2179.64" y2="436.7" stroke="#000" stroke-width="1.5"/>
<text class="t" x="2179.64" y="463.9" text-anchor="middle">0.05</text>
<line x1="2292.87" y1="430.3" x2="2292.87" y2="436.7" stroke="#000" stroke-width="1.5"/>
<text class="t" x="2292.87" y="463.9" text-anchor="middle">0.10</text>
<line x1="2406.11" y1="430.3" x2="2406.11" y2="436.7" stroke="#000" stroke-width="1.5"/>
<text class="t" x="2406.11" y="463.9" text-anchor="middle">0.15</text>
<line x1="2041.1" y1="410.30" x2="2047.5" y2="410.30" stroke="#000" stroke-width="1.5"/>
<text class="t" x="2035.30" y="421.40" text-anchor="end">0.00</text>
<line x1="2041.1" y1="293.20" x2="2047.5" y2="293.20" stroke="#000" stroke-width="1.5"/>
<text class="t" x="2035.30" y="304.30" text-anchor="end">0.05</text>
<line x1="2041.1" y1="176.10" x2="2047.5" y2="176.10" stroke="#000" stroke-width="1.5"/>
<text class="t" x="2035.30" y="187.20" text-anchor="end">0.10</text>
<line x1="2041.1" y1="59.00" x2="2047.5" y2="59.00" stroke="#000" stroke-width="1.5"/>
<text class="t" x="2035.30" y="70.10" text-anchor="end">0.15</text>
<rect x="2055.90" y="11.10" width="181.27" height="43.5" fill="#fff" stroke="#000" stroke-width="1.5"/>
<text class="b" x="2064.20" y="41.30" xml:space="preserve" style="white-space:pre">(e)  SLA [m]</text>
<g clip-path="url(#cpf)" class="sc"><use href="#s" x="226.8" y="855.1" class="k5"/><use href="#s" x="224.8" y="882.7" class="k12"/><use href="#s" x="358.4" y="849.7" class="k6"/><use href="#s" x="113.1" y="886.2" class="k3"/><use href="#s" x="264.4" y="887.8" class="k12"/><use href="#s" x="250.6" y="887.8" class="k3"/><use href="#s" x="191.4" y="843.5" class="k12"/><use href="#s" x="320.0" y="877.9" class="k8"/><use href="#s" x="136.8" y="876.5" class="k10"/><use href="#s" x="303.4" y="882.9" class="k8"/><use href="#s" x="387.4" y="887.7" class="k3"/><use href="#s" x="304.7" y="841.1" class="k8"/><use href="#s" x="351.1" y="878.0" class="k8"/><use href="#s" x="259.7" y="876.6" class="k4"/><use href="#s" x="179.2" y="886.8" class="k5"/><use href="#s" x="214.6" y="870.3" class="k10"/><use href="#s" x="367.4" y="880.2" class="k8"/><use href="#s" x="359.1" y="884.5" class="k11"/><use href="#s" x="266.2" y="836.3" class="k8"/><use href="#s" x="109.7" y="867.6" class="k12"/><use href="#s" x="235.6" y="851.1" class="k2"/><use href="#s" x="146.4" y="887.8" class="k8"/><use href="#s" x="184.1" y="848.7" class="k5"/><use href="#s" x="133.7" y="830.2" class="k12"/><use href="#s" x="316.6" y="887.8" class="k3"/><use href="#s" x="326.1" y="850.5" class="k4"/><use href="#s" x="335.7" y="852.5" class="k4"/><use href="#s" x="385.6" y="884.2" class="k6"/><use href="#s" x="223.3" y="879.5" class="k8"/><use href="#s" x="107.5" y="882.8" class="k5"/><use href="#s" x="154.2" y="887.8" class="k5"/><use href="#s" x="117.4" y="875.6" class="k12"/><use href="#s" x="232.6" y="832.5" class="k10"/><use href="#s" x="217.7" y="871.0" class="k3"/><use href="#s" x="178.9" y="830.0" class="k12"/><use href="#s" x="318.0" y="859.9" class="k7"/><use href="#s" x="107.5" y="884.5" class="k12"/><use href="#s" x="389.5" y="863.6" class="k8"/><use href="#s" x="237.2" y="880.5" class="k11"/><use href="#s" x="412.8" y="887.8" class="k8"/><use href="#s" x="400.2" y="867.1" class="k6"/><use href="#s" x="348.3" y="872.6" class="k5"/><use href="#s" x="354.1" y="872.9" class="k5"/><use href="#s" x="340.3" y="879.0" class="k12"/><use href="#s" x="269.3" y="877.3" class="k11"/><use href="#s" x="124.1" y="841.5" class="k12"/><use href="#s" x="393.3" y="880.5" class="k8"/><use href="#s" x="107.5" y="887.8" class="k5"/><use href="#s" x="380.1" y="866.3" class="k8"/><use href="#s" x="250.7" y="848.6" class="k10"/><use href="#s" x="205.3" y="878.8" class="k12"/><use href="#s" x="191.9" y="876.8" class="k12"/><use href="#s" x="191.2" y="877.0" class="k12"/><use href="#s" x="322.2" y="884.8" class="k4"/><use href="#s" x="107.5" y="887.8" class="k8"/><use href="#s" x="173.2" y="867.7" class="k1"/><use href="#s" x="187.1" y="887.8" class="k8"/><use href="#s" x="277.9" y="882.8" class="k3"/><use href="#s" x="197.8" y="882.2" class="k3"/><use href="#s" x="386.4" y="852.9" class="k8"/><use href="#s" x="174.4" y="841.6" class="k12"/><use href="#s" x="402.0" y="859.9" class="k9"/><use href="#s" x="322.1" y="880.8" class="k6"/><use href="#s" x="346.5" y="846.7" class="k6"/><use href="#s" x="346.2" y="884.7" class="k9"/><use href="#s" x="165.9" y="874.3" class="k8"/><use href="#s" x="305.0" y="879.2" class="k8"/><use href="#s" x="345.7" y="872.9" class="k5"/><use href="#s" x="154.0" y="825.3" class="k10"/><use href="#s" x="415.1" y="887.8" class="k8"/><use href="#s" x="398.6" y="882.1" class="k5"/><use href="#s" x="189.4" y="887.8" class="k9"/><use href="#s" x="268.6" y="863.7" class="k8"/><use href="#s" x="323.0" y="874.6" class="k8"/><use href="#s" x="398.9" y="870.1" class="k5"/><use href="#s" x="286.1" y="848.1" class="k11"/><use href="#s" x="291.5" y="883.2" class="k12"/><use href="#s" x="136.2" y="860.9" class="k12"/><use href="#s" x="130.9" y="867.9" class="k3"/><use href="#s" x="330.5" y="860.1" class="k8"/><use href="#s" x="111.0" y="887.8" class="k3"/><use href="#s" x="132.0" y="829.1" class="k10"/><use href="#s" x="187.8" y="876.9" class="k3"/><use href="#s" x="251.7" y="885.2" class="k8"/><use href="#s" x="400.4" y="855.4" class="k8"/><use href="#s" x="322.7" y="851.5" class="k5"/><use href="#s" x="351.8" y="878.8" class="k9"/><use href="#s" x="107.5" y="876.6" class="k5"/><use href="#s" x="255.0" y="883.0" class="k10"/><use href="#s" x="231.0" y="862.7" class="k10"/><use href="#s" x="400.9" y="873.2" class="k7"/><use href="#s" x="249.1" y="851.8" class="k11"/><use href="#s" x="284.1" y="846.1" class="k2"/><use href="#s" x="377.2" y="854.8" class="k7"/><use href="#s" x="140.0" y="887.8" class="k11"/><use href="#s" x="240.4" y="875.4" class="k5"/><use href="#s" x="248.2" y="838.2" class="k2"/><use href="#s" x="284.9" y="887.8" class="k3"/><use href="#s" x="346.2" y="870.4" class="k8"/><use href="#s" x="349.6" y="850.9" class="k7"/><use href="#s" x="370.2" y="887.8" class="k11"/><use href="#s" x="363.5" y="876.1" class="k12"/><use href="#s" x="324.9" y="859.1" class="k8"/><use href="#s" x="262.3" y="834.0" class="k5"/><use href="#s" x="276.3" y="859.1" class="k11"/><use href="#s" x="352.7" y="875.5" class="k8"/><use href="#s" x="170.4" y="859.6" class="k7"/><use href="#s" x="309.2" y="844.3" class="k8"/><use href="#s" x="139.2" y="847.4" class="k10"/><use href="#s" x="304.1" y="865.0" class="k8"/><use href="#s" x="167.8" y="887.8" class="k3"/><use href="#s" x="251.3" y="887.8" class="k8"/><use href="#s" x="107.5" y="874.9" class="k8"/><use href="#s" x="178.1" y="887.8" class="k11"/><use href="#s" x="277.6" y="875.2" class="k2"/><use href="#s" x="355.1" y="887.8" class="k12"/><use href="#s" x="357.5" y="878.7" class="k9"/><use href="#s" x="182.0" y="887.8" class="k8"/><use href="#s" x="340.4" y="858.6" class="k8"/><use href="#s" x="350.4" y="852.2" class="k4"/><use href="#s" x="395.8" y="858.3" class="k8"/><use href="#s" x="331.3" y="842.0" class="k4"/><use href="#s" x="172.3" y="830.7" class="k12"/><use href="#s" x="120.4" y="821.0" class="k12"/><use href="#s" x="107.5" y="881.4" class="k12"/><use href="#s" x="123.9" y="876.6" class="k12"/><use href="#s" x="195.1" y="887.8" class="k6"/><use href="#s" x="270.0" y="883.0" class="k3"/><use href="#s" x="187.9" y="887.8" class="k11"/><use href="#s" x="363.7" y="858.9" class="k7"/><use href="#s" x="395.9" y="887.8" class="k12"/><use href="#s" x="245.9" y="844.1" class="k11"/><use href="#s" x="317.6" y="887.8" class="k6"/><use href="#s" x="144.4" y="860.6" class="k12"/><use href="#s" x="159.0" y="874.5" class="k6"/><use href="#s" x="119.9" y="840.5" class="k10"/><use href="#s" x="408.8" y="887.8" class="k11"/><use href="#s" x="371.6" y="862.4" class="k6"/><use href="#s" x="275.2" y="834.1" class="k11"/><use href="#s" x="333.6" y="845.7" class="k7"/><use href="#s" x="344.0" y="860.7" class="k8"/><use href="#s" x="125.1" y="817.0" class="k10"/><use href="#s" x="225.9" y="867.0" class="k10"/><use href="#s" x="336.1" y="887.8" class="k8"/><use href="#s" x="127.0" y="825.1" class="k11"/><use href="#s" x="157.8" y="854.4" class="k12"/><use href="#s" x="141.4" y="835.2" class="k12"/><use href="#s" x="395.2" y="876.7" class="k9"/><use href="#s" x="258.8" y="839.7" class="k11"/><use href="#s" x="225.9" y="876.7" class="k11"/><use href="#s" x="379.9" y="884.2" class="k7"/><use href="#s" x="414.5" y="871.2" class="k8"/><use href="#s" x="237.4" y="885.9" class="k11"/><use href="#s" x="204.6" y="853.0" class="k3"/><use href="#s" x="132.9" y="875.3" class="k6"/><use href="#s" x="358.6" y="880.9" class="k9"/><use href="#s" x="298.0" y="877.5" class="k6"/><use href="#s" x="125.9" y="887.8" class="k12"/><use href="#s" x="256.2" y="875.3" class="k9"/><use href="#s" x="283.5" y="850.6" class="k5"/><use href="#s" x="383.1" y="852.1" class="k8"/><use href="#s" x="286.6" y="842.8" class="k11"/><use href="#s" x="284.4" y="874.5" class="k2"/><use href="#s" x="336.2" y="885.1" class="k9"/><use href="#s" x="169.0" y="887.8" class="k8"/><use href="#s" x="364.1" y="862.3" class="k7"/><use href="#s" x="156.6" y="852.7" class="k12"/><use href="#s" x="251.8" y="887.8" class="k12"/><use href="#s" x="252.4" y="886.6" class="k12"/><use href="#s" x="368.8" y="871.6" class="k8"/><use href="#s" x="134.2" y="881.5" class="k6"/><use href="#s" x="366.2" y="869.3" class="k8"/><use href="#s" x="396.6" y="887.8" class="k8"/><use href="#s" x="301.7" y="856.6" class="k5"/><use href="#s" x="162.6" y="873.6" class="k11"/><use href="#s" x="219.5" y="846.0" class="k11"/><use href="#s" x="288.3" y="842.8" class="k8"/><use href="#s" x="277.7" y="887.8" class="k12"/><use href="#s" x="162.3" y="887.8" class="k5"/><use href="#s" x="107.5" y="878.8" class="k12"/><use href="#s" x="337.3" y="854.3" class="k9"/><use href="#s" x="122.4" y="883.4" class="k12"/><use href="#s" x="240.8" y="876.3" class="k9"/><use href="#s" x="345.6" y="852.6" class="k9"/><use href="#s" x="232.1" y="866.1" class="k11"/><use href="#s" x="220.7" y="878.8" class="k11"/><use href="#s" x="332.9" y="864.0" class="k8"/><use href="#s" x="134.7" y="887.8" class="k12"/><use href="#s" x="337.0" y="877.4" class="k4"/><use href="#s" x="319.2" y="878.1" class="k8"/><use href="#s" x="304.0" y="877.9" class="k6"/><use href="#s" x="280.8" y="869.6" class="k5"/><use href="#s" x="269.3" y="881.4" class="k8"/><use href="#s" x="109.0" y="877.8" class="k12"/><use href="#s" x="122.5" y="887.8" class="k8"/><use href="#s" x="137.2" y="819.5" class="k12"/><use href="#s" x="351.5" y="880.3" class="k8"/><use href="#s" x="161.9" y="857.6" class="k10"/><use href="#s" x="381.7" y="865.8" class="k6"/><use href="#s" x="179.6" y="887.8" class="k5"/><use href="#s" x="300.0" y="850.2" class="k5"/><use href="#s" x="333.0" y="849.9" class="k7"/><use href="#s" x="251.0" y="849.4" class="k5"/><use href="#s" x="315.2" y="862.5" class="k5"/><use href="#s" x="162.2" y="830.2" class="k3"/><use href="#s" x="378.5" y="870.1" class="k7"/><use href="#s" x="121.3" y="861.6" class="k11"/><use href="#s" x="149.7" y="878.5" class="k11"/><use href="#s" x="410.6" y="873.7" class="k8"/><use href="#s" x="337.3" y="854.8" class="k6"/><use href="#s" x="124.5" y="817.7" class="k12"/><use href="#s" x="400.0" y="887.8" class="k9"/><use href="#s" x="345.4" y="880.4" class="k8"/><use href="#s" x="119.7" y="880.1" class="k12"/><use href="#s" x="304.1" y="878.2" class="k6"/><use href="#s" x="140.8" y="887.8" class="k6"/><use href="#s" x="157.4" y="843.6" class="k12"/><use href="#s" x="385.8" y="872.4" class="k8"/><use href="#s" x="120.1" y="878.6" class="k12"/><use href="#s" x="122.3" y="842.7" class="k12"/><use href="#s" x="347.0" y="858.1" class="k6"/><use href="#s" x="188.7" y="887.8" class="k12"/><use href="#s" x="149.1" y="844.7" class="k12"/><use href="#s" x="349.6" y="881.2" class="k8"/><use href="#c" x="184.8" y="840.4" class="k12"/><use href="#c" x="140.7" y="836.7" class="k12"/><use href="#c" x="231.4" y="849.1" class="k2"/><use href="#c" x="268.0" y="868.9" class="k8"/><use href="#c" x="209.9" y="858.2" class="k10"/><use href="#c" x="330.1" y="882.5" class="k4"/><use href="#c" x="286.5" y="867.7" class="k11"/><use href="#c" x="117.9" y="829.9" class="k12"/><use href="#c" x="218.8" y="871.6" class="k11"/><use href="#c" x="137.7" y="823.7" class="k12"/><use href="#c" x="309.9" y="852.1" class="k6"/><use href="#c" x="152.4" y="834.9" class="k5"/><use href="#c" x="152.7" y="872.0" class="k12"/><use href="#c" x="214.9" y="875.8" class="k2"/><use href="#c" x="276.0" y="879.5" class="k5"/><use href="#c" x="291.8" y="846.9" class="k10"/><use href="#c" x="257.1" y="863.4" class="k2"/><use href="#c" x="107.6" y="858.5" class="k12"/><use href="#c" x="149.4" y="828.7" class="k12"/><use href="#c" x="274.3" y="877.4" class="k4"/><use href="#c" x="396.8" y="859.1" class="k7"/><use href="#c" x="129.3" y="881.5" class="k12"/><use href="#c" x="221.2" y="860.8" class="k12"/><use href="#c" x="195.9" y="853.3" class="k12"/><use href="#c" x="125.6" y="821.2" class="k12"/><use href="#c" x="353.2" y="883.0" class="k8"/><use href="#c" x="322.0" y="854.1" class="k6"/><use href="#c" x="289.6" y="884.6" class="k12"/><use href="#c" x="121.4" y="876.9" class="k12"/><use href="#c" x="172.1" y="877.5" class="k12"/><use href="#c" x="269.3" y="849.6" class="k11"/><use href="#c" x="251.0" y="859.6" class="k10"/><use href="#c" x="124.7" y="879.3" class="k11"/><use href="#c" x="126.9" y="833.5" class="k7"/><use href="#c" x="143.4" y="859.5" class="k12"/><use href="#c" x="214.5" y="881.3" class="k11"/><use href="#c" x="238.1" y="858.3" class="k11"/><use href="#c" x="107.5" y="845.8" class="k12"/><use href="#c" x="335.6" y="886.3" class="k11"/><use href="#c" x="232.5" y="833.2" class="k3"/><use href="#c" x="182.4" y="842.7" class="k1"/><use href="#c" x="277.7" y="850.0" class="k4"/><use href="#c" x="207.8" y="850.9" class="k12"/><use href="#c" x="149.9" y="856.1" class="k1"/><use href="#c" x="234.8" y="879.9" class="k4"/><use href="#c" x="191.0" y="867.4" class="k11"/><use href="#c" x="245.3" y="850.7" class="k8"/><use href="#c" x="168.3" y="877.3" class="k12"/><use href="#c" x="250.2" y="837.2" class="k12"/><use href="#c" x="277.4" y="860.1" class="k11"/><use href="#c" x="164.2" y="830.1" class="k12"/><use href="#c" x="270.8" y="869.1" class="k10"/><use href="#c" x="411.6" y="886.3" class="k12"/><use href="#c" x="315.6" y="848.4" class="k8"/><use href="#c" x="206.2" y="886.6" class="k9"/><use href="#c" x="181.4" y="859.5" class="k12"/><use href="#c" x="132.0" y="867.8" class="k12"/><use href="#c" x="349.0" y="887.8" class="k3"/><use href="#c" x="153.5" y="854.0" class="k1"/><use href="#c" x="194.0" y="858.3" class="k12"/><use href="#c" x="365.0" y="867.4" class="k8"/><use href="#c" x="144.4" y="837.4" class="k3"/><use href="#c" x="216.0" y="883.7" class="k4"/><use href="#c" x="327.8" y="853.1" class="k6"/><use href="#c" x="337.1" y="879.9" class="k5"/><use href="#c" x="132.1" y="844.9" class="k5"/><use href="#c" x="365.9" y="874.2" class="k9"/><use href="#c" x="150.3" y="842.7" class="k12"/><use href="#c" x="346.6" y="855.5" class="k7"/><use href="#c" x="215.7" y="838.0" class="k11"/><use href="#c" x="211.5" y="845.4" class="k3"/><use href="#c" x="147.4" y="833.2" class="k12"/><use href="#c" x="255.1" y="857.3" class="k11"/><use href="#c" x="107.5" y="840.0" class="k12"/><use href="#c" x="341.6" y="884.6" class="k11"/><use href="#c" x="408.9" y="873.4" class="k8"/><use href="#c" x="159.9" y="874.2" class="k12"/><use href="#c" x="184.8" y="831.5" class="k7"/><use href="#c" x="325.8" y="857.5" class="k5"/><use href="#c" x="244.1" y="872.5" class="k10"/><use href="#c" x="231.8" y="837.4" class="k11"/><use href="#c" x="150.5" y="823.1" class="k1"/><use href="#c" x="252.3" y="887.8" class="k8"/><use href="#c" x="316.6" y="858.3" class="k8"/><use href="#c" x="347.4" y="873.1" class="k7"/><use href="#c" x="124.6" y="840.4" class="k12"/><use href="#c" x="121.4" y="819.6" class="k12"/><use href="#c" x="348.9" y="856.5" class="k8"/><use href="#c" x="252.3" y="874.0" class="k8"/><use href="#c" x="220.2" y="879.0" class="k5"/><use href="#c" x="274.5" y="883.3" class="k10"/><use href="#c" x="121.6" y="861.9" class="k12"/><use href="#c" x="173.7" y="869.6" class="k11"/><use href="#c" x="227.4" y="864.6" class="k12"/><use href="#c" x="238.1" y="840.9" class="k10"/><use href="#c" x="123.8" y="826.3" class="k1"/><use href="#c" x="164.1" y="848.3" class="k12"/><use href="#c" x="161.6" y="871.7" class="k3"/><use href="#c" x="215.8" y="855.1" class="k3"/><use href="#c" x="209.9" y="858.3" class="k10"/><use href="#c" x="363.3" y="887.8" class="k7"/><use href="#c" x="151.3" y="852.5" class="k11"/><use href="#c" x="281.6" y="860.9" class="k11"/><use href="#c" x="149.2" y="863.1" class="k11"/><use href="#c" x="283.7" y="842.8" class="k10"/><use href="#c" x="250.2" y="842.3" class="k11"/><use href="#c" x="303.3" y="872.0" class="k7"/><use href="#c" x="340.1" y="848.1" class="k7"/><use href="#c" x="345.7" y="882.6" class="k5"/><use href="#c" x="127.0" y="835.1" class="k12"/><use href="#c" x="276.4" y="835.4" class="k10"/><use href="#c" x="176.3" y="842.7" class="k10"/><use href="#c" x="119.0" y="868.2" class="k12"/><use href="#c" x="188.6" y="829.2" class="k12"/><use href="#c" x="374.1" y="860.8" class="k6"/><use href="#c" x="326.9" y="858.2" class="k8"/><use href="#c" x="188.0" y="862.8" class="k7"/><use href="#c" x="107.5" y="887.8" class="k6"/><use href="#c" x="138.4" y="846.5" class="k12"/><use href="#c" x="207.3" y="843.9" class="k8"/><use href="#c" x="405.3" y="877.2" class="k8"/><use href="#c" x="123.1" y="820.7" class="k11"/><use href="#c" x="128.1" y="855.2" class="k12"/><use href="#c" x="302.4" y="870.1" class="k4"/><use href="#c" x="232.1" y="853.2" class="k4"/><use href="#c" x="189.3" y="861.9" class="k12"/><use href="#c" x="142.4" y="870.9" class="k3"/><use href="#c" x="119.5" y="819.8" class="k11"/><use href="#c" x="321.4" y="844.3" class="k7"/><use href="#c" x="225.9" y="848.2" class="k4"/><use href="#c" x="331.1" y="866.4" class="k8"/><use href="#c" x="194.6" y="836.9" class="k12"/><use href="#c" x="354.2" y="880.7" class="k6"/><use href="#c" x="157.0" y="828.4" class="k12"/><use href="#c" x="109.1" y="879.7" class="k12"/><use href="#c" x="284.4" y="840.0" class="k11"/><use href="#c" x="144.0" y="822.8" class="k11"/><use href="#c" x="158.5" y="875.4" class="k11"/><use href="#c" x="152.1" y="858.0" class="k12"/><use href="#c" x="218.7" y="872.3" class="k11"/><use href="#c" x="155.4" y="877.4" class="k12"/><use href="#c" x="264.0" y="884.6" class="k10"/><use href="#c" x="374.8" y="878.9" class="k8"/><use href="#c" x="307.1" y="872.0" class="k7"/><use href="#c" x="186.7" y="848.3" class="k12"/><use href="#c" x="278.1" y="842.2" class="k4"/><use href="#c" x="354.4" y="860.7" class="k8"/><use href="#c" x="185.1" y="841.0" class="k12"/><use href="#c" x="158.2" y="865.6" class="k11"/><use href="#c" x="234.3" y="887.4" class="k12"/><use href="#c" x="223.0" y="838.8" class="k8"/><use href="#c" x="142.6" y="869.9" class="k1"/><use href="#c" x="312.1" y="868.7" class="k6"/><use href="#c" x="355.8" y="872.1" class="k5"/><use href="#c" x="107.5" y="822.3" class="k11"/><use href="#c" x="126.7" y="874.1" class="k12"/><use href="#c" x="138.2" y="880.7" class="k12"/><use href="#c" x="287.4" y="848.5" class="k10"/><use href="#c" x="121.4" y="857.4" class="k12"/><use href="#c" x="185.2" y="868.9" class="k12"/><use href="#c" x="342.3" y="871.6" class="k8"/><use href="#c" x="167.1" y="868.5" class="k12"/><use href="#c" x="192.3" y="887.8" class="k8"/><use href="#c" x="260.9" y="868.3" class="k5"/><use href="#c" x="107.5" y="820.9" class="k12"/><use href="#c" x="139.1" y="836.5" class="k12"/><use href="#c" x="141.0" y="885.2" class="k10"/><use href="#c" x="119.5" y="851.9" class="k12"/><use href="#c" x="153.1" y="861.4" class="k1"/><use href="#c" x="248.8" y="834.7" class="k3"/><use href="#c" x="310.4" y="885.5" class="k8"/><use href="#c" x="248.9" y="853.7" class="k11"/><use href="#c" x="244.3" y="887.0" class="k10"/><use href="#c" x="204.9" y="837.2" class="k8"/><use href="#c" x="300.1" y="887.8" class="k3"/><use href="#c" x="238.7" y="870.7" class="k11"/><use href="#c" x="127.8" y="828.5" class="k12"/><use href="#c" x="231.7" y="874.5" class="k11"/><use href="#c" x="147.8" y="878.3" class="k12"/><use href="#c" x="292.2" y="846.0" class="k10"/><use href="#c" x="358.9" y="883.7" class="k8"/><use href="#c" x="244.7" y="873.2" class="k11"/><use href="#c" x="262.6" y="839.8" class="k4"/><use href="#c" x="165.9" y="861.2" class="k5"/><use href="#c" x="164.8" y="837.4" class="k5"/><use href="#c" x="222.3" y="872.3" class="k4"/><use href="#c" x="289.8" y="847.5" class="k3"/><use href="#c" x="110.6" y="852.0" class="k1"/><use href="#c" x="147.0" y="867.6" class="k12"/><use href="#c" x="171.5" y="858.4" class="k1"/><use href="#c" x="282.8" y="851.2" class="k2"/><use href="#c" x="234.4" y="863.8" class="k4"/><use href="#c" x="249.3" y="842.9" class="k4"/><use href="#c" x="223.5" y="851.6" class="k11"/><use href="#c" x="274.4" y="855.5" class="k10"/><use href="#c" x="362.6" y="858.4" class="k8"/><use href="#c" x="335.8" y="871.9" class="k5"/><use href="#c" x="268.6" y="841.7" class="k12"/><use href="#c" x="301.8" y="856.1" class="k9"/><use href="#c" x="319.5" y="870.0" class="k5"/><use href="#c" x="358.1" y="871.4" class="k8"/><use href="#c" x="161.9" y="836.3" class="k11"/><use href="#c" x="208.8" y="838.7" class="k5"/><use href="#c" x="330.0" y="846.7" class="k5"/><use href="#c" x="113.6" y="840.5" class="k11"/><use href="#c" x="156.2" y="826.3" class="k12"/><use href="#c" x="108.3" y="828.9" class="k12"/><use href="#c" x="340.9" y="859.2" class="k5"/><use href="#c" x="305.9" y="880.0" class="k3"/><use href="#c" x="205.5" y="863.1" class="k2"/><use href="#c" x="107.5" y="853.3" class="k12"/><use href="#c" x="169.6" y="864.0" class="k11"/><use href="#c" x="275.4" y="850.2" class="k10"/><use href="#c" x="407.5" y="861.8" class="k8"/><use href="#c" x="180.2" y="843.9" class="k12"/><use href="#c" x="285.2" y="841.5" class="k11"/><use href="#c" x="114.6" y="874.2" class="k12"/><use href="#c" x="125.6" y="856.6" class="k10"/><use href="#c" x="112.8" y="852.7" class="k12"/><use href="#c" x="245.4" y="860.1" class="k12"/><use href="#c" x="263.2" y="875.3" class="k11"/><use href="#c" x="174.0" y="833.9" class="k12"/><use href="#c" x="328.7" y="874.7" class="k9"/><use href="#c" x="174.9" y="828.9" class="k12"/><use href="#c" x="258.4" y="868.2" class="k11"/><use href="#c" x="145.5" y="823.1" class="k12"/><use href="#c" x="400.6" y="869.8" class="k8"/><use href="#c" x="144.7" y="878.8" class="k1"/><use href="#c" x="245.2" y="876.9" class="k11"/><use href="#c" x="111.8" y="878.5" class="k12"/><use href="#c" x="249.1" y="843.4" class="k3"/><use href="#s" x="181.2" y="788.0" class="k2"/><use href="#s" x="263.7" y="828.2" class="k3"/><use href="#s" x="159.2" y="808.5" class="k4"/><use href="#s" x="336.0" y="830.9" class="k5"/><use href="#s" x="202.4" y="823.6" class="k6"/><use href="#s" x="413.7" y="808.6" class="k6"/><use href="#s" x="456.9" y="849.0" class="k6"/><use href="#s" x="484.0" y="850.1" class="k6"/><use href="#s" x="461.6" y="857.5" class="k6"/><use href="#s" x="397.7" y="887.8" class="k6"/><use href="#s" x="355.2" y="887.3" class="k6"/><use href="#s" x="380.7" y="846.9" class="k7"/><use href="#s" x="426.5" y="866.1" class="k7"/><use href="#s" x="470.1" y="866.1" class="k7"/><use href="#s" x="254.6" y="831.2" class="k8"/><use href="#s" x="284.9" y="837.3" class="k8"/><use href="#s" x="286.0" y="837.3" class="k8"/><use href="#s" x="327.5" y="840.5" class="k8"/><use href="#s" x="369.0" y="841.6" class="k8"/><use href="#s" x="393.5" y="852.2" class="k8"/><use href="#s" x="406.3" y="851.2" class="k8"/><use href="#s" x="353.0" y="861.8" class="k8"/><use href="#s" x="392.4" y="883.1" class="k8"/><use href="#s" x="323.2" y="887.3" class="k8"/><use href="#s" x="278.5" y="887.3" class="k8"/><use href="#s" x="284.9" y="849.4" class="k9"/><use href="#s" x="309.4" y="838.4" class="k9"/><use href="#s" x="284.9" y="851.2" class="k9"/><use href="#s" x="131.9" y="800.9" class="k10"/><use href="#s" x="112.2" y="837.3" class="k11"/><use href="#s" x="109.2" y="825.1" class="k12"/><use href="#s" x="107.5" y="846.3" class="k12"/><use href="#c" x="148.6" y="832.7" class="k1"/><use href="#c" x="191.0" y="821.4" class="k2"/><use href="#c" x="238.4" y="820.6" class="k2"/><use href="#c" x="233.4" y="835.7" class="k2"/><use href="#c" x="247.1" y="840.3" class="k2"/><use href="#c" x="125.9" y="840.3" class="k3"/><use href="#c" x="175.1" y="819.8" class="k4"/><use href="#c" x="173.6" y="832.0" class="k4"/><use href="#c" x="230.4" y="842.6" class="k4"/><use href="#c" x="449.9" y="824.5" class="k4"/><use href="#c" x="303.0" y="816.7" class="k4"/><use href="#c" x="366.2" y="849.0" class="k4"/><use href="#c" x="316.8" y="887.3" class="k4"/><use href="#c" x="134.0" y="748.5" class="k4"/><use href="#c" x="270.2" y="790.3" class="k5"/><use href="#c" x="244.8" y="832.7" class="k5"/><use href="#c" x="180.4" y="838.8" class="k5"/><use href="#c" x="266.8" y="850.9" class="k5"/><use href="#c" x="293.3" y="853.9" class="k5"/><use href="#c" x="332.8" y="749.4" class="k5"/><use href="#c" x="272.6" y="790.5" class="k5"/><use href="#c" x="408.0" y="798.4" class="k5"/><use href="#c" x="294.5" y="853.3" class="k5"/><use href="#c" x="365.8" y="866.1" class="k5"/><use href="#c" x="269.8" y="876.6" class="k6"/><use href="#c" x="415.8" y="717.7" class="k6"/><use href="#c" x="329.2" y="851.2" class="k6"/><use href="#c" x="343.4" y="858.6" class="k6"/><use href="#c" x="116.0" y="819.8" class="k7"/><use href="#c" x="122.1" y="826.7" class="k7"/><use href="#c" x="279.6" y="874.4" class="k7"/><use href="#c" x="397.1" y="826.0" class="k7"/><use href="#c" x="278.5" y="874.6" class="k7"/><use href="#c" x="250.1" y="851.6" class="k8"/><use href="#c" x="286.4" y="864.5" class="k8"/><use href="#c" x="379.6" y="871.4" class="k8"/><use href="#c" x="287.0" y="868.2" class="k8"/><use href="#c" x="312.6" y="868.2" class="k8"/><use href="#c" x="301.9" y="878.8" class="k8"/><use href="#c" x="325.4" y="875.6" class="k8"/><use href="#c" x="344.5" y="878.8" class="k8"/><use href="#c" x="372.2" y="885.2" class="k8"/><use href="#c" x="217.8" y="786.5" class="k9"/><use href="#c" x="171.3" y="839.5" class="k9"/><use href="#c" x="178.9" y="847.9" class="k9"/><use href="#c" x="293.3" y="887.2" class="k9"/><use href="#c" x="388.8" y="818.6" class="k9"/><use href="#c" x="293.8" y="887.3" class="k9"/><use href="#c" x="254.6" y="812.3" class="k10"/><use href="#c" x="288.7" y="819.1" class="k10"/><use href="#c" x="213.7" y="838.8" class="k10"/><use href="#c" x="206.9" y="846.3" class="k10"/><use href="#c" x="221.3" y="847.1" class="k10"/><use href="#c" x="175.9" y="852.4" class="k10"/><use href="#c" x="209.2" y="856.2" class="k10"/><use href="#c" x="230.4" y="869.1" class="k10"/><use href="#c" x="265.2" y="863.0" class="k10"/><use href="#c" x="254.6" y="876.6" class="k10"/><use href="#c" x="186.5" y="885.7" class="k10"/><use href="#c" x="289.2" y="819.2" class="k10"/><use href="#c" x="304.5" y="860.7" class="k10"/><use href="#c" x="178.9" y="855.4" class="k11"/><use href="#c" x="182.7" y="866.0" class="k11"/><use href="#c" x="136.5" y="867.6" class="k11"/><use href="#c" x="148.6" y="872.1" class="k11"/><use href="#c" x="177.4" y="875.1" class="k11"/><use href="#c" x="195.6" y="878.2" class="k11"/><use href="#c" x="215.2" y="878.2" class="k11"/><use href="#c" x="243.3" y="876.6" class="k11"/><use href="#c" x="122.8" y="879.7" class="k11"/><use href="#c" x="128.9" y="882.7" class="k11"/><use href="#c" x="160.7" y="882.7" class="k11"/><use href="#c" x="233.4" y="882.7" class="k11"/><use href="#c" x="154.7" y="887.2" class="k11"/><use href="#c" x="174.3" y="885.7" class="k11"/><use href="#c" x="251.6" y="885.7" class="k11"/><use href="#c" x="259.2" y="887.2" class="k11"/><use href="#c" x="117.5" y="796.4" class="k12"/><use href="#c" x="122.5" y="807.7" class="k12"/><use href="#c" x="167.5" y="788.0" class="k12"/><use href="#c" x="168.3" y="819.8" class="k12"/><use href="#c" x="135.0" y="820.6" class="k12"/><use href="#c" x="128.9" y="827.4" class="k12"/><use href="#c" x="138.0" y="831.2" class="k12"/><use href="#c" x="145.6" y="841.8" class="k12"/><use href="#c" x="159.2" y="841.8" class="k12"/><use href="#c" x="121.3" y="850.9" class="k12"/><use href="#c" x="133.4" y="852.4" class="k12"/><use href="#c" x="145.6" y="856.9" class="k12"/><use href="#c" x="107.5" y="858.5" class="k12"/><use href="#c" x="122.8" y="860.0" class="k12"/><use href="#c" x="162.2" y="860.0" class="k12"/><use href="#c" x="194.0" y="859.2" class="k12"/><use href="#c" x="113.8" y="876.6" class="k12"/><use href="#c" x="160.7" y="874.4" class="k12"/><use href="#c" x="109.2" y="887.2" class="k12"/><use href="#c" x="141.0" y="884.2" class="k12"/></g>
<g clip-path="url(#cpf)"><line x1="107.50" y1="887.80" x2="483.73" y2="497.76" stroke="#000" stroke-width="2.6"/></g>
<rect x="88.3" y="480.1" width="414.00" height="427.30" fill="none" stroke="#000" stroke-width="1.3"/>
<line x1="107.50" y1="907.4" x2="107.50" y2="913.8" stroke="#000" stroke-width="1.5"/>
<text class="t" x="107.50" y="941.4" text-anchor="middle">0</text>
<line x1="242.35" y1="907.4" x2="242.35" y2="913.8" stroke="#000" stroke-width="1.5"/>
<text class="t" x="242.35" y="941.4" text-anchor="middle">1</text>
<line x1="377.20" y1="907.4" x2="377.20" y2="913.8" stroke="#000" stroke-width="1.5"/>
<text class="t" x="377.20" y="941.4" text-anchor="middle">2</text>
<line x1="81.89999999999999" y1="887.80" x2="88.3" y2="887.80" stroke="#000" stroke-width="1.5"/>
<text class="t" x="76.10" y="898.90" text-anchor="end">0.0</text>
<line x1="81.89999999999999" y1="817.90" x2="88.3" y2="817.90" stroke="#000" stroke-width="1.5"/>
<text class="t" x="76.10" y="829.00" text-anchor="end">0.5</text>
<line x1="81.89999999999999" y1="748.00" x2="88.3" y2="748.00" stroke="#000" stroke-width="1.5"/>
<text class="t" x="76.10" y="759.10" text-anchor="end">1.0</text>
<line x1="81.89999999999999" y1="678.10" x2="88.3" y2="678.10" stroke="#000" stroke-width="1.5"/>
<text class="t" x="76.10" y="689.20" text-anchor="end">1.5</text>
<line x1="81.89999999999999" y1="608.20" x2="88.3" y2="608.20" stroke="#000" stroke-width="1.5"/>
<text class="t" x="76.10" y="619.30" text-anchor="end">2.0</text>
<line x1="81.89999999999999" y1="538.30" x2="88.3" y2="538.30" stroke="#000" stroke-width="1.5"/>
<text class="t" x="76.10" y="549.40" text-anchor="end">2.5</text>
<rect x="96.70" y="488.90" width="293.26" height="43.5" fill="#fff" stroke="#000" stroke-width="1.5"/>
<text class="b" x="105.00" y="519.10" xml:space="preserve" style="white-space:pre">(f)  T [deg C] [0-2)m</text>
<text class="t" x="295.30" y="975.4" text-anchor="middle">MISFITS</text>
<text class="t" transform="translate(23,697.05) rotate(-90)" text-anchor="middle">RESIDUALS</text>
<g clip-path="url(#cpg)" class="sc"><use href="#s" x="644.1" y="848.6" class="k11"/><use href="#s" x="801.5" y="853.0" class="k5"/><use href="#s" x="705.3" y="806.2" class="k10"/><use href="#s" x="692.9" y="876.2" class="k12"/><use href="#s" x="621.2" y="883.3" class="k11"/><use href="#s" x="591.2" y="887.8" class="k12"/><use href="#s" x="638.9" y="887.8" class="k2"/><use href="#s" x="799.4" y="838.1" class="k6"/><use href="#s" x="786.0" y="878.8" class="k12"/><use href="#s" x="709.9" y="883.0" class="k11"/><use href="#s" x="747.1" y="852.9" class="k8"/><use href="#s" x="625.5" y="879.5" class="k12"/><use href="#s" x="737.4" y="887.5" class="k2"/><use href="#s" x="758.1" y="794.4" class="k5"/><use href="#s" x="633.4" y="843.1" class="k10"/><use href="#s" x="696.8" y="880.2" class="k12"/><use href="#s" x="698.2" y="887.8" class="k1"/><use href="#s" x="643.0" y="873.2" class="k12"/><use href="#s" x="752.4" y="812.8" class="k8"/><use href="#s" x="721.7" y="858.0" class="k5"/><use href="#s" x="691.6" y="872.4" class="k4"/><use href="#s" x="646.4" y="883.3" class="k1"/><use href="#s" x="594.5" y="866.7" class="k12"/><use href="#s" x="724.6" y="874.3" class="k3"/><use href="#s" x="735.0" y="887.5" class="k1"/><use href="#s" x="767.4" y="839.4" class="k10"/><use href="#s" x="730.5" y="842.3" class="k7"/><use href="#s" x="751.3" y="860.3" class="k7"/><use href="#s" x="711.6" y="887.8" class="k2"/><use href="#s" x="600.8" y="887.8" class="k1"/><use href="#s" x="692.3" y="862.9" class="k12"/><use href="#s" x="752.6" y="825.5" class="k7"/><use href="#s" x="738.8" y="823.9" class="k6"/><use href="#s" x="704.2" y="800.7" class="k11"/><use href="#s" x="655.3" y="887.8" class="k4"/><use href="#s" x="710.8" y="862.1" class="k8"/><use href="#s" x="684.8" y="844.2" class="k12"/><use href="#s" x="761.4" y="876.6" class="k6"/><use href="#s" x="764.9" y="882.7" class="k3"/><use href="#s" x="805.1" y="823.0" class="k9"/><use href="#s" x="760.5" y="850.8" class="k7"/><use href="#s" x="645.8" y="827.7" class="k10"/><use href="#s" x="727.1" y="877.1" class="k7"/><use href="#s" x="666.5" y="866.3" class="k12"/><use href="#s" x="652.2" y="883.5" class="k2"/><use href="#s" x="728.7" y="830.1" class="k9"/><use href="#s" x="806.9" y="814.3" class="k8"/><use href="#s" x="771.3" y="803.9" class="k7"/><use href="#s" x="701.0" y="884.9" class="k2"/><use href="#s" x="748.0" y="886.3" class="k3"/><use href="#s" x="658.8" y="887.8" class="k12"/><use href="#s" x="698.2" y="801.5" class="k11"/><use href="#s" x="598.5" y="885.0" class="k3"/><use href="#s" x="698.5" y="844.8" class="k11"/><use href="#s" x="659.3" y="867.1" class="k10"/><use href="#s" x="761.0" y="887.8" class="k3"/><use href="#s" x="707.7" y="887.2" class="k2"/><use href="#s" x="779.1" y="880.5" class="k12"/><use href="#s" x="734.6" y="885.3" class="k11"/><use href="#s" x="769.6" y="821.8" class="k5"/><use href="#s" x="689.5" y="887.8" class="k11"/><use href="#s" x="655.4" y="875.8" class="k2"/><use href="#s" x="682.3" y="887.8" class="k11"/><use href="#s" x="781.4" y="817.3" class="k9"/><use href="#s" x="682.1" y="882.2" class="k2"/><use href="#s" x="658.7" y="829.3" class="k12"/><use href="#s" x="813.9" y="821.5" class="k7"/><use href="#s" x="748.2" y="870.4" class="k9"/><use href="#s" x="713.7" y="887.7" class="k1"/><use href="#s" x="753.0" y="887.5" class="k3"/><use href="#s" x="746.0" y="880.2" class="k12"/><use href="#s" x="669.1" y="877.8" class="k4"/><use href="#s" x="680.3" y="887.8" class="k12"/><use href="#s" x="598.8" y="887.8" class="k11"/><use href="#s" x="658.0" y="860.0" class="k11"/><use href="#s" x="590.3" y="878.0" class="k3"/><use href="#s" x="626.4" y="866.7" class="k11"/><use href="#s" x="631.1" y="865.8" class="k3"/><use href="#s" x="740.2" y="840.7" class="k10"/><use href="#s" x="658.0" y="822.1" class="k10"/><use href="#s" x="799.2" y="838.0" class="k9"/><use href="#s" x="664.0" y="822.8" class="k11"/><use href="#s" x="778.3" y="879.6" class="k12"/><use href="#s" x="679.0" y="874.7" class="k12"/><use href="#s" x="610.5" y="883.8" class="k12"/><use href="#s" x="764.0" y="808.8" class="k11"/><use href="#s" x="631.8" y="887.8" class="k12"/><use href="#s" x="615.1" y="859.7" class="k12"/><use href="#s" x="737.6" y="836.1" class="k9"/><use href="#s" x="721.9" y="876.7" class="k12"/><use href="#s" x="762.7" y="848.1" class="k6"/><use href="#s" x="637.2" y="885.3" class="k2"/><use href="#s" x="776.1" y="874.7" class="k12"/><use href="#s" x="607.8" y="854.8" class="k2"/><use href="#s" x="740.7" y="877.4" class="k12"/><use href="#s" x="738.3" y="853.6" class="k7"/><use href="#s" x="672.5" y="879.0" class="k3"/><use href="#s" x="660.9" y="887.8" class="k2"/><use href="#s" x="777.8" y="852.3" class="k9"/><use href="#s" x="670.8" y="839.2" class="k10"/><use href="#s" x="736.7" y="884.8" class="k3"/><use href="#s" x="683.4" y="857.1" class="k10"/><use href="#s" x="766.6" y="806.2" class="k9"/><use href="#s" x="650.8" y="868.8" class="k12"/><use href="#s" x="712.3" y="851.2" class="k9"/><use href="#s" x="753.4" y="816.4" class="k9"/><use href="#s" x="771.3" y="876.7" class="k3"/><use href="#s" x="757.0" y="887.8" class="k2"/><use href="#s" x="606.8" y="878.9" class="k11"/><use href="#s" x="645.4" y="885.8" class="k3"/><use href="#s" x="705.9" y="879.4" class="k3"/><use href="#s" x="782.5" y="825.1" class="k9"/><use href="#s" x="601.9" y="879.9" class="k4"/><use href="#s" x="664.8" y="874.3" class="k12"/><use href="#s" x="693.9" y="881.0" class="k12"/><use href="#s" x="622.2" y="887.8" class="k12"/><use href="#s" x="715.4" y="863.3" class="k8"/><use href="#s" x="763.0" y="887.8" class="k12"/><use href="#s" x="813.9" y="825.2" class="k9"/><use href="#s" x="597.7" y="874.5" class="k12"/><use href="#s" x="650.3" y="887.8" class="k2"/><use href="#s" x="587.3" y="876.3" class="k12"/><use href="#s" x="612.1" y="853.3" class="k12"/><use href="#s" x="740.9" y="883.4" class="k2"/><use href="#s" x="606.9" y="887.8" class="k3"/><use href="#s" x="606.4" y="877.4" class="k3"/><use href="#s" x="697.3" y="881.0" class="k12"/><use href="#s" x="601.7" y="887.8" class="k12"/><use href="#s" x="739.9" y="881.5" class="k12"/><use href="#s" x="744.0" y="887.8" class="k2"/><use href="#s" x="649.3" y="844.9" class="k2"/><use href="#s" x="709.4" y="887.8" class="k12"/><use href="#s" x="707.3" y="812.7" class="k11"/><use href="#s" x="749.1" y="887.8" class="k1"/><use href="#s" x="683.8" y="839.3" class="k12"/><use href="#s" x="632.8" y="883.2" class="k3"/><use href="#s" x="645.8" y="863.3" class="k12"/><use href="#s" x="756.2" y="802.1" class="k5"/><use href="#s" x="623.0" y="874.3" class="k12"/><use href="#s" x="791.8" y="866.7" class="k9"/><use href="#s" x="673.5" y="812.4" class="k12"/><use href="#s" x="604.2" y="882.4" class="k11"/><use href="#s" x="635.2" y="832.9" class="k10"/><use href="#s" x="737.6" y="879.5" class="k12"/><use href="#s" x="719.2" y="829.5" class="k8"/><use href="#s" x="730.1" y="820.6" class="k6"/><use href="#s" x="804.1" y="814.1" class="k5"/><use href="#c" x="718.5" y="870.4" class="k6"/><use href="#c" x="620.8" y="848.5" class="k11"/><use href="#c" x="720.6" y="840.4" class="k8"/><use href="#c" x="694.5" y="848.6" class="k10"/><use href="#c" x="641.0" y="852.7" class="k3"/><use href="#c" x="597.7" y="855.7" class="k12"/><use href="#c" x="793.6" y="826.2" class="k8"/><use href="#c" x="694.1" y="839.9" class="k10"/><use href="#c" x="768.2" y="841.6" class="k9"/><use href="#c" x="756.9" y="805.3" class="k8"/><use href="#c" x="674.6" y="816.6" class="k12"/><use href="#c" x="609.1" y="851.1" class="k12"/><use href="#c" x="677.8" y="866.4" class="k12"/><use href="#c" x="751.4" y="852.1" class="k5"/><use href="#c" x="790.1" y="852.4" class="k8"/><use href="#c" x="709.8" y="875.2" class="k9"/><use href="#c" x="661.1" y="817.3" class="k10"/><use href="#c" x="721.6" y="881.7" class="k11"/><use href="#c" x="614.7" y="867.4" class="k11"/><use href="#c" x="776.9" y="812.2" class="k6"/><use href="#c" x="695.2" y="809.6" class="k12"/><use href="#c" x="646.1" y="858.8" class="k10"/><use href="#c" x="656.9" y="877.0" class="k4"/><use href="#c" x="654.7" y="852.6" class="k12"/><use href="#c" x="740.0" y="807.2" class="k9"/><use href="#c" x="631.0" y="870.6" class="k3"/><use href="#c" x="644.5" y="856.6" class="k3"/><use href="#c" x="747.1" y="822.9" class="k9"/><use href="#c" x="694.3" y="875.3" class="k11"/><use href="#c" x="652.1" y="825.5" class="k10"/><use href="#c" x="690.2" y="856.9" class="k12"/><use href="#c" x="672.9" y="813.9" class="k12"/><use href="#c" x="684.9" y="867.7" class="k11"/><use href="#c" x="763.8" y="863.2" class="k7"/><use href="#c" x="675.2" y="816.3" class="k1"/><use href="#c" x="696.1" y="798.6" class="k11"/><use href="#c" x="770.6" y="815.2" class="k8"/><use href="#c" x="694.9" y="826.4" class="k10"/><use href="#c" x="708.6" y="819.2" class="k12"/><use href="#c" x="785.0" y="851.4" class="k8"/><use href="#c" x="639.0" y="864.1" class="k12"/><use href="#c" x="688.8" y="862.6" class="k11"/><use href="#c" x="759.5" y="877.7" class="k9"/><use href="#c" x="747.0" y="838.8" class="k5"/><use href="#c" x="741.7" y="863.8" class="k9"/><use href="#c" x="629.5" y="879.2" class="k10"/><use href="#c" x="725.3" y="846.2" class="k8"/><use href="#c" x="788.3" y="839.1" class="k7"/><use href="#c" x="675.0" y="852.3" class="k4"/><use href="#c" x="687.4" y="853.0" class="k11"/><use href="#c" x="761.5" y="866.6" class="k10"/><use href="#c" x="672.0" y="883.4" class="k12"/><use href="#c" x="730.5" y="858.7" class="k9"/><use href="#c" x="772.2" y="835.8" class="k7"/><use href="#c" x="634.9" y="839.0" class="k3"/><use href="#c" x="766.8" y="837.9" class="k9"/><use href="#c" x="806.8" y="826.2" class="k7"/><use href="#c" x="751.0" y="864.4" class="k8"/><use href="#c" x="820.8" y="831.6" class="k8"/><use href="#c" x="671.1" y="844.8" class="k12"/><use href="#c" x="734.6" y="837.2" class="k9"/><use href="#c" x="783.1" y="863.9" class="k11"/><use href="#c" x="743.0" y="872.0" class="k11"/><use href="#c" x="603.5" y="860.9" class="k10"/><use href="#c" x="742.2" y="876.2" class="k10"/><use href="#c" x="710.8" y="794.7" class="k4"/><use href="#c" x="695.3" y="817.4" class="k11"/><use href="#c" x="672.6" y="841.1" class="k12"/><use href="#c" x="605.3" y="868.5" class="k12"/><use href="#c" x="738.6" y="803.2" class="k6"/><use href="#c" x="785.5" y="863.8" class="k9"/><use href="#c" x="762.2" y="828.1" class="k8"/><use href="#c" x="625.9" y="860.5" class="k12"/><use href="#c" x="811.5" y="833.4" class="k11"/><use href="#c" x="624.6" y="843.2" class="k1"/><use href="#c" x="798.4" y="810.7" class="k8"/><use href="#c" x="657.1" y="844.0" class="k3"/><use href="#c" x="685.1" y="832.2" class="k11"/><use href="#c" x="747.3" y="846.3" class="k7"/><use href="#c" x="726.7" y="866.2" class="k8"/><use href="#c" x="618.9" y="848.8" class="k12"/><use href="#c" x="611.8" y="846.4" class="k3"/><use href="#c" x="765.4" y="861.2" class="k8"/><use href="#c" x="754.1" y="841.7" class="k7"/><use href="#c" x="699.0" y="857.8" class="k10"/><use href="#c" x="769.3" y="801.3" class="k10"/><use href="#c" x="712.2" y="870.5" class="k8"/><use href="#c" x="705.4" y="831.6" class="k1"/><use href="#c" x="666.0" y="826.6" class="k12"/><use href="#c" x="671.9" y="862.5" class="k3"/><use href="#c" x="792.3" y="849.8" class="k9"/><use href="#c" x="672.6" y="846.4" class="k10"/><use href="#c" x="625.0" y="850.5" class="k12"/><use href="#c" x="783.4" y="845.7" class="k9"/><use href="#c" x="736.9" y="844.3" class="k8"/><use href="#c" x="647.2" y="881.8" class="k11"/><use href="#c" x="816.4" y="839.2" class="k9"/><use href="#c" x="787.3" y="809.5" class="k7"/><use href="#c" x="690.5" y="834.5" class="k1"/><use href="#c" x="622.2" y="869.1" class="k12"/><use href="#c" x="683.2" y="868.1" class="k4"/><use href="#c" x="672.3" y="860.1" class="k11"/><use href="#c" x="684.5" y="849.1" class="k10"/><use href="#c" x="663.6" y="841.3" class="k12"/><use href="#c" x="700.2" y="822.7" class="k3"/><use href="#c" x="684.7" y="831.7" class="k10"/><use href="#c" x="687.2" y="811.7" class="k10"/><use href="#c" x="729.8" y="847.7" class="k7"/><use href="#c" x="783.6" y="850.1" class="k8"/><use href="#c" x="624.7" y="855.9" class="k12"/><use href="#c" x="796.2" y="818.2" class="k10"/><use href="#c" x="648.1" y="875.9" class="k10"/><use href="#c" x="682.6" y="837.2" class="k12"/><use href="#c" x="626.8" y="868.5" class="k10"/><use href="#c" x="753.8" y="834.1" class="k9"/><use href="#c" x="617.5" y="877.2" class="k4"/><use href="#c" x="687.7" y="831.6" class="k12"/><use href="#c" x="792.4" y="843.1" class="k5"/><use href="#c" x="727.7" y="839.0" class="k10"/><use href="#c" x="654.6" y="850.9" class="k12"/><use href="#c" x="730.8" y="875.4" class="k8"/><use href="#c" x="652.5" y="837.6" class="k10"/><use href="#c" x="748.7" y="819.0" class="k10"/><use href="#c" x="763.1" y="826.7" class="k5"/><use href="#c" x="698.8" y="848.6" class="k11"/><use href="#c" x="662.3" y="879.3" class="k10"/><use href="#c" x="768.5" y="825.2" class="k7"/><use href="#c" x="668.8" y="818.3" class="k11"/><use href="#c" x="636.7" y="879.7" class="k4"/><use href="#c" x="649.6" y="837.4" class="k3"/><use href="#c" x="642.1" y="867.7" class="k10"/><use href="#c" x="704.9" y="811.8" class="k12"/><use href="#c" x="767.7" y="844.4" class="k11"/><use href="#c" x="602.5" y="876.0" class="k3"/><use href="#c" x="771.1" y="824.1" class="k9"/><use href="#c" x="778.7" y="801.9" class="k6"/><use href="#c" x="792.8" y="834.3" class="k10"/><use href="#c" x="775.0" y="866.1" class="k6"/><use href="#c" x="748.3" y="858.7" class="k9"/><use href="#c" x="634.2" y="844.0" class="k12"/><use href="#c" x="788.0" y="829.5" class="k10"/><use href="#c" x="778.7" y="808.9" class="k6"/><use href="#c" x="596.5" y="887.8" class="k12"/><use href="#c" x="676.3" y="807.3" class="k11"/><use href="#c" x="682.1" y="806.6" class="k2"/><use href="#c" x="671.1" y="876.6" class="k4"/><use href="#c" x="726.3" y="841.5" class="k10"/><use href="#c" x="724.8" y="837.9" class="k7"/><use href="#c" x="638.1" y="887.8" class="k11"/><use href="#c" x="594.8" y="863.5" class="k12"/><use href="#c" x="637.0" y="833.4" class="k11"/><use href="#c" x="736.6" y="869.2" class="k8"/><use href="#c" x="727.7" y="814.2" class="k7"/><use href="#c" x="691.2" y="871.1" class="k12"/><use href="#c" x="763.5" y="875.6" class="k9"/><use href="#c" x="678.8" y="823.1" class="k11"/><use href="#c" x="777.5" y="820.3" class="k9"/><use href="#c" x="793.5" y="860.2" class="k9"/><use href="#c" x="664.1" y="857.7" class="k4"/><use href="#c" x="603.7" y="871.1" class="k10"/><use href="#c" x="677.1" y="852.2" class="k12"/><use href="#c" x="776.1" y="821.5" class="k9"/><use href="#c" x="708.9" y="881.7" class="k7"/><use href="#c" x="807.6" y="852.0" class="k8"/><use href="#c" x="774.0" y="803.6" class="k9"/><use href="#c" x="592.4" y="864.0" class="k11"/><use href="#c" x="650.4" y="885.0" class="k12"/><use href="#c" x="696.8" y="793.0" class="k12"/><use href="#c" x="786.2" y="860.3" class="k6"/><use href="#c" x="681.8" y="861.3" class="k10"/><use href="#c" x="788.7" y="821.9" class="k8"/><use href="#c" x="653.4" y="871.4" class="k11"/><use href="#c" x="641.3" y="830.5" class="k12"/><use href="#c" x="672.9" y="811.4" class="k12"/><use href="#c" x="659.1" y="826.5" class="k2"/><use href="#c" x="758.1" y="860.0" class="k9"/><use href="#c" x="686.5" y="858.1" class="k12"/><use href="#c" x="812.3" y="847.2" class="k9"/><use href="#c" x="758.4" y="815.1" class="k10"/><use href="#c" x="687.1" y="843.6" class="k2"/><use href="#c" x="773.1" y="842.3" class="k9"/><use href="#c" x="682.7" y="874.1" class="k12"/><use href="#c" x="650.1" y="834.8" class="k12"/><use href="#c" x="810.6" y="826.4" class="k10"/><use href="#c" x="696.5" y="831.2" class="k12"/><use href="#c" x="795.7" y="858.0" class="k11"/><use href="#c" x="769.6" y="847.8" class="k11"/><use href="#c" x="702.1" y="818.7" class="k10"/><use href="#c" x="670.8" y="839.6" class="k10"/><use href="#s" x="587.3" y="860.4" class="k2"/><use href="#s" x="602.5" y="844.9" class="k3"/><use href="#s" x="587.3" y="862.1" class="k3"/><use href="#s" x="826.9" y="845.8" class="k7"/><use href="#s" x="826.5" y="845.8" class="k7"/><use href="#s" x="759.0" y="805.3" class="k8"/><use href="#s" x="777.6" y="757.2" class="k9"/><use href="#s" x="731.5" y="765.8" class="k9"/><use href="#s" x="712.6" y="772.7" class="k9"/><use href="#s" x="707.4" y="791.6" class="k9"/><use href="#s" x="807.1" y="838.0" class="k9"/><use href="#s" x="764.2" y="846.6" class="k9"/><use href="#s" x="919.3" y="853.7" class="k9"/><use href="#s" x="777.4" y="758.2" class="k9"/><use href="#s" x="731.4" y="767.8" class="k9"/><use href="#s" x="712.6" y="774.4" class="k9"/><use href="#s" x="671.3" y="801.9" class="k10"/><use href="#s" x="807.1" y="854.4" class="k10"/><use href="#s" x="806.8" y="854.6" class="k10"/><use href="#s" x="717.7" y="879.3" class="k11"/><use href="#s" x="769.3" y="881.0" class="k11"/><use href="#s" x="700.5" y="887.8" class="k12"/><use href="#s" x="733.2" y="887.8" class="k12"/><use href="#c" x="666.1" y="879.3" class="k2"/><use href="#c" x="681.6" y="884.4" class="k2"/><use href="#c" x="592.2" y="884.4" class="k4"/><use href="#c" x="732.3" y="785.6" class="k5"/><use href="#c" x="725.5" y="793.3" class="k5"/><use href="#c" x="759.0" y="868.1" class="k5"/><use href="#c" x="747.0" y="870.7" class="k6"/><use href="#c" x="780.5" y="879.3" class="k6"/><use href="#c" x="759.3" y="776.5" class="k7"/><use href="#c" x="765.0" y="789.0" class="k7"/><use href="#c" x="810.6" y="807.1" class="k7"/><use href="#c" x="704.0" y="804.5" class="k7"/><use href="#c" x="735.8" y="809.6" class="k7"/><use href="#c" x="753.8" y="848.3" class="k7"/><use href="#c" x="655.8" y="881.9" class="k7"/><use href="#c" x="759.4" y="776.6" class="k7"/><use href="#c" x="765.1" y="788.8" class="k7"/><use href="#c" x="746.1" y="795.9" class="k8"/><use href="#c" x="788.2" y="805.3" class="k8"/><use href="#c" x="820.9" y="798.5" class="k8"/><use href="#c" x="778.8" y="812.2" class="k8"/><use href="#c" x="724.6" y="807.9" class="k8"/><use href="#c" x="778.8" y="827.7" class="k8"/><use href="#c" x="798.5" y="826.0" class="k8"/><use href="#c" x="734.9" y="860.4" class="k8"/><use href="#c" x="751.3" y="859.5" class="k8"/><use href="#c" x="775.3" y="873.3" class="k8"/><use href="#c" x="963.6" y="820.8" class="k8"/><use href="#c" x="781.0" y="789.0" class="k9"/><use href="#c" x="782.2" y="800.2" class="k9"/><use href="#c" x="798.5" y="811.4" class="k9"/><use href="#c" x="789.1" y="822.5" class="k9"/><use href="#c" x="815.7" y="820.0" class="k9"/><use href="#c" x="760.7" y="836.3" class="k9"/><use href="#c" x="779.6" y="843.2" class="k9"/><use href="#c" x="790.8" y="844.9" class="k9"/><use href="#c" x="772.7" y="854.4" class="k9"/><use href="#c" x="771.0" y="865.5" class="k9"/><use href="#c" x="737.5" y="879.3" class="k9"/><use href="#c" x="700.5" y="880.1" class="k9"/><use href="#c" x="875.5" y="865.5" class="k9"/><use href="#c" x="780.5" y="788.8" class="k9"/><use href="#c" x="746.1" y="802.8" class="k10"/><use href="#c" x="680.8" y="806.2" class="k10"/><use href="#c" x="693.6" y="805.3" class="k10"/><use href="#c" x="687.6" y="818.2" class="k10"/><use href="#c" x="704.0" y="817.4" class="k10"/><use href="#c" x="671.3" y="822.5" class="k10"/><use href="#c" x="659.3" y="826.0" class="k10"/><use href="#c" x="758.6" y="818.2" class="k10"/><use href="#c" x="667.9" y="833.7" class="k10"/><use href="#c" x="655.8" y="834.6" class="k10"/><use href="#c" x="612.0" y="835.4" class="k10"/><use href="#c" x="841.5" y="841.5" class="k10"/><use href="#c" x="722.9" y="860.4" class="k10"/><use href="#c" x="728.0" y="881.9" class="k10"/><use href="#c" x="843.1" y="841.4" class="k10"/><use href="#c" x="773.6" y="803.6" class="k11"/><use href="#c" x="722.0" y="823.4" class="k11"/><use href="#c" x="708.3" y="831.1" class="k11"/><use href="#c" x="688.5" y="833.7" class="k11"/><use href="#c" x="737.5" y="831.1" class="k11"/><use href="#c" x="749.5" y="832.0" class="k11"/><use href="#c" x="719.4" y="838.0" class="k11"/><use href="#c" x="747.0" y="838.9" class="k11"/><use href="#c" x="728.9" y="844.0" class="k11"/><use href="#c" x="702.2" y="843.2" class="k11"/><use href="#c" x="710.0" y="844.0" class="k11"/><use href="#c" x="643.8" y="843.2" class="k11"/><use href="#c" x="648.9" y="846.6" class="k11"/><use href="#c" x="633.5" y="852.6" class="k11"/><use href="#c" x="705.7" y="858.6" class="k11"/><use href="#c" x="695.4" y="867.2" class="k11"/><use href="#c" x="698.8" y="826.8" class="k12"/><use href="#c" x="673.0" y="833.7" class="k12"/><use href="#c" x="668.7" y="848.3" class="k12"/><use href="#c" x="613.7" y="851.8" class="k12"/><use href="#c" x="655.8" y="858.6" class="k12"/><use href="#c" x="676.5" y="858.6" class="k12"/><use href="#c" x="685.1" y="858.6" class="k12"/><use href="#c" x="624.9" y="861.2" class="k12"/><use href="#c" x="599.1" y="868.1" class="k12"/><use href="#c" x="645.5" y="868.1" class="k12"/><use href="#c" x="709.1" y="870.7" class="k12"/><use href="#c" x="683.3" y="874.1" class="k12"/><use href="#c" x="614.5" y="875.8" class="k12"/><use href="#c" x="631.7" y="877.6" class="k12"/></g>
<g clip-path="url(#cpg)"><line x1="587.30" y1="887.80" x2="963.81" y2="497.81" stroke="#000" stroke-width="2.6"/></g>
<rect x="568.3" y="480.1" width="414.10" height="427.30" fill="none" stroke="#000" stroke-width="1.3"/>
<line x1="587.30" y1="907.4" x2="587.30" y2="913.8" stroke="#000" stroke-width="1.5"/>
<text class="t" x="587.30" y="941.4" text-anchor="middle">0</text>
<line x1="707.40" y1="907.4" x2="707.40" y2="913.8" stroke="#000" stroke-width="1.5"/>
<text class="t" x="707.40" y="941.4" text-anchor="middle">1</text>
<line x1="827.50" y1="907.4" x2="827.50" y2="913.8" stroke="#000" stroke-width="1.5"/>
<text class="t" x="827.50" y="941.4" text-anchor="middle">2</text>
<line x1="947.60" y1="907.4" x2="947.60" y2="913.8" stroke="#000" stroke-width="1.5"/>
<text class="t" x="947.60" y="941.4" text-anchor="middle">3</text>
<line x1="561.9" y1="887.80" x2="568.3" y2="887.80" stroke="#000" stroke-width="1.5"/>
<text class="t" x="556.10" y="898.90" text-anchor="end">0.0</text>
<line x1="561.9" y1="825.60" x2="568.3" y2="825.60" stroke="#000" stroke-width="1.5"/>
<text class="t" x="556.10" y="836.70" text-anchor="end">0.5</text>
<line x1="561.9" y1="763.40" x2="568.3" y2="763.40" stroke="#000" stroke-width="1.5"/>
<text class="t" x="556.10" y="774.50" text-anchor="end">1.0</text>
<line x1="561.9" y1="701.20" x2="568.3" y2="701.20" stroke="#000" stroke-width="1.5"/>
<text class="t" x="556.10" y="712.30" text-anchor="end">1.5</text>
<line x1="561.9" y1="639.00" x2="568.3" y2="639.00" stroke="#000" stroke-width="1.5"/>
<text class="t" x="556.10" y="650.10" text-anchor="end">2.0</text>
<line x1="561.9" y1="576.80" x2="568.3" y2="576.80" stroke="#000" stroke-width="1.5"/>
<text class="t" x="556.10" y="587.90" text-anchor="end">2.5</text>
<line x1="561.9" y1="514.60" x2="568.3" y2="514.60" stroke="#000" stroke-width="1.5"/>
<text class="t" x="556.10" y="525.70" text-anchor="end">3.0</text>
<rect x="576.70" y="488.90" width="318.48" height="43.5" fill="#fff" stroke="#000" stroke-width="1.5"/>
<text class="b" x="585.00" y="519.10" xml:space="preserve" style="white-space:pre">(g)  T [deg C] [2-60)m</text>
<text class="t" x="775.35" y="975.4" text-anchor="middle">MISFITS</text>
<g clip-path="url(#cph)" class="sc"><use href="#s" x="1146.7" y="837.5" class="k10"/><use href="#s" x="1148.9" y="833.0" class="k7"/><use href="#s" x="1087.2" y="871.6" class="k3"/><use href="#s" x="1265.5" y="885.0" class="k3"/><use href="#s" x="1174.4" y="865.6" class="k12"/><use href="#s" x="1254.5" y="887.8" class="k10"/><use href="#s" x="1112.0" y="885.9" class="k12"/><use href="#s" x="1107.5" y="887.8" class="k1"/><use href="#s" x="1178.8" y="885.7" class="k5"/><use href="#s" x="1222.1" y="861.4" class="k1"/><use href="#s" x="1202.8" y="881.8" class="k10"/><use href="#s" x="1235.4" y="815.4" class="k7"/><use href="#s" x="1187.6" y="818.6" class="k12"/><use href="#s" x="1149.8" y="805.9" class="k10"/><use href="#s" x="1221.5" y="886.9" class="k3"/><use href="#s" x="1211.0" y="793.3" class="k7"/><use href="#s" x="1116.8" y="878.6" class="k1"/><use href="#s" x="1250.3" y="863.4" class="k11"/><use href="#s" x="1233.9" y="773.9" class="k12"/><use href="#s" x="1142.7" y="874.8" class="k2"/><use href="#s" x="1290.7" y="887.8" class="k3"/><use href="#s" x="1109.6" y="882.5" class="k6"/><use href="#s" x="1084.5" y="871.9" class="k5"/><use href="#s" x="1235.9" y="881.4" class="k12"/><use href="#s" x="1215.8" y="820.3" class="k10"/><use href="#s" x="1224.4" y="886.2" class="k10"/><use href="#s" x="1234.8" y="876.7" class="k3"/><use href="#s" x="1121.7" y="876.9" class="k2"/><use href="#s" x="1183.1" y="780.0" class="k3"/><use href="#s" x="1179.8" y="861.0" class="k11"/><use href="#s" x="1130.9" y="887.8" class="k12"/><use href="#s" x="1124.4" y="870.5" class="k12"/><use href="#s" x="1085.0" y="827.7" class="k9"/><use href="#s" x="1226.5" y="805.8" class="k2"/><use href="#s" x="1252.3" y="837.5" class="k12"/><use href="#s" x="1139.5" y="873.8" class="k12"/><use href="#s" x="1078.8" y="887.2" class="k2"/><use href="#s" x="1273.2" y="887.8" class="k1"/><use href="#s" x="1138.1" y="887.8" class="k1"/><use href="#s" x="1113.0" y="878.2" class="k10"/><use href="#s" x="1259.3" y="819.2" class="k10"/><use href="#s" x="1248.3" y="798.9" class="k5"/><use href="#s" x="1232.5" y="865.3" class="k12"/><use href="#s" x="1241.8" y="859.0" class="k3"/><use href="#s" x="1275.8" y="822.8" class="k5"/><use href="#s" x="1166.3" y="843.9" class="k7"/><use href="#s" x="1259.0" y="887.8" class="k1"/><use href="#s" x="1151.9" y="814.4" class="k10"/><use href="#s" x="1093.5" y="871.7" class="k11"/><use href="#s" x="1276.0" y="845.8" class="k1"/><use href="#s" x="1226.2" y="871.8" class="k11"/><use href="#s" x="1223.8" y="824.3" class="k12"/><use href="#s" x="1279.5" y="878.6" class="k2"/><use href="#s" x="1248.4" y="829.1" class="k7"/><use href="#s" x="1088.9" y="887.8" class="k3"/><use href="#s" x="1208.2" y="866.8" class="k10"/><use href="#s" x="1109.2" y="847.5" class="k12"/><use href="#s" x="1205.9" y="877.7" class="k7"/><use href="#s" x="1126.4" y="872.6" class="k5"/><use href="#s" x="1240.3" y="860.7" class="k2"/><use href="#s" x="1218.6" y="783.4" class="k12"/><use href="#s" x="1173.9" y="833.6" class="k5"/><use href="#s" x="1196.9" y="865.5" class="k5"/><use href="#s" x="1184.1" y="887.8" class="k2"/><use href="#s" x="1136.9" y="877.4" class="k2"/><use href="#s" x="1102.0" y="884.5" class="k5"/><use href="#s" x="1253.6" y="821.5" class="k10"/><use href="#s" x="1284.8" y="887.8" class="k12"/><use href="#s" x="1129.1" y="873.2" class="k10"/><use href="#s" x="1268.7" y="815.3" class="k3"/><use href="#s" x="1141.6" y="806.7" class="k12"/><use href="#s" x="1227.4" y="790.5" class="k3"/><use href="#s" x="1222.5" y="884.7" class="k2"/><use href="#s" x="1157.0" y="887.1" class="k3"/><use href="#s" x="1113.6" y="887.8" class="k12"/><use href="#s" x="1222.5" y="817.6" class="k12"/><use href="#s" x="1245.7" y="887.8" class="k10"/><use href="#s" x="1215.1" y="873.3" class="k10"/><use href="#s" x="1203.9" y="886.6" class="k5"/><use href="#s" x="1135.0" y="887.8" class="k12"/><use href="#s" x="1070.2" y="860.8" class="k5"/><use href="#s" x="1102.4" y="817.8" class="k9"/><use href="#s" x="1118.0" y="839.8" class="k7"/><use href="#s" x="1145.7" y="880.3" class="k5"/><use href="#s" x="1247.5" y="886.1" class="k3"/><use href="#s" x="1135.3" y="876.2" class="k1"/><use href="#s" x="1186.9" y="869.1" class="k10"/><use href="#s" x="1121.7" y="819.3" class="k11"/><use href="#s" x="1189.2" y="876.5" class="k3"/><use href="#s" x="1148.3" y="832.1" class="k12"/><use href="#s" x="1113.4" y="887.8" class="k5"/><use href="#s" x="1187.0" y="859.2" class="k5"/><use href="#s" x="1214.7" y="832.5" class="k1"/><use href="#s" x="1270.0" y="806.1" class="k7"/><use href="#s" x="1169.1" y="887.8" class="k12"/><use href="#s" x="1126.7" y="869.8" class="k10"/><use href="#s" x="1272.9" y="857.0" class="k7"/><use href="#s" x="1095.4" y="837.5" class="k8"/><use href="#s" x="1250.1" y="803.6" class="k12"/><use href="#s" x="1191.4" y="786.8" class="k12"/><use href="#s" x="1143.4" y="807.7" class="k12"/><use href="#s" x="1099.7" y="887.8" class="k10"/><use href="#s" x="1077.0" y="831.9" class="k12"/><use href="#s" x="1126.6" y="801.8" class="k10"/><use href="#s" x="1223.5" y="845.7" class="k5"/><use href="#s" x="1115.5" y="876.9" class="k4"/><use href="#s" x="1226.6" y="879.0" class="k1"/><use href="#s" x="1067.3" y="868.7" class="k10"/><use href="#s" x="1250.7" y="842.7" class="k12"/><use href="#s" x="1197.8" y="881.2" class="k3"/><use href="#s" x="1110.3" y="887.8" class="k10"/><use href="#s" x="1243.5" y="868.4" class="k10"/><use href="#s" x="1147.2" y="857.2" class="k7"/><use href="#s" x="1284.5" y="875.0" class="k5"/><use href="#s" x="1227.2" y="783.8" class="k4"/><use href="#s" x="1089.4" y="845.3" class="k12"/><use href="#s" x="1262.8" y="833.6" class="k8"/><use href="#s" x="1212.8" y="887.8" class="k12"/><use href="#s" x="1150.3" y="886.8" class="k12"/><use href="#s" x="1156.0" y="879.2" class="k1"/><use href="#s" x="1068.2" y="887.8" class="k12"/><use href="#s" x="1227.3" y="877.8" class="k12"/><use href="#s" x="1107.7" y="874.4" class="k12"/><use href="#s" x="1073.9" y="872.1" class="k10"/><use href="#s" x="1223.5" y="777.1" class="k12"/><use href="#s" x="1180.0" y="803.3" class="k11"/><use href="#s" x="1273.0" y="881.1" class="k2"/><use href="#s" x="1084.8" y="882.9" class="k4"/><use href="#s" x="1206.8" y="837.7" class="k12"/><use href="#s" x="1271.4" y="885.8" class="k12"/><use href="#s" x="1142.3" y="887.8" class="k12"/><use href="#s" x="1159.8" y="874.3" class="k1"/><use href="#s" x="1207.7" y="866.3" class="k11"/><use href="#s" x="1141.7" y="855.3" class="k10"/><use href="#s" x="1113.5" y="853.5" class="k9"/><use href="#s" x="1129.6" y="869.7" class="k9"/><use href="#s" x="1269.3" y="846.0" class="k1"/><use href="#s" x="1188.0" y="803.5" class="k11"/><use href="#s" x="1249.3" y="887.8" class="k3"/><use href="#s" x="1273.0" y="878.8" class="k2"/><use href="#s" x="1206.2" y="853.8" class="k3"/><use href="#s" x="1240.0" y="849.4" class="k12"/><use href="#s" x="1285.7" y="843.1" class="k11"/><use href="#s" x="1211.0" y="854.7" class="k5"/><use href="#s" x="1169.2" y="831.2" class="k2"/><use href="#s" x="1130.1" y="832.0" class="k12"/><use href="#s" x="1228.6" y="805.1" class="k2"/><use href="#s" x="1166.9" y="887.8" class="k12"/><use href="#s" x="1134.5" y="878.6" class="k2"/><use href="#c" x="1177.5" y="815.2" class="k11"/><use href="#c" x="1146.0" y="843.8" class="k10"/><use href="#c" x="1271.3" y="834.4" class="k7"/><use href="#c" x="1208.2" y="768.3" class="k12"/><use href="#c" x="1204.4" y="887.8" class="k1"/><use href="#c" x="1242.6" y="800.9" class="k8"/><use href="#c" x="1154.6" y="816.3" class="k3"/><use href="#c" x="1145.5" y="838.1" class="k5"/><use href="#c" x="1143.2" y="808.6" class="k11"/><use href="#c" x="1287.8" y="851.8" class="k6"/><use href="#c" x="1259.4" y="856.3" class="k12"/><use href="#c" x="1210.8" y="786.1" class="k6"/><use href="#c" x="1113.8" y="867.1" class="k12"/><use href="#c" x="1266.7" y="887.8" class="k4"/><use href="#c" x="1115.7" y="832.6" class="k12"/><use href="#c" x="1067.3" y="885.6" class="k1"/><use href="#c" x="1134.2" y="877.3" class="k12"/><use href="#c" x="1128.5" y="829.2" class="k12"/><use href="#c" x="1083.5" y="861.7" class="k10"/><use href="#c" x="1148.0" y="874.7" class="k6"/><use href="#c" x="1220.0" y="787.5" class="k11"/><use href="#c" x="1224.8" y="842.2" class="k10"/><use href="#c" x="1136.4" y="836.4" class="k11"/><use href="#c" x="1188.9" y="877.3" class="k2"/><use href="#c" x="1249.5" y="808.3" class="k12"/><use href="#c" x="1180.8" y="844.6" class="k12"/><use href="#c" x="1264.7" y="841.1" class="k12"/><use href="#c" x="1166.2" y="811.6" class="k10"/><use href="#c" x="1131.9" y="818.9" class="k7"/><use href="#c" x="1088.3" y="860.5" class="k9"/><use href="#c" x="1172.3" y="780.0" class="k12"/><use href="#c" x="1221.4" y="856.1" class="k11"/><use href="#c" x="1181.3" y="870.7" class="k1"/><use href="#c" x="1119.8" y="855.0" class="k7"/><use href="#c" x="1195.8" y="830.5" class="k11"/><use href="#c" x="1160.7" y="869.8" class="k5"/><use href="#c" x="1101.7" y="831.0" class="k2"/><use href="#c" x="1177.7" y="811.9" class="k1"/><use href="#c" x="1226.8" y="778.0" class="k12"/><use href="#c" x="1069.0" y="883.3" class="k5"/><use href="#c" x="1169.8" y="821.9" class="k5"/><use href="#c" x="1170.6" y="786.5" class="k12"/><use href="#c" x="1241.5" y="773.2" class="k3"/><use href="#c" x="1114.9" y="873.7" class="k2"/><use href="#c" x="1067.3" y="870.1" class="k10"/><use href="#c" x="1271.0" y="841.2" class="k2"/><use href="#c" x="1227.9" y="859.4" class="k7"/><use href="#c" x="1108.4" y="868.1" class="k10"/><use href="#c" x="1160.5" y="791.6" class="k8"/><use href="#c" x="1205.3" y="803.8" class="k3"/><use href="#c" x="1067.3" y="869.3" class="k12"/><use href="#c" x="1252.3" y="851.9" class="k3"/><use href="#c" x="1076.1" y="838.9" class="k10"/><use href="#c" x="1228.0" y="767.3" class="k12"/><use href="#c" x="1191.9" y="828.1" class="k11"/><use href="#c" x="1198.3" y="826.9" class="k5"/><use href="#c" x="1242.0" y="819.2" class="k12"/><use href="#c" x="1119.3" y="810.8" class="k4"/><use href="#c" x="1112.1" y="867.2" class="k11"/><use href="#c" x="1186.1" y="834.4" class="k2"/><use href="#c" x="1283.2" y="817.0" class="k10"/><use href="#c" x="1082.9" y="841.4" class="k7"/><use href="#c" x="1236.2" y="800.2" class="k11"/><use href="#c" x="1208.0" y="814.1" class="k12"/><use href="#c" x="1080.4" y="831.5" class="k7"/><use href="#c" x="1105.7" y="839.7" class="k12"/><use href="#c" x="1178.1" y="784.8" class="k4"/><use href="#c" x="1270.6" y="850.7" class="k12"/><use href="#c" x="1070.7" y="877.0" class="k3"/><use href="#c" x="1181.9" y="878.6" class="k10"/><use href="#c" x="1150.7" y="873.7" class="k7"/><use href="#c" x="1248.8" y="788.3" class="k10"/><use href="#c" x="1183.7" y="845.9" class="k12"/><use href="#c" x="1238.7" y="887.6" class="k1"/><use href="#c" x="1217.8" y="874.1" class="k7"/><use href="#c" x="1128.8" y="832.9" class="k2"/><use href="#c" x="1206.0" y="799.3" class="k4"/><use href="#c" x="1160.6" y="868.0" class="k11"/><use href="#c" x="1155.5" y="811.7" class="k12"/><use href="#c" x="1244.1" y="786.7" class="k12"/><use href="#c" x="1224.1" y="885.5" class="k1"/><use href="#c" x="1131.4" y="821.7" class="k9"/><use href="#c" x="1224.2" y="803.9" class="k10"/><use href="#c" x="1275.3" y="846.3" class="k4"/><use href="#c" x="1177.6" y="822.5" class="k12"/><use href="#c" x="1244.2" y="875.5" class="k12"/><use href="#c" x="1235.1" y="838.2" class="k7"/><use href="#c" x="1279.9" y="834.7" class="k10"/><use href="#c" x="1180.5" y="794.0" class="k10"/><use href="#c" x="1067.3" y="855.7" class="k9"/><use href="#c" x="1148.7" y="870.3" class="k11"/><use href="#c" x="1223.0" y="778.0" class="k6"/><use href="#c" x="1251.2" y="787.4" class="k6"/><use href="#c" x="1142.5" y="884.5" class="k10"/><use href="#c" x="1203.2" y="848.0" class="k2"/><use href="#c" x="1168.8" y="825.0" class="k12"/><use href="#c" x="1227.4" y="797.6" class="k11"/><use href="#c" x="1094.7" y="828.1" class="k10"/><use href="#c" x="1113.0" y="803.4" class="k12"/><use href="#c" x="1151.6" y="843.2" class="k10"/><use href="#c" x="1091.1" y="887.8" class="k5"/><use href="#c" x="1147.2" y="850.4" class="k12"/><use href="#c" x="1131.6" y="816.0" class="k7"/><use href="#c" x="1247.4" y="793.9" class="k12"/><use href="#c" x="1138.1" y="877.3" class="k10"/><use href="#c" x="1269.5" y="806.8" class="k12"/><use href="#c" x="1160.4" y="822.9" class="k7"/><use href="#c" x="1214.5" y="811.0" class="k6"/><use href="#c" x="1236.2" y="798.1" class="k10"/><use href="#c" x="1210.4" y="843.1" class="k12"/><use href="#c" x="1160.8" y="788.8" class="k12"/><use href="#c" x="1252.4" y="826.2" class="k10"/><use href="#c" x="1137.4" y="804.8" class="k5"/><use href="#c" x="1172.1" y="839.6" class="k12"/><use href="#c" x="1276.9" y="864.4" class="k9"/><use href="#c" x="1222.7" y="869.2" class="k12"/><use href="#c" x="1189.0" y="844.5" class="k12"/><use href="#c" x="1269.0" y="882.7" class="k2"/><use href="#c" x="1235.3" y="788.7" class="k12"/><use href="#c" x="1222.4" y="882.3" class="k5"/><use href="#c" x="1241.8" y="852.0" class="k11"/><use href="#c" x="1174.1" y="857.1" class="k12"/><use href="#c" x="1159.9" y="847.1" class="k6"/><use href="#c" x="1246.3" y="831.1" class="k6"/><use href="#c" x="1084.0" y="829.7" class="k7"/><use href="#c" x="1244.9" y="817.6" class="k11"/><use href="#c" x="1275.2" y="812.7" class="k4"/><use href="#c" x="1218.4" y="864.8" class="k10"/><use href="#c" x="1124.9" y="834.2" class="k12"/><use href="#c" x="1194.7" y="872.5" class="k3"/><use href="#c" x="1187.5" y="852.1" class="k9"/><use href="#c" x="1111.0" y="809.4" class="k3"/><use href="#c" x="1186.8" y="840.4" class="k12"/><use href="#c" x="1227.2" y="857.1" class="k12"/><use href="#c" x="1221.0" y="808.1" class="k7"/><use href="#c" x="1240.2" y="804.2" class="k11"/><use href="#c" x="1233.0" y="821.6" class="k8"/><use href="#c" x="1173.6" y="816.5" class="k12"/><use href="#c" x="1104.0" y="872.1" class="k12"/><use href="#c" x="1238.9" y="824.4" class="k12"/><use href="#c" x="1083.1" y="838.3" class="k8"/><use href="#c" x="1079.9" y="858.3" class="k7"/><use href="#c" x="1181.2" y="834.2" class="k11"/><use href="#c" x="1208.6" y="778.9" class="k12"/><use href="#c" x="1247.1" y="787.3" class="k7"/><use href="#c" x="1119.3" y="876.8" class="k11"/><use href="#c" x="1240.1" y="772.1" class="k10"/><use href="#c" x="1081.3" y="868.0" class="k2"/><use href="#c" x="1194.6" y="829.5" class="k3"/><use href="#c" x="1081.9" y="863.3" class="k9"/><use href="#c" x="1152.4" y="830.2" class="k12"/><use href="#c" x="1110.7" y="873.6" class="k5"/><use href="#c" x="1126.3" y="876.0" class="k10"/><use href="#c" x="1154.3" y="855.9" class="k12"/><use href="#c" x="1075.5" y="849.0" class="k7"/><use href="#c" x="1213.3" y="798.9" class="k10"/><use href="#c" x="1271.0" y="824.5" class="k1"/><use href="#c" x="1184.0" y="841.0" class="k11"/><use href="#c" x="1196.7" y="874.5" class="k12"/><use href="#c" x="1226.1" y="873.9" class="k7"/><use href="#c" x="1255.8" y="837.9" class="k8"/><use href="#c" x="1285.9" y="825.8" class="k12"/><use href="#c" x="1283.3" y="857.3" class="k11"/><use href="#c" x="1244.7" y="835.8" class="k1"/><use href="#c" x="1231.2" y="823.4" class="k11"/><use href="#c" x="1092.9" y="880.5" class="k2"/><use href="#c" x="1159.0" y="814.5" class="k12"/><use href="#c" x="1178.5" y="809.1" class="k12"/><use href="#c" x="1175.7" y="850.2" class="k12"/><use href="#c" x="1267.5" y="808.8" class="k6"/><use href="#c" x="1159.4" y="813.6" class="k12"/><use href="#c" x="1215.9" y="841.6" class="k11"/><use href="#c" x="1143.5" y="862.3" class="k12"/><use href="#c" x="1164.5" y="867.8" class="k12"/><use href="#c" x="1188.0" y="871.3" class="k1"/><use href="#c" x="1160.3" y="803.7" class="k11"/><use href="#c" x="1136.3" y="854.7" class="k9"/><use href="#c" x="1140.1" y="805.2" class="k12"/><use href="#c" x="1277.1" y="821.5" class="k6"/><use href="#c" x="1268.4" y="871.4" class="k1"/><use href="#c" x="1234.4" y="856.6" class="k6"/><use href="#c" x="1083.0" y="826.6" class="k12"/><use href="#c" x="1071.3" y="869.1" class="k1"/><use href="#c" x="1121.6" y="827.6" class="k10"/><use href="#c" x="1241.7" y="836.0" class="k8"/><use href="#c" x="1089.7" y="848.8" class="k2"/><use href="#c" x="1200.3" y="766.8" class="k11"/><use href="#c" x="1163.0" y="883.0" class="k5"/><use href="#c" x="1093.1" y="858.7" class="k10"/><use href="#c" x="1134.1" y="840.2" class="k11"/><use href="#c" x="1158.4" y="875.7" class="k11"/><use href="#c" x="1167.1" y="799.7" class="k10"/><use href="#c" x="1127.5" y="887.8" class="k1"/><use href="#c" x="1225.9" y="872.8" class="k1"/><use href="#c" x="1217.3" y="786.5" class="k10"/><use href="#c" x="1195.0" y="839.2" class="k12"/><use href="#c" x="1069.5" y="879.1" class="k4"/><use href="#c" x="1184.2" y="787.2" class="k11"/><use href="#c" x="1280.8" y="875.8" class="k12"/><use href="#c" x="1265.5" y="842.1" class="k10"/><use href="#c" x="1164.5" y="858.6" class="k7"/><use href="#c" x="1195.5" y="779.0" class="k10"/><use href="#c" x="1269.0" y="887.8" class="k5"/><use href="#c" x="1096.6" y="853.3" class="k10"/><use href="#c" x="1178.6" y="844.1" class="k12"/><use href="#c" x="1173.7" y="873.8" class="k11"/><use href="#c" x="1114.2" y="860.5" class="k12"/><use href="#c" x="1125.4" y="847.3" class="k6"/><use href="#c" x="1193.8" y="828.7" class="k1"/><use href="#c" x="1140.4" y="818.9" class="k9"/><use href="#c" x="1197.5" y="840.7" class="k10"/><use href="#c" x="1082.0" y="842.1" class="k3"/><use href="#c" x="1179.1" y="794.4" class="k12"/><use href="#c" x="1243.1" y="862.7" class="k6"/><use href="#c" x="1194.5" y="848.1" class="k10"/><use href="#c" x="1076.8" y="878.5" class="k7"/><use href="#c" x="1257.9" y="805.1" class="k12"/><use href="#c" x="1206.2" y="877.1" class="k12"/><use href="#c" x="1172.2" y="821.7" class="k12"/><use href="#c" x="1225.0" y="871.8" class="k9"/><use href="#c" x="1221.0" y="801.1" class="k12"/><use href="#c" x="1197.7" y="856.4" class="k12"/><use href="#c" x="1141.5" y="813.3" class="k9"/><use href="#c" x="1241.4" y="863.7" class="k12"/><use href="#c" x="1174.1" y="799.4" class="k12"/><use href="#c" x="1071.6" y="887.8" class="k3"/><use href="#c" x="1253.9" y="807.9" class="k10"/><use href="#c" x="1227.7" y="853.8" class="k2"/><use href="#c" x="1147.6" y="790.4" class="k12"/><use href="#c" x="1142.1" y="874.0" class="k7"/><use href="#c" x="1082.1" y="848.9" class="k7"/><use href="#c" x="1146.4" y="805.5" class="k9"/><use href="#c" x="1254.3" y="830.9" class="k4"/><use href="#c" x="1182.4" y="887.8" class="k10"/><use href="#c" x="1153.4" y="827.5" class="k10"/><use href="#c" x="1204.4" y="781.9" class="k12"/><use href="#c" x="1230.4" y="869.3" class="k10"/><use href="#c" x="1129.8" y="803.7" class="k7"/><use href="#c" x="1067.3" y="848.0" class="k11"/><use href="#c" x="1235.5" y="831.0" class="k10"/><use href="#c" x="1241.4" y="798.0" class="k10"/><use href="#c" x="1158.6" y="839.4" class="k10"/><use href="#c" x="1261.2" y="800.3" class="k5"/><use href="#c" x="1170.7" y="880.8" class="k12"/><use href="#c" x="1252.8" y="798.0" class="k7"/><use href="#c" x="1125.1" y="859.5" class="k12"/><use href="#c" x="1176.8" y="790.2" class="k11"/><use href="#c" x="1098.4" y="876.5" class="k5"/><use href="#c" x="1155.1" y="797.1" class="k2"/><use href="#c" x="1254.0" y="796.0" class="k11"/><use href="#c" x="1230.4" y="843.3" class="k11"/><use href="#s" x="1403.7" y="791.9" class="k1"/><use href="#s" x="1205.9" y="743.4" class="k4"/><use href="#s" x="1231.1" y="712.2" class="k4"/><use href="#s" x="1204.8" y="741.5" class="k4"/><use href="#s" x="1200.5" y="720.9" class="k9"/><use href="#s" x="1217.9" y="805.3" class="k10"/><use href="#s" x="1271.2" y="824.3" class="k10"/><use href="#s" x="1271.2" y="762.4" class="k11"/><use href="#s" x="1262.6" y="792.4" class="k11"/><use href="#s" x="1282.4" y="786.4" class="k11"/><use href="#s" x="1326.2" y="801.9" class="k11"/><use href="#s" x="1292.7" y="865.5" class="k11"/><use href="#s" x="1270.1" y="760.4" class="k11"/><use href="#s" x="1262.7" y="792.3" class="k11"/><use href="#s" x="1283.2" y="788.8" class="k11"/><use href="#s" x="1331.4" y="801.1" class="k11"/><use href="#s" x="1350.3" y="815.1" class="k11"/><use href="#s" x="1364.3" y="811.6" class="k11"/><use href="#s" x="1292.0" y="866.8" class="k11"/><use href="#s" x="1266.9" y="743.4" class="k12"/><use href="#s" x="1219.6" y="774.4" class="k12"/><use href="#s" x="1315.9" y="863.8" class="k12"/><use href="#s" x="1211.0" y="884.4" class="k12"/><use href="#s" x="1317.4" y="701.2" class="k12"/><use href="#s" x="1266.2" y="739.8" class="k12"/><use href="#s" x="1357.7" y="853.7" class="k12"/><use href="#s" x="1317.4" y="864.2" class="k12"/><use href="#s" x="1331.9" y="860.2" class="k12"/><use href="#c" x="1118.2" y="887.0" class="k1"/><use href="#c" x="1126.8" y="879.3" class="k2"/><use href="#c" x="1138.8" y="879.3" class="k2"/><use href="#c" x="1154.3" y="877.6" class="k2"/><use href="#c" x="1258.3" y="875.8" class="k2"/><use href="#c" x="1294.4" y="881.0" class="k2"/><use href="#c" x="1178.4" y="887.0" class="k2"/><use href="#c" x="1293.3" y="880.8" class="k2"/><use href="#c" x="1221.4" y="822.5" class="k4"/><use href="#c" x="1209.3" y="826.0" class="k4"/><use href="#c" x="1232.5" y="770.1" class="k5"/><use href="#c" x="1279.8" y="800.2" class="k5"/><use href="#c" x="1228.2" y="807.1" class="k5"/><use href="#c" x="1200.7" y="815.7" class="k5"/><use href="#c" x="1253.9" y="720.9" class="k5"/><use href="#c" x="1280.2" y="798.5" class="k5"/><use href="#c" x="1225.7" y="745.2" class="k6"/><use href="#c" x="1216.2" y="764.1" class="k6"/><use href="#c" x="1208.5" y="770.1" class="k6"/><use href="#c" x="1193.0" y="771.8" class="k6"/><use href="#c" x="1188.7" y="795.0" class="k6"/><use href="#c" x="1225.4" y="744.2" class="k6"/><use href="#c" x="1238.6" y="754.6" class="k7"/><use href="#c" x="1278.1" y="768.4" class="k7"/><use href="#c" x="1134.5" y="767.5" class="k7"/><use href="#c" x="1164.6" y="783.8" class="k7"/><use href="#c" x="1209.3" y="784.7" class="k7"/><use href="#c" x="1156.9" y="789.9" class="k7"/><use href="#c" x="1171.5" y="796.7" class="k7"/><use href="#c" x="1306.5" y="793.3" class="k7"/><use href="#c" x="1195.6" y="807.1" class="k7"/><use href="#c" x="1082.1" y="865.5" class="k7"/><use href="#c" x="1089.0" y="875.8" class="k7"/><use href="#c" x="1131.9" y="872.4" class="k7"/><use href="#c" x="1200.7" y="872.4" class="k7"/><use href="#c" x="1317.4" y="665.3" class="k7"/><use href="#c" x="1313.0" y="702.1" class="k7"/><use href="#c" x="1310.0" y="708.7" class="k7"/><use href="#c" x="1246.4" y="727.1" class="k7"/><use href="#c" x="1238.6" y="754.7" class="k7"/><use href="#c" x="1278.0" y="768.3" class="k7"/><use href="#c" x="1306.5" y="793.2" class="k7"/><use href="#c" x="1134.7" y="767.8" class="k7"/><use href="#c" x="1144.8" y="771.8" class="k8"/><use href="#c" x="1233.4" y="781.3" class="k8"/><use href="#c" x="1198.1" y="789.9" class="k8"/><use href="#c" x="1204.2" y="803.6" class="k8"/><use href="#c" x="1255.7" y="807.9" class="k8"/><use href="#c" x="1199.0" y="832.9" class="k8"/><use href="#c" x="1223.1" y="834.6" class="k8"/><use href="#c" x="1243.7" y="839.7" class="k8"/><use href="#c" x="1144.4" y="772.2" class="k8"/><use href="#c" x="1302.2" y="810.5" class="k9"/><use href="#c" x="1307.3" y="815.7" class="k9"/><use href="#c" x="1166.3" y="815.7" class="k9"/><use href="#c" x="1255.7" y="815.7" class="k9"/><use href="#c" x="1083.8" y="822.5" class="k9"/><use href="#c" x="1192.1" y="822.5" class="k9"/><use href="#c" x="1258.3" y="831.1" class="k9"/><use href="#c" x="1280.7" y="836.3" class="k9"/><use href="#c" x="1259.2" y="844.9" class="k9"/><use href="#c" x="1229.1" y="846.6" class="k9"/><use href="#c" x="1281.5" y="856.9" class="k9"/><use href="#c" x="1301.2" y="810.7" class="k9"/><use href="#c" x="1247.2" y="782.1" class="k10"/><use href="#c" x="1178.4" y="783.0" class="k10"/><use href="#c" x="1114.7" y="801.9" class="k10"/><use href="#c" x="1128.5" y="798.5" class="k10"/><use href="#c" x="1135.4" y="799.3" class="k10"/><use href="#c" x="1142.3" y="796.7" class="k10"/><use href="#c" x="1130.2" y="812.2" class="k10"/><use href="#c" x="1154.3" y="810.5" class="k10"/><use href="#c" x="1171.5" y="806.2" class="k10"/><use href="#c" x="1094.1" y="813.9" class="k10"/><use href="#c" x="1102.7" y="819.1" class="k10"/><use href="#c" x="1114.7" y="819.1" class="k10"/><use href="#c" x="1248.0" y="830.3" class="k10"/><use href="#c" x="1245.4" y="852.6" class="k10"/><use href="#c" x="1243.7" y="863.8" class="k10"/><use href="#c" x="1250.6" y="870.7" class="k10"/><use href="#c" x="1246.4" y="782.3" class="k10"/><use href="#c" x="1443.6" y="806.4" class="k10"/><use href="#c" x="1407.2" y="862.4" class="k10"/><use href="#c" x="1216.2" y="787.3" class="k11"/><use href="#c" x="1236.8" y="798.5" class="k11"/><use href="#c" x="1151.7" y="824.3" class="k11"/><use href="#c" x="1113.0" y="827.7" class="k11"/><use href="#c" x="1162.9" y="830.3" class="k11"/><use href="#c" x="1178.4" y="827.7" class="k11"/><use href="#c" x="1205.9" y="836.3" class="k11"/><use href="#c" x="1152.6" y="846.6" class="k11"/><use href="#c" x="1211.0" y="860.4" class="k11"/><use href="#c" x="1190.4" y="870.7" class="k11"/><use href="#c" x="1319.4" y="838.9" class="k11"/><use href="#c" x="1342.4" y="868.6" class="k11"/><use href="#c" x="1319.6" y="839.2" class="k11"/><use href="#c" x="1226.5" y="798.5" class="k12"/><use href="#c" x="1180.1" y="813.9" class="k12"/><use href="#c" x="1188.7" y="813.9" class="k12"/><use href="#c" x="1098.4" y="829.4" class="k12"/><use href="#c" x="1142.3" y="831.1" class="k12"/><use href="#c" x="1171.5" y="833.7" class="k12"/><use href="#c" x="1101.0" y="841.5" class="k12"/><use href="#c" x="1136.2" y="846.6" class="k12"/><use href="#c" x="1277.2" y="841.5" class="k12"/><use href="#c" x="1116.5" y="848.3" class="k12"/><use href="#c" x="1217.9" y="851.8" class="k12"/><use href="#c" x="1130.2" y="853.5" class="k12"/><use href="#c" x="1164.6" y="856.9" class="k12"/><use href="#c" x="1187.0" y="858.6" class="k12"/><use href="#c" x="1106.1" y="863.8" class="k12"/><use href="#c" x="1118.2" y="862.1" class="k12"/><use href="#c" x="1199.0" y="862.1" class="k12"/><use href="#c" x="1263.5" y="863.8" class="k12"/><use href="#c" x="1140.5" y="867.2" class="k12"/><use href="#c" x="1156.0" y="867.2" class="k12"/><use href="#c" x="1171.5" y="870.7" class="k12"/><use href="#c" x="1221.4" y="874.1" class="k12"/><use href="#c" x="1326.2" y="822.5" class="k12"/><use href="#c" x="1329.7" y="823.9" class="k12"/><use href="#c" x="1324.0" y="849.3" class="k12"/></g>
<g clip-path="url(#cph)"><line x1="1067.30" y1="887.80" x2="1443.81" y2="498.40" stroke="#000" stroke-width="2.6"/></g>
<rect x="1048.3" y="480.1" width="414.10" height="427.30" fill="none" stroke="#000" stroke-width="1.3"/>
<line x1="1067.30" y1="907.4" x2="1067.30" y2="913.8" stroke="#000" stroke-width="1.5"/>
<text class="t" x="1067.30" y="941.4" text-anchor="middle">0.0</text>
<line x1="1173.90" y1="907.4" x2="1173.90" y2="913.8" stroke="#000" stroke-width="1.5"/>
<text class="t" x="1173.90" y="941.4" text-anchor="middle">0.5</text>
<line x1="1280.50" y1="907.4" x2="1280.50" y2="913.8" stroke="#000" stroke-width="1.5"/>
<text class="t" x="1280.50" y="941.4" text-anchor="middle">1.0</text>
<line x1="1387.10" y1="907.4" x2="1387.10" y2="913.8" stroke="#000" stroke-width="1.5"/>
<text class="t" x="1387.10" y="941.4" text-anchor="middle">1.5</text>
<line x1="1041.8999999999999" y1="887.80" x2="1048.3" y2="887.80" stroke="#000" stroke-width="1.5"/>
<text class="t" x="1036.10" y="898.90" text-anchor="end">0.0</text>
<line x1="1041.8999999999999" y1="777.55" x2="1048.3" y2="777.55" stroke="#000" stroke-width="1.5"/>
<text class="t" x="1036.10" y="788.65" text-anchor="end">0.5</text>
<line x1="1041.8999999999999" y1="667.30" x2="1048.3" y2="667.30" stroke="#000" stroke-width="1.5"/>
<text class="t" x="1036.10" y="678.40" text-anchor="end">1.0</text>
<line x1="1041.8999999999999" y1="557.05" x2="1048.3" y2="557.05" stroke="#000" stroke-width="1.5"/>
<text class="t" x="1036.10" y="568.15" text-anchor="end">1.5</text>
<rect x="1056.70" y="488.90" width="353.35" height="43.5" fill="#fff" stroke="#000" stroke-width="1.5"/>
<text class="b" x="1065.00" y="519.10" xml:space="preserve" style="white-space:pre">(h)  T [deg C] [60-200)m</text>
<text class="t" x="1255.35" y="975.4" text-anchor="middle">MISFITS</text>
<g clip-path="url(#cpi)" class="sc"><use href="#s" x="1689.5" y="828.5" class="k5"/><use href="#s" x="1757.1" y="830.5" class="k11"/><use href="#s" x="1771.1" y="839.1" class="k8"/><use href="#s" x="1670.4" y="807.1" class="k12"/><use href="#s" x="1768.9" y="783.8" class="k8"/><use href="#s" x="1603.8" y="869.7" class="k4"/><use href="#s" x="1778.6" y="825.3" class="k6"/><use href="#s" x="1742.1" y="765.1" class="k11"/><use href="#s" x="1638.7" y="865.0" class="k12"/><use href="#s" x="1666.8" y="769.7" class="k2"/><use href="#s" x="1714.3" y="811.5" class="k5"/><use href="#s" x="1740.8" y="742.5" class="k9"/><use href="#s" x="1592.2" y="836.4" class="k5"/><use href="#s" x="1603.1" y="874.1" class="k2"/><use href="#s" x="1595.5" y="840.9" class="k12"/><use href="#s" x="1648.7" y="799.2" class="k1"/><use href="#s" x="1697.4" y="809.7" class="k5"/><use href="#s" x="1674.6" y="812.6" class="k12"/><use href="#s" x="1693.1" y="777.2" class="k6"/><use href="#s" x="1686.4" y="862.0" class="k7"/><use href="#s" x="1696.9" y="770.7" class="k1"/><use href="#s" x="1679.6" y="804.4" class="k12"/><use href="#s" x="1712.4" y="775.7" class="k10"/><use href="#s" x="1709.4" y="750.6" class="k11"/><use href="#s" x="1676.0" y="850.3" class="k4"/><use href="#s" x="1692.6" y="804.3" class="k4"/><use href="#s" x="1706.9" y="762.2" class="k12"/><use href="#s" x="1651.6" y="832.1" class="k8"/><use href="#s" x="1710.2" y="854.5" class="k11"/><use href="#s" x="1730.0" y="815.6" class="k10"/><use href="#s" x="1652.7" y="865.6" class="k3"/><use href="#s" x="1663.7" y="849.9" class="k11"/><use href="#s" x="1723.3" y="782.5" class="k9"/><use href="#s" x="1708.9" y="778.5" class="k9"/><use href="#s" x="1756.5" y="790.6" class="k12"/><use href="#s" x="1715.3" y="858.7" class="k9"/><use href="#s" x="1699.9" y="840.3" class="k1"/><use href="#s" x="1616.9" y="845.4" class="k7"/><use href="#s" x="1632.4" y="846.2" class="k11"/><use href="#s" x="1668.7" y="819.0" class="k4"/><use href="#s" x="1688.9" y="800.8" class="k11"/><use href="#s" x="1732.2" y="820.1" class="k8"/><use href="#s" x="1702.2" y="858.2" class="k3"/><use href="#s" x="1628.6" y="862.6" class="k12"/><use href="#s" x="1718.9" y="796.8" class="k12"/><use href="#s" x="1678.0" y="855.7" class="k1"/><use href="#s" x="1743.8" y="749.0" class="k6"/><use href="#s" x="1676.4" y="798.7" class="k1"/><use href="#s" x="1656.2" y="798.7" class="k6"/><use href="#s" x="1712.3" y="765.6" class="k11"/><use href="#s" x="1710.4" y="770.6" class="k6"/><use href="#s" x="1749.2" y="804.4" class="k5"/><use href="#s" x="1591.1" y="823.0" class="k11"/><use href="#s" x="1667.7" y="779.6" class="k12"/><use href="#s" x="1627.8" y="842.2" class="k8"/><use href="#s" x="1759.4" y="802.4" class="k3"/><use href="#s" x="1759.1" y="835.8" class="k4"/><use href="#s" x="1648.4" y="791.9" class="k10"/><use href="#s" x="1580.0" y="820.9" class="k8"/><use href="#s" x="1607.6" y="857.8" class="k12"/><use href="#s" x="1586.5" y="818.5" class="k1"/><use href="#s" x="1708.0" y="750.9" class="k12"/><use href="#s" x="1706.2" y="784.5" class="k4"/><use href="#s" x="1615.3" y="810.3" class="k8"/><use href="#s" x="1747.1" y="756.9" class="k8"/><use href="#s" x="1644.6" y="840.6" class="k7"/><use href="#s" x="1648.4" y="833.5" class="k5"/><use href="#s" x="1711.4" y="834.1" class="k1"/><use href="#s" x="1616.0" y="781.1" class="k1"/><use href="#s" x="1695.0" y="778.3" class="k8"/><use href="#s" x="1608.7" y="846.8" class="k7"/><use href="#s" x="1631.5" y="786.3" class="k1"/><use href="#s" x="1681.5" y="761.2" class="k10"/><use href="#s" x="1596.1" y="812.3" class="k11"/><use href="#s" x="1703.4" y="770.1" class="k4"/><use href="#s" x="1652.5" y="767.6" class="k10"/><use href="#s" x="1770.5" y="817.6" class="k3"/><use href="#s" x="1660.8" y="864.8" class="k3"/><use href="#s" x="1677.6" y="810.3" class="k11"/><use href="#s" x="1697.6" y="794.2" class="k9"/><use href="#s" x="1597.4" y="834.6" class="k4"/><use href="#s" x="1642.7" y="822.5" class="k9"/><use href="#s" x="1595.2" y="819.3" class="k5"/><use href="#s" x="1640.6" y="785.2" class="k1"/><use href="#s" x="1683.3" y="783.4" class="k12"/><use href="#s" x="1715.6" y="741.4" class="k10"/><use href="#s" x="1592.1" y="829.8" class="k10"/><use href="#s" x="1734.2" y="789.3" class="k9"/><use href="#s" x="1723.0" y="817.2" class="k3"/><use href="#s" x="1642.1" y="872.7" class="k9"/><use href="#s" x="1634.0" y="812.6" class="k11"/><use href="#s" x="1736.6" y="801.1" class="k3"/><use href="#s" x="1679.8" y="772.0" class="k1"/><use href="#s" x="1760.0" y="822.9" class="k7"/><use href="#s" x="1610.1" y="796.6" class="k6"/><use href="#s" x="1661.6" y="871.7" class="k12"/><use href="#s" x="1623.7" y="873.1" class="k5"/><use href="#s" x="1705.7" y="848.7" class="k1"/><use href="#s" x="1759.2" y="761.5" class="k8"/><use href="#s" x="1740.6" y="773.7" class="k11"/><use href="#s" x="1683.3" y="838.9" class="k3"/><use href="#s" x="1740.0" y="823.0" class="k5"/><use href="#s" x="1782.0" y="802.1" class="k5"/><use href="#s" x="1724.9" y="829.9" class="k5"/><use href="#s" x="1711.0" y="844.9" class="k12"/><use href="#c" x="1695.4" y="818.9" class="k11"/><use href="#c" x="1591.1" y="797.7" class="k3"/><use href="#c" x="1659.7" y="792.4" class="k6"/><use href="#c" x="1610.3" y="789.1" class="k7"/><use href="#c" x="1659.7" y="842.1" class="k7"/><use href="#c" x="1630.4" y="824.6" class="k12"/><use href="#c" x="1616.6" y="855.2" class="k3"/><use href="#c" x="1635.6" y="871.9" class="k8"/><use href="#c" x="1708.2" y="829.9" class="k4"/><use href="#c" x="1746.6" y="825.2" class="k6"/><use href="#c" x="1691.2" y="785.6" class="k12"/><use href="#c" x="1693.3" y="857.8" class="k2"/><use href="#c" x="1584.3" y="833.7" class="k1"/><use href="#c" x="1606.0" y="807.1" class="k11"/><use href="#c" x="1757.2" y="829.2" class="k11"/><use href="#c" x="1627.1" y="776.9" class="k11"/><use href="#c" x="1756.5" y="847.0" class="k5"/><use href="#c" x="1642.8" y="838.4" class="k7"/><use href="#c" x="1737.3" y="794.2" class="k12"/><use href="#c" x="1761.0" y="783.4" class="k12"/><use href="#c" x="1693.9" y="865.5" class="k12"/><use href="#c" x="1725.8" y="760.5" class="k8"/><use href="#c" x="1734.7" y="852.6" class="k5"/><use href="#c" x="1617.8" y="790.8" class="k3"/><use href="#c" x="1779.6" y="809.2" class="k12"/><use href="#c" x="1748.7" y="763.1" class="k8"/><use href="#c" x="1594.1" y="848.5" class="k2"/><use href="#c" x="1730.1" y="753.1" class="k5"/><use href="#c" x="1724.9" y="795.9" class="k10"/><use href="#c" x="1626.5" y="822.1" class="k7"/><use href="#c" x="1694.4" y="815.2" class="k8"/><use href="#c" x="1752.4" y="797.8" class="k8"/><use href="#c" x="1760.8" y="828.8" class="k4"/><use href="#c" x="1704.7" y="826.0" class="k1"/><use href="#c" x="1699.1" y="747.3" class="k12"/><use href="#c" x="1645.5" y="867.6" class="k3"/><use href="#c" x="1631.3" y="806.6" class="k11"/><use href="#c" x="1650.9" y="814.4" class="k10"/><use href="#c" x="1635.8" y="829.4" class="k12"/><use href="#c" x="1694.5" y="854.0" class="k7"/><use href="#c" x="1712.1" y="758.0" class="k5"/><use href="#c" x="1595.8" y="858.7" class="k9"/><use href="#c" x="1662.5" y="806.6" class="k9"/><use href="#c" x="1713.4" y="821.0" class="k12"/><use href="#c" x="1740.2" y="811.5" class="k6"/><use href="#c" x="1739.1" y="758.5" class="k12"/><use href="#c" x="1617.2" y="822.1" class="k12"/><use href="#c" x="1575.5" y="867.6" class="k12"/><use href="#c" x="1692.4" y="754.0" class="k5"/><use href="#c" x="1647.0" y="842.1" class="k3"/><use href="#c" x="1667.3" y="760.1" class="k10"/><use href="#c" x="1737.3" y="831.5" class="k7"/><use href="#c" x="1615.2" y="874.9" class="k3"/><use href="#c" x="1686.8" y="811.1" class="k5"/><use href="#c" x="1663.7" y="813.2" class="k4"/><use href="#c" x="1730.9" y="844.2" class="k4"/><use href="#c" x="1788.2" y="809.5" class="k1"/><use href="#c" x="1739.5" y="781.9" class="k1"/><use href="#c" x="1676.1" y="768.1" class="k12"/><use href="#c" x="1703.8" y="776.7" class="k7"/><use href="#c" x="1678.3" y="808.0" class="k1"/><use href="#c" x="1721.9" y="844.0" class="k12"/><use href="#c" x="1576.1" y="866.1" class="k12"/><use href="#c" x="1709.3" y="801.5" class="k12"/><use href="#c" x="1730.9" y="766.6" class="k7"/><use href="#c" x="1746.9" y="777.3" class="k8"/><use href="#c" x="1706.0" y="798.4" class="k8"/><use href="#c" x="1724.6" y="819.5" class="k6"/><use href="#c" x="1748.6" y="785.9" class="k2"/><use href="#c" x="1743.5" y="751.5" class="k11"/><use href="#c" x="1719.6" y="769.0" class="k5"/><use href="#c" x="1619.5" y="853.5" class="k11"/><use href="#c" x="1705.0" y="786.5" class="k6"/><use href="#c" x="1632.4" y="793.5" class="k2"/><use href="#c" x="1621.4" y="796.3" class="k4"/><use href="#c" x="1597.7" y="809.2" class="k10"/><use href="#c" x="1715.7" y="818.8" class="k8"/><use href="#c" x="1705.1" y="767.1" class="k1"/><use href="#c" x="1643.2" y="819.3" class="k11"/><use href="#c" x="1658.4" y="767.9" class="k9"/><use href="#c" x="1720.2" y="804.4" class="k3"/><use href="#c" x="1658.8" y="781.7" class="k10"/><use href="#c" x="1779.9" y="793.0" class="k5"/><use href="#c" x="1720.8" y="751.5" class="k3"/><use href="#c" x="1758.3" y="773.9" class="k4"/><use href="#c" x="1757.3" y="789.2" class="k12"/><use href="#c" x="1754.4" y="829.6" class="k7"/><use href="#c" x="1671.9" y="838.6" class="k12"/><use href="#c" x="1699.5" y="763.6" class="k3"/><use href="#c" x="1752.6" y="821.2" class="k5"/><use href="#c" x="1585.4" y="852.6" class="k10"/><use href="#c" x="1716.6" y="826.5" class="k11"/><use href="#c" x="1765.0" y="795.8" class="k4"/><use href="#c" x="1720.7" y="786.6" class="k8"/><use href="#c" x="1746.6" y="816.8" class="k4"/><use href="#c" x="1748.2" y="844.0" class="k4"/><use href="#c" x="1758.5" y="816.8" class="k8"/><use href="#c" x="1766.9" y="832.4" class="k10"/><use href="#c" x="1760.3" y="837.8" class="k6"/><use href="#c" x="1771.7" y="805.9" class="k9"/><use href="#c" x="1703.7" y="856.8" class="k11"/><use href="#c" x="1769.5" y="778.0" class="k11"/><use href="#c" x="1643.7" y="795.9" class="k8"/><use href="#c" x="1679.2" y="832.2" class="k7"/><use href="#c" x="1612.4" y="874.0" class="k5"/><use href="#c" x="1741.6" y="795.8" class="k8"/><use href="#c" x="1711.9" y="828.0" class="k3"/><use href="#c" x="1623.5" y="818.2" class="k10"/><use href="#c" x="1676.3" y="825.5" class="k4"/><use href="#c" x="1717.1" y="809.6" class="k3"/><use href="#c" x="1675.4" y="790.0" class="k12"/><use href="#c" x="1602.5" y="789.2" class="k12"/><use href="#c" x="1723.3" y="754.4" class="k2"/><use href="#c" x="1614.3" y="857.5" class="k7"/><use href="#c" x="1656.0" y="764.9" class="k1"/><use href="#c" x="1647.0" y="825.2" class="k5"/><use href="#c" x="1658.5" y="815.2" class="k4"/><use href="#c" x="1686.9" y="757.7" class="k7"/><use href="#c" x="1719.3" y="797.9" class="k10"/><use href="#c" x="1711.6" y="788.6" class="k2"/><use href="#c" x="1717.1" y="784.8" class="k8"/><use href="#c" x="1740.7" y="830.6" class="k9"/><use href="#c" x="1692.1" y="758.2" class="k8"/><use href="#c" x="1602.2" y="824.9" class="k11"/><use href="#c" x="1775.0" y="826.3" class="k5"/><use href="#c" x="1719.5" y="792.3" class="k8"/><use href="#c" x="1784.0" y="818.4" class="k2"/><use href="#c" x="1588.4" y="862.7" class="k11"/><use href="#c" x="1709.6" y="745.7" class="k8"/><use href="#c" x="1778.8" y="837.0" class="k3"/><use href="#c" x="1717.0" y="776.3" class="k9"/><use href="#c" x="1656.2" y="772.3" class="k12"/><use href="#c" x="1674.8" y="866.4" class="k6"/><use href="#c" x="1703.7" y="782.9" class="k7"/><use href="#c" x="1655.7" y="822.4" class="k9"/><use href="#c" x="1723.0" y="780.6" class="k1"/><use href="#c" x="1724.7" y="740.0" class="k2"/><use href="#c" x="1643.1" y="779.0" class="k4"/><use href="#c" x="1727.5" y="759.7" class="k12"/><use href="#c" x="1679.1" y="866.7" class="k8"/><use href="#c" x="1783.1" y="809.0" class="k8"/><use href="#c" x="1608.4" y="841.6" class="k7"/><use href="#c" x="1752.2" y="831.0" class="k7"/><use href="#c" x="1643.7" y="856.1" class="k6"/><use href="#c" x="1602.8" y="804.4" class="k6"/><use href="#c" x="1590.0" y="792.9" class="k1"/><use href="#c" x="1760.3" y="792.8" class="k3"/><use href="#c" x="1630.7" y="862.3" class="k3"/><use href="#c" x="1578.1" y="830.9" class="k5"/><use href="#c" x="1685.9" y="822.3" class="k8"/><use href="#c" x="1732.1" y="773.7" class="k12"/><use href="#c" x="1705.3" y="816.1" class="k1"/><use href="#c" x="1640.3" y="772.3" class="k5"/><use href="#c" x="1690.3" y="854.8" class="k1"/><use href="#c" x="1664.7" y="824.2" class="k3"/><use href="#c" x="1733.3" y="790.6" class="k7"/><use href="#c" x="1682.8" y="789.8" class="k6"/><use href="#c" x="1662.3" y="849.4" class="k4"/><use href="#c" x="1667.0" y="830.2" class="k11"/><use href="#c" x="1653.4" y="846.8" class="k11"/><use href="#c" x="1683.7" y="771.2" class="k12"/><use href="#c" x="1727.5" y="739.4" class="k6"/><use href="#c" x="1723.0" y="850.4" class="k12"/><use href="#c" x="1575.5" y="853.3" class="k12"/><use href="#c" x="1632.7" y="812.9" class="k7"/><use href="#c" x="1690.3" y="847.0" class="k1"/><use href="#c" x="1723.7" y="814.5" class="k4"/><use href="#c" x="1602.8" y="838.9" class="k5"/><use href="#c" x="1622.9" y="785.3" class="k2"/><use href="#c" x="1709.1" y="853.1" class="k10"/><use href="#c" x="1691.7" y="830.0" class="k10"/><use href="#c" x="1642.5" y="829.8" class="k11"/><use href="#c" x="1663.9" y="797.3" class="k7"/><use href="#c" x="1763.4" y="780.4" class="k5"/><use href="#c" x="1706.6" y="830.7" class="k12"/><use href="#c" x="1651.3" y="797.1" class="k11"/><use href="#c" x="1709.9" y="827.6" class="k12"/><use href="#c" x="1639.6" y="845.4" class="k11"/><use href="#c" x="1621.2" y="832.8" class="k5"/><use href="#c" x="1740.5" y="836.7" class="k4"/><use href="#c" x="1659.7" y="868.6" class="k11"/><use href="#c" x="1739.4" y="751.7" class="k1"/><use href="#c" x="1627.7" y="794.2" class="k11"/><use href="#c" x="1597.0" y="836.7" class="k3"/><use href="#c" x="1728.2" y="854.5" class="k12"/><use href="#c" x="1751.1" y="746.3" class="k11"/><use href="#c" x="1641.7" y="828.3" class="k1"/><use href="#c" x="1725.1" y="748.8" class="k7"/><use href="#c" x="1772.6" y="797.5" class="k1"/><use href="#c" x="1756.2" y="840.4" class="k3"/><use href="#c" x="1683.7" y="761.1" class="k7"/><use href="#c" x="1599.2" y="801.3" class="k12"/><use href="#c" x="1617.3" y="818.8" class="k4"/><use href="#c" x="1697.4" y="761.6" class="k10"/><use href="#c" x="1756.7" y="810.0" class="k3"/><use href="#c" x="1608.3" y="818.3" class="k12"/><use href="#c" x="1737.9" y="832.3" class="k12"/><use href="#c" x="1594.8" y="869.1" class="k11"/><use href="#c" x="1691.3" y="776.0" class="k4"/><use href="#c" x="1737.2" y="808.3" class="k1"/><use href="#c" x="1683.7" y="850.8" class="k11"/><use href="#c" x="1628.8" y="798.6" class="k1"/><use href="#c" x="1679.1" y="857.1" class="k7"/><use href="#c" x="1727.5" y="805.4" class="k11"/><use href="#c" x="1611.5" y="825.9" class="k5"/><use href="#c" x="1735.2" y="766.3" class="k6"/><use href="#c" x="1632.8" y="776.2" class="k6"/><use href="#c" x="1596.1" y="790.1" class="k9"/><use href="#c" x="1607.6" y="868.4" class="k10"/><use href="#c" x="1734.5" y="745.3" class="k1"/><use href="#c" x="1649.8" y="851.8" class="k5"/><use href="#c" x="1692.9" y="838.1" class="k1"/><use href="#c" x="1663.9" y="809.1" class="k5"/><use href="#c" x="1615.2" y="834.6" class="k3"/><use href="#s" x="1818.1" y="680.6" class="k1"/><use href="#s" x="1750.6" y="768.8" class="k2"/><use href="#s" x="1757.7" y="785.0" class="k2"/><use href="#s" x="1640.1" y="880.2" class="k2"/><use href="#s" x="1821.6" y="767.8" class="k2"/><use href="#s" x="1750.2" y="768.3" class="k2"/><use href="#s" x="1791.1" y="740.4" class="k3"/><use href="#s" x="1615.8" y="764.7" class="k3"/><use href="#s" x="1786.0" y="841.7" class="k3"/><use href="#s" x="1788.8" y="741.5" class="k3"/><use href="#s" x="1786.6" y="841.4" class="k3"/><use href="#s" x="1735.4" y="734.3" class="k4"/><use href="#s" x="1676.6" y="752.6" class="k4"/><use href="#s" x="1656.3" y="760.7" class="k4"/><use href="#s" x="1618.8" y="766.7" class="k4"/><use href="#s" x="1780.0" y="820.5" class="k4"/><use href="#s" x="1736.2" y="734.1" class="k4"/><use href="#s" x="1780.0" y="819.5" class="k4"/><use href="#s" x="1720.2" y="725.2" class="k5"/><use href="#s" x="1757.7" y="739.4" class="k5"/><use href="#s" x="1774.9" y="746.5" class="k5"/><use href="#s" x="1590.5" y="797.1" class="k5"/><use href="#s" x="1718.7" y="725.3" class="k5"/><use href="#s" x="1755.9" y="738.5" class="k5"/><use href="#s" x="1801.2" y="822.5" class="k6"/><use href="#s" x="1602.6" y="809.3" class="k6"/><use href="#s" x="1853.6" y="801.1" class="k6"/><use href="#s" x="1843.5" y="813.8" class="k6"/><use href="#s" x="1801.9" y="823.0" class="k6"/><use href="#s" x="1673.6" y="878.2" class="k7"/><use href="#s" x="1905.7" y="717.9" class="k8"/><use href="#s" x="1825.1" y="751.6" class="k9"/><use href="#s" x="1841.3" y="799.8" class="k9"/><use href="#s" x="1718.1" y="837.7" class="k10"/><use href="#s" x="1774.9" y="778.9" class="k11"/><use href="#s" x="1774.7" y="779.2" class="k11"/><use href="#s" x="1731.3" y="835.6" class="k12"/><use href="#s" x="1754.6" y="839.7" class="k12"/><use href="#s" x="1880.7" y="653.9" class="k12"/><use href="#s" x="1837.8" y="727.5" class="k12"/><use href="#c" x="1617.8" y="799.2" class="k1"/><use href="#c" x="1667.5" y="859.0" class="k1"/><use href="#c" x="1673.6" y="868.1" class="k1"/><use href="#c" x="1636.5" y="806.6" class="k1"/><use href="#c" x="1633.7" y="805.7" class="k1"/><use href="#c" x="1623.6" y="822.2" class="k1"/><use href="#c" x="1784.0" y="805.3" class="k2"/><use href="#c" x="1850.1" y="745.0" class="k2"/><use href="#c" x="1886.4" y="773.5" class="k2"/><use href="#c" x="1785.2" y="805.1" class="k2"/><use href="#c" x="1781.0" y="738.4" class="k3"/><use href="#c" x="1758.7" y="795.1" class="k3"/><use href="#c" x="1736.4" y="803.2" class="k3"/><use href="#c" x="1788.1" y="814.4" class="k3"/><use href="#c" x="1774.9" y="829.6" class="k3"/><use href="#c" x="1573.2" y="839.7" class="k3"/><use href="#c" x="1701.9" y="851.9" class="k3"/><use href="#c" x="1712.1" y="854.9" class="k3"/><use href="#c" x="1745.5" y="854.9" class="k3"/><use href="#c" x="1910.5" y="552.3" class="k3"/><use href="#c" x="1945.1" y="596.1" class="k3"/><use href="#c" x="1862.3" y="628.1" class="k3"/><use href="#c" x="1847.9" y="667.5" class="k3"/><use href="#c" x="1900.0" y="687.2" class="k3"/><use href="#c" x="1826.0" y="700.4" class="k3"/><use href="#c" x="1823.8" y="779.2" class="k3"/><use href="#c" x="1784.8" y="671.4" class="k3"/><use href="#c" x="1781.3" y="737.6" class="k3"/><use href="#c" x="1745.8" y="855.4" class="k3"/><use href="#c" x="1788.8" y="815.1" class="k3"/><use href="#c" x="1598.6" y="783.0" class="k4"/><use href="#c" x="1720.2" y="807.3" class="k4"/><use href="#c" x="1583.4" y="823.5" class="k4"/><use href="#c" x="1740.4" y="842.7" class="k4"/><use href="#c" x="1829.5" y="794.5" class="k4"/><use href="#c" x="1740.6" y="843.6" class="k4"/><use href="#c" x="1753.6" y="752.6" class="k5"/><use href="#c" x="1632.0" y="770.8" class="k5"/><use href="#c" x="1733.3" y="786.0" class="k5"/><use href="#c" x="1743.5" y="793.1" class="k5"/><use href="#c" x="1763.7" y="810.3" class="k5"/><use href="#c" x="1800.2" y="803.2" class="k5"/><use href="#c" x="1694.8" y="821.5" class="k5"/><use href="#c" x="1836.9" y="827.4" class="k5"/><use href="#c" x="1773.4" y="745.0" class="k5"/><use href="#c" x="1798.8" y="804.2" class="k5"/><use href="#c" x="1630.0" y="778.9" class="k6"/><use href="#c" x="1770.8" y="851.9" class="k6"/><use href="#c" x="1717.1" y="824.5" class="k6"/><use href="#c" x="1582.4" y="866.0" class="k6"/><use href="#c" x="1875.1" y="595.2" class="k6"/><use href="#c" x="1872.4" y="793.7" class="k6"/><use href="#c" x="1771.2" y="852.4" class="k6"/><use href="#c" x="1730.3" y="722.2" class="k7"/><use href="#c" x="1751.6" y="722.2" class="k7"/><use href="#c" x="1784.0" y="721.1" class="k7"/><use href="#c" x="1707.0" y="772.8" class="k7"/><use href="#c" x="1709.0" y="785.0" class="k7"/><use href="#c" x="1682.7" y="811.3" class="k7"/><use href="#c" x="1749.6" y="810.3" class="k7"/><use href="#c" x="1657.3" y="853.9" class="k7"/><use href="#c" x="1850.5" y="677.1" class="k7"/><use href="#c" x="1835.6" y="730.6" class="k7"/><use href="#c" x="1753.7" y="669.7" class="k7"/><use href="#c" x="1729.6" y="722.3" class="k7"/><use href="#c" x="1751.5" y="721.8" class="k7"/><use href="#c" x="1783.5" y="720.9" class="k7"/><use href="#c" x="1707.0" y="738.4" class="k8"/><use href="#c" x="1696.9" y="747.5" class="k8"/><use href="#c" x="1723.2" y="746.5" class="k8"/><use href="#c" x="1719.2" y="761.7" class="k8"/><use href="#c" x="1726.2" y="769.8" class="k8"/><use href="#c" x="1746.5" y="751.5" class="k8"/><use href="#c" x="1684.7" y="755.6" class="k8"/><use href="#c" x="1719.2" y="796.1" class="k8"/><use href="#c" x="1656.3" y="831.6" class="k8"/><use href="#c" x="1665.5" y="831.6" class="k8"/><use href="#c" x="1643.2" y="859.0" class="k8"/><use href="#c" x="1695.8" y="860.0" class="k8"/><use href="#c" x="1792.3" y="701.2" class="k8"/><use href="#c" x="1747.1" y="752.5" class="k8"/><use href="#c" x="1764.8" y="729.3" class="k9"/><use href="#c" x="1776.9" y="757.6" class="k9"/><use href="#c" x="1706.0" y="755.6" class="k9"/><use href="#c" x="1586.4" y="807.3" class="k9"/><use href="#c" x="1764.7" y="728.8" class="k9"/><use href="#c" x="1777.8" y="757.3" class="k9"/><use href="#c" x="1587.4" y="768.8" class="k10"/><use href="#c" x="1696.9" y="777.9" class="k10"/><use href="#c" x="1621.9" y="804.2" class="k10"/><use href="#c" x="1693.8" y="796.1" class="k10"/><use href="#c" x="1701.9" y="807.3" class="k10"/><use href="#c" x="1697.9" y="833.6" class="k10"/><use href="#c" x="1628.0" y="827.5" class="k10"/><use href="#c" x="1621.9" y="831.6" class="k10"/><use href="#c" x="1833.9" y="695.5" class="k10"/><use href="#c" x="1819.4" y="714.4" class="k10"/><use href="#c" x="1588.6" y="768.3" class="k10"/><use href="#c" x="1634.9" y="822.7" class="k10"/><use href="#c" x="1607.0" y="835.2" class="k10"/><use href="#c" x="1621.3" y="825.0" class="k10"/><use href="#c" x="1619.5" y="835.6" class="k10"/><use href="#c" x="1598.6" y="716.1" class="k11"/><use href="#c" x="1650.3" y="751.5" class="k11"/><use href="#c" x="1592.5" y="763.7" class="k11"/><use href="#c" x="1610.7" y="780.9" class="k11"/><use href="#c" x="1668.5" y="776.9" class="k11"/><use href="#c" x="1682.7" y="784.0" class="k11"/><use href="#c" x="1648.2" y="785.0" class="k11"/><use href="#c" x="1603.6" y="868.1" class="k11"/><use href="#c" x="1615.8" y="868.1" class="k11"/><use href="#c" x="1621.9" y="864.0" class="k11"/><use href="#c" x="1699.4" y="689.4" class="k11"/><use href="#c" x="1598.2" y="715.7" class="k11"/><use href="#c" x="1592.5" y="763.9" class="k11"/><use href="#c" x="1775.6" y="830.5" class="k11"/><use href="#c" x="1686.3" y="780.5" class="k11"/><use href="#c" x="1618.4" y="838.0" class="k11"/><use href="#c" x="1659.5" y="798.9" class="k11"/><use href="#c" x="1647.4" y="804.4" class="k11"/><use href="#c" x="1677.6" y="765.7" class="k12"/><use href="#c" x="1693.8" y="760.7" class="k12"/><use href="#c" x="1682.7" y="770.8" class="k12"/><use href="#c" x="1660.4" y="789.0" class="k12"/><use href="#c" x="1668.5" y="789.0" class="k12"/><use href="#c" x="1650.3" y="797.1" class="k12"/><use href="#c" x="1664.4" y="802.2" class="k12"/><use href="#c" x="1638.1" y="805.3" class="k12"/><use href="#c" x="1621.9" y="815.4" class="k12"/><use href="#c" x="1605.7" y="831.6" class="k12"/><use href="#c" x="1585.4" y="841.7" class="k12"/><use href="#c" x="1595.5" y="843.8" class="k12"/><use href="#c" x="1644.2" y="839.7" class="k12"/><use href="#c" x="1676.6" y="843.8" class="k12"/><use href="#c" x="1611.7" y="851.9" class="k12"/><use href="#c" x="1632.0" y="851.9" class="k12"/><use href="#c" x="1649.7" y="813.7" class="k12"/><use href="#c" x="1626.1" y="835.3" class="k12"/><use href="#c" x="1652.9" y="811.7" class="k12"/><use href="#c" x="1627.2" y="813.8" class="k12"/><use href="#c" x="1687.8" y="772.7" class="k12"/><use href="#c" x="1656.4" y="804.6" class="k12"/><use href="#c" x="1663.9" y="803.4" class="k12"/><use href="#c" x="1637.1" y="830.3" class="k12"/><use href="#c" x="1601.1" y="848.8" class="k12"/><use href="#c" x="1628.7" y="812.6" class="k12"/><use href="#c" x="1640.7" y="816.9" class="k12"/><use href="#c" x="1637.6" y="805.8" class="k12"/><use href="#c" x="1659.3" y="794.4" class="k12"/><use href="#c" x="1656.3" y="792.9" class="k12"/><use href="#c" x="1632.9" y="825.9" class="k12"/><use href="#c" x="1625.9" y="822.3" class="k12"/><use href="#c" x="1671.6" y="780.9" class="k12"/><use href="#c" x="1600.9" y="841.7" class="k12"/><use href="#c" x="1628.3" y="817.4" class="k12"/></g>
<g clip-path="url(#cpi)"><line x1="1569.40" y1="887.80" x2="1945.58" y2="499.05" stroke="#000" stroke-width="2.6"/></g>
<rect x="1550.4" y="480.1" width="413.80" height="427.30" fill="none" stroke="#000" stroke-width="1.3"/>
<line x1="1569.40" y1="907.4" x2="1569.40" y2="913.8" stroke="#000" stroke-width="1.5"/>
<text class="t" x="1569.40" y="941.4" text-anchor="middle">0.0</text>
<line x1="1689.74" y1="907.4" x2="1689.74" y2="913.8" stroke="#000" stroke-width="1.5"/>
<text class="t" x="1689.74" y="941.4" text-anchor="middle">0.2</text>
<line x1="1810.08" y1="907.4" x2="1810.08" y2="913.8" stroke="#000" stroke-width="1.5"/>
<text class="t" x="1810.08" y="941.4" text-anchor="middle">0.4</text>
<line x1="1930.42" y1="907.4" x2="1930.42" y2="913.8" stroke="#000" stroke-width="1.5"/>
<text class="t" x="1930.42" y="941.4" text-anchor="middle">0.6</text>
<line x1="1544.0" y1="887.80" x2="1550.4" y2="887.80" stroke="#000" stroke-width="1.5"/>
<text class="t" x="1538.20" y="898.90" text-anchor="end">0.0</text>
<line x1="1544.0" y1="825.62" x2="1550.4" y2="825.62" stroke="#000" stroke-width="1.5"/>
<text class="t" x="1538.20" y="836.72" text-anchor="end">0.1</text>
<line x1="1544.0" y1="763.44" x2="1550.4" y2="763.44" stroke="#000" stroke-width="1.5"/>
<text class="t" x="1538.20" y="774.54" text-anchor="end">0.2</text>
<line x1="1544.0" y1="701.26" x2="1550.4" y2="701.26" stroke="#000" stroke-width="1.5"/>
<text class="t" x="1538.20" y="712.36" text-anchor="end">0.3</text>
<line x1="1544.0" y1="639.08" x2="1550.4" y2="639.08" stroke="#000" stroke-width="1.5"/>
<text class="t" x="1538.20" y="650.18" text-anchor="end">0.4</text>
<line x1="1544.0" y1="576.90" x2="1550.4" y2="576.90" stroke="#000" stroke-width="1.5"/>
<text class="t" x="1538.20" y="588.00" text-anchor="end">0.5</text>
<line x1="1544.0" y1="514.72" x2="1550.4" y2="514.72" stroke="#000" stroke-width="1.5"/>
<text class="t" x="1538.20" y="525.82" text-anchor="end">0.6</text>
<rect x="1558.80" y="488.90" width="378.49" height="43.5" fill="#fff" stroke="#000" stroke-width="1.5"/>
<text class="b" x="1567.10" y="519.10" xml:space="preserve" style="white-space:pre">(i)  T [deg C] [200-2000]m</text>
<text class="t" x="1757.30" y="975.4" text-anchor="middle">MISFITS</text>
<rect x="2159.1" y="511.7" width="190.4" height="145.6" rx="5.5" fill="#fff" stroke="#262626" stroke-width="1.4"/>
<text class="l" x="2254.3" y="548.4" text-anchor="middle">Years</text>
<path d="M2202.40,564.80L2198.45,576.96L2185.66,576.96L2196.01,584.48L2192.05,596.64L2202.40,589.12L2212.75,596.64L2208.79,584.48L2219.14,576.96L2206.35,576.96Z" fill="#000"/>
<circle cx="2202.4" cy="627.9" r="9.5" fill="#000"/>
<text class="l" x="2257.8" y="593.5">2017</text>
<text class="l" x="2257.8" y="639.3">2018</text>
<rect x="2011" y="665.5" width="486.1" height="236.2" rx="5.5" fill="#fff" stroke="#262626" stroke-width="1.4"/>
<text class="l" x="2254.5" y="702" text-anchor="middle">Months</text>
<circle cx="2054.0" cy="735.4" r="12" fill="#0000ff"/>
<text class="l" x="2108.5" y="746.9">1</text>
<circle cx="2054.0" cy="781.0" r="12" fill="#ffa500"/>
<text class="l" x="2108.5" y="792.5">2</text>
<circle cx="2054.0" cy="826.6" r="12" fill="#008000"/>
<text class="l" x="2108.5" y="838.1">3</text>
<circle cx="2054.0" cy="872.2" r="12" fill="#ff0000"/>
<text class="l" x="2108.5" y="883.7">4</text>
<circle cx="2222.2" cy="735.4" r="12" fill="#800080"/>
<text class="l" x="2276.7" y="746.9">5</text>
<circle cx="2222.2" cy="781.0" r="12" fill="#a52a2a"/>
<text class="l" x="2276.7" y="792.5">6</text>
<circle cx="2222.2" cy="826.6" r="12" fill="#ffc0cb"/>
<text class="l" x="2276.7" y="838.1">7</text>
<circle cx="2222.2" cy="872.2" r="12" fill="#808080"/>
<text class="l" x="2276.7" y="883.7">8</text>
<circle cx="2390.5" cy="735.4" r="12" fill="#808000"/>
<text class="l" x="2445.0" y="746.9">9</text>
<circle cx="2390.5" cy="781.0" r="12" fill="#00ffff"/>
<text class="l" x="2445.0" y="792.5">10</text>
<circle cx="2390.5" cy="826.6" r="12" fill="#00ff00"/>
<text class="l" x="2445.0" y="838.1">11</text>
<circle cx="2390.5" cy="872.2" r="12" fill="#000080"/>
<text class="l" x="2445.0" y="883.7">12</text>
</svg></body></html>
